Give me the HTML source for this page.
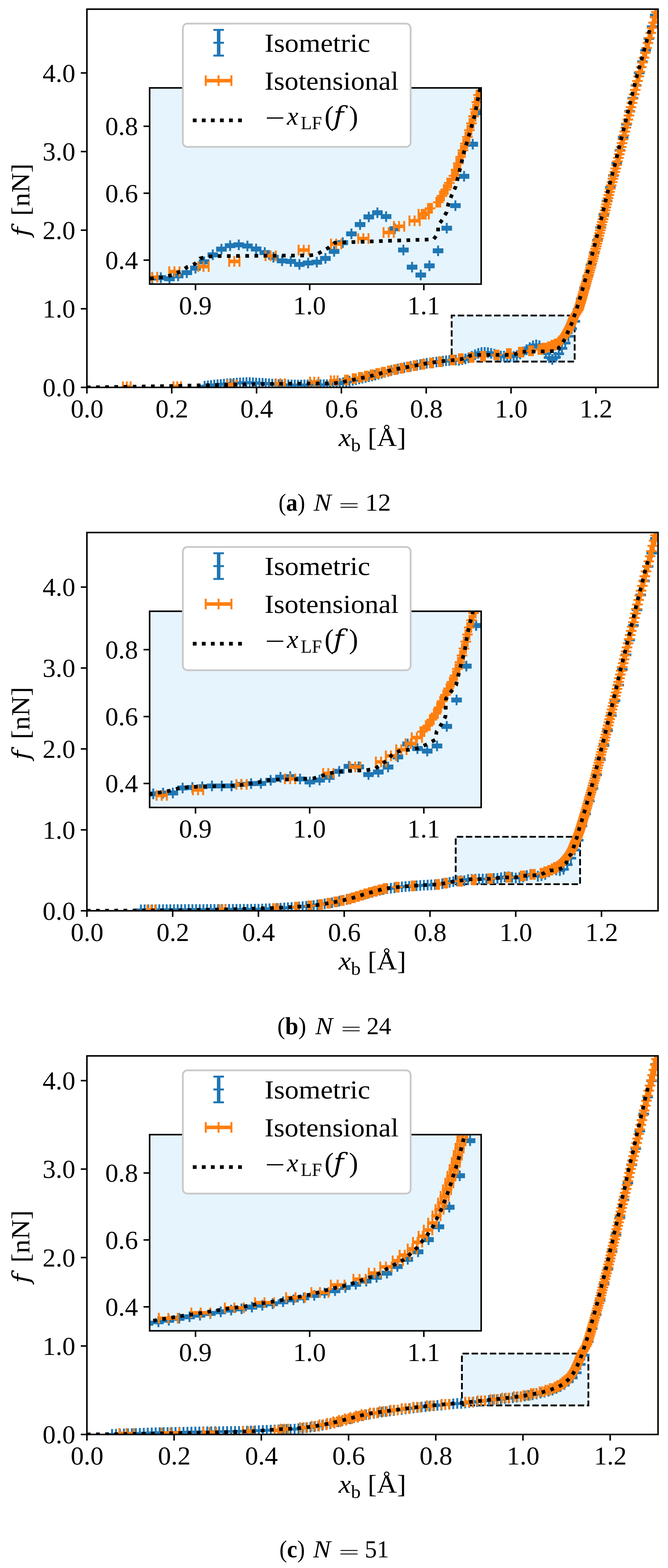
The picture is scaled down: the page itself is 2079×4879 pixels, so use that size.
<!DOCTYPE html>
<html><head><meta charset="utf-8"><title>Force-extension curves</title>
<style>
html,body{margin:0;padding:0;background:#fff;width:2079px;height:4879px;overflow:hidden;}
svg{display:block;}
text{font-family:'Liberation Serif', 'DejaVu Serif', serif;fill:#000;}
.tk{stroke:#000;stroke-width:4.8;}
text.dvf{font-family:'DejaVu Serif',serif;}
</style></head><body>
<svg width="2079" height="4879" viewBox="0 0 2079 4879">
<rect width="2079" height="4879" fill="#fff"/>
<defs>
<clipPath id="cma"><rect x="270.5" y="28.5" width="1777.5" height="1176.9"/></clipPath>
<clipPath id="cia"><rect x="465.7" y="273.5" width="1031.8" height="610.5"/></clipPath>
<clipPath id="cmb"><rect x="270.5" y="1657.0" width="1777.5" height="1177.0"/></clipPath>
<clipPath id="cib"><rect x="465.7" y="1902.0" width="1031.8" height="610.5"/></clipPath>
<clipPath id="cmc"><rect x="270.5" y="3285.5" width="1777.5" height="1178.0"/></clipPath>
<clipPath id="cic"><rect x="465.7" y="3530.5" width="1031.8" height="610.5"/></clipPath>
</defs>
<path d="M1405.7 1125.1H1788.5V981.7H1405.7Z" fill="#e6f4fd" stroke="#000" stroke-width="5.6" stroke-dasharray="20 8.3" stroke-dashoffset="7.3"/>
<g clip-path="url(#cma)">
<path d="M636.9 1200.6V1202.8M646.9 1199.4V1201.6M656.9 1198.1V1200.3M666.9 1196.9V1199.1M677.0 1196.0V1198.2M687.0 1195.1V1197.3M697.0 1194.1V1196.3M707.0 1193.2V1195.4M717.0 1192.3V1194.5M727.1 1191.6V1193.8M737.1 1191.0V1193.2M747.1 1190.4V1192.6M757.1 1189.9V1192.1M767.1 1189.3V1191.5M777.2 1189.5V1191.7M787.2 1190.1V1192.3M797.2 1190.6V1192.8M807.2 1191.1V1193.3M817.2 1191.7V1193.9M827.2 1192.3V1194.5M837.3 1193.1V1195.3M847.3 1193.9V1196.1M857.3 1194.7V1196.9M867.3 1195.6V1197.8M877.3 1196.1V1198.3M887.4 1196.2V1198.4M897.4 1196.4V1198.6M907.4 1196.6V1198.8M917.4 1196.7V1198.9M927.4 1196.9V1199.1M937.5 1196.9V1199.1M947.5 1196.7V1198.9M957.5 1196.6V1198.8M967.5 1196.4V1198.6M977.5 1196.3V1198.5M987.6 1196.2V1198.4M997.6 1196.0V1198.2M1007.6 1195.9V1198.1M1017.6 1195.8V1198.0M1027.6 1195.6V1197.8M1037.6 1195.2V1197.4M1047.7 1193.5V1195.7M1057.7 1191.7V1193.9M1067.7 1189.6V1191.8M1077.7 1187.3V1189.5M1087.7 1185.0V1187.2M1097.8 1182.7V1184.9M1107.8 1180.4V1182.6M1117.8 1178.0V1180.2M1127.8 1175.7V1177.9M1137.8 1173.4V1175.6M1147.9 1171.1V1173.3M1157.9 1168.8V1171.0M1167.9 1166.4V1168.6M1177.9 1163.4V1165.6M1187.9 1160.4V1162.6M1197.9 1157.4V1159.6M1208.0 1154.4V1156.6M1218.0 1151.4V1153.6M1228.0 1149.0V1151.2M1238.0 1146.9V1149.1M1248.0 1144.8V1147.0M1258.1 1142.7V1144.9M1268.1 1140.7V1142.9M1278.1 1138.7V1140.9M1288.1 1136.8V1139.0M1298.1 1135.0V1137.2M1308.2 1133.1V1135.3M1318.2 1131.2V1133.4M1328.2 1129.5V1131.7M1338.2 1128.1V1130.3M1348.2 1126.7V1128.9M1358.2 1125.3V1127.5M1368.3 1123.9V1126.1M1378.3 1122.5V1124.7M1388.3 1121.5V1123.7M1398.3 1120.5V1122.7M1408.3 1119.5V1121.7M1418.4 1119.3V1121.5M1428.4 1120.1V1122.3M1438.4 1117.9V1120.1M1448.4 1115.6V1117.8M1458.4 1112.3V1114.5M1468.5 1107.7V1109.9M1478.5 1102.6V1104.8M1488.5 1098.5V1100.7M1498.5 1095.9V1098.1M1508.5 1095.3V1097.5M1518.5 1096.1V1098.3M1528.6 1098.3V1100.5M1538.6 1100.9V1103.1M1548.6 1104.4V1106.6M1558.6 1107.0V1109.2M1568.6 1107.4V1109.6M1578.7 1109.6V1111.8M1588.7 1108.6V1110.8M1598.7 1108.0V1110.2M1608.7 1105.2V1107.4M1618.7 1100.1V1102.3M1628.8 1093.7V1095.9M1638.8 1087.2V1089.4M1648.8 1080.5V1082.7M1658.8 1074.9V1077.1M1668.8 1071.8V1074.0M1678.8 1074.6V1076.8M1688.9 1083.5V1085.7M1698.9 1099.1V1101.3M1708.9 1111.6V1113.8M1718.9 1117.3V1119.5M1728.9 1110.6V1112.8M1739.0 1099.7V1101.9M1749.0 1083.1V1085.3M1759.0 1066.6V1068.8M1769.0 1045.2V1047.4M1779.0 1021.7V1023.9M1789.1 998.7V1000.9M1799.1 961.9V964.1M1809.1 929.2V931.4M1819.1 894.1V896.3M1829.1 859.1V861.3M1839.1 823.7V825.9M1849.2 785.4V787.6M1859.2 747.1V749.3M1869.2 706.7V708.9M1879.2 666.3V668.5M1889.2 624.4V626.6M1899.3 582.5V584.7M1909.3 544.8V547.0M1919.3 507.0V509.2M1929.3 466.7V468.9M1939.3 426.2V428.4M1949.4 385.6V387.8M1959.4 345.1V347.3M1969.4 304.5V306.7M1979.4 264.6V266.8M1989.4 225.8V228.0M1999.4 191.0V193.2M2009.5 155.3V157.5M2019.5 118.7V120.9M2029.5 82.1V84.3M2039.5 45.5V47.7M2049.5 8.8V11.0M2059.6 -27.8V-25.6" stroke="#1f77b4" stroke-width="11" fill="none"/>
<path d="M620.4 1200.6h33M620.4 1202.8h33M630.4 1199.4h33M630.4 1201.6h33M640.4 1198.1h33M640.4 1200.3h33M650.4 1196.9h33M650.4 1199.1h33M660.5 1196.0h33M660.5 1198.2h33M670.5 1195.1h33M670.5 1197.3h33M680.5 1194.1h33M680.5 1196.3h33M690.5 1193.2h33M690.5 1195.4h33M700.5 1192.3h33M700.5 1194.5h33M710.6 1191.6h33M710.6 1193.8h33M720.6 1191.0h33M720.6 1193.2h33M730.6 1190.4h33M730.6 1192.6h33M740.6 1189.9h33M740.6 1192.1h33M750.6 1189.3h33M750.6 1191.5h33M760.7 1189.5h33M760.7 1191.7h33M770.7 1190.1h33M770.7 1192.3h33M780.7 1190.6h33M780.7 1192.8h33M790.7 1191.1h33M790.7 1193.3h33M800.7 1191.7h33M800.7 1193.9h33M810.7 1192.3h33M810.7 1194.5h33M820.8 1193.1h33M820.8 1195.3h33M830.8 1193.9h33M830.8 1196.1h33M840.8 1194.7h33M840.8 1196.9h33M850.8 1195.6h33M850.8 1197.8h33M860.8 1196.1h33M860.8 1198.3h33M870.9 1196.2h33M870.9 1198.4h33M880.9 1196.4h33M880.9 1198.6h33M890.9 1196.6h33M890.9 1198.8h33M900.9 1196.7h33M900.9 1198.9h33M910.9 1196.9h33M910.9 1199.1h33M921.0 1196.9h33M921.0 1199.1h33M931.0 1196.7h33M931.0 1198.9h33M941.0 1196.6h33M941.0 1198.8h33M951.0 1196.4h33M951.0 1198.6h33M961.0 1196.3h33M961.0 1198.5h33M971.1 1196.2h33M971.1 1198.4h33M981.1 1196.0h33M981.1 1198.2h33M991.1 1195.9h33M991.1 1198.1h33M1001.1 1195.8h33M1001.1 1198.0h33M1011.1 1195.6h33M1011.1 1197.8h33M1021.1 1195.2h33M1021.1 1197.4h33M1031.2 1193.5h33M1031.2 1195.7h33M1041.2 1191.7h33M1041.2 1193.9h33M1051.2 1189.6h33M1051.2 1191.8h33M1061.2 1187.3h33M1061.2 1189.5h33M1071.2 1185.0h33M1071.2 1187.2h33M1081.3 1182.7h33M1081.3 1184.9h33M1091.3 1180.4h33M1091.3 1182.6h33M1101.3 1178.0h33M1101.3 1180.2h33M1111.3 1175.7h33M1111.3 1177.9h33M1121.3 1173.4h33M1121.3 1175.6h33M1131.4 1171.1h33M1131.4 1173.3h33M1141.4 1168.8h33M1141.4 1171.0h33M1151.4 1166.4h33M1151.4 1168.6h33M1161.4 1163.4h33M1161.4 1165.6h33M1171.4 1160.4h33M1171.4 1162.6h33M1181.4 1157.4h33M1181.4 1159.6h33M1191.5 1154.4h33M1191.5 1156.6h33M1201.5 1151.4h33M1201.5 1153.6h33M1211.5 1149.0h33M1211.5 1151.2h33M1221.5 1146.9h33M1221.5 1149.1h33M1231.5 1144.8h33M1231.5 1147.0h33M1241.6 1142.7h33M1241.6 1144.9h33M1251.6 1140.7h33M1251.6 1142.9h33M1261.6 1138.7h33M1261.6 1140.9h33M1271.6 1136.8h33M1271.6 1139.0h33M1281.6 1135.0h33M1281.6 1137.2h33M1291.7 1133.1h33M1291.7 1135.3h33M1301.7 1131.2h33M1301.7 1133.4h33M1311.7 1129.5h33M1311.7 1131.7h33M1321.7 1128.1h33M1321.7 1130.3h33M1331.7 1126.7h33M1331.7 1128.9h33M1341.7 1125.3h33M1341.7 1127.5h33M1351.8 1123.9h33M1351.8 1126.1h33M1361.8 1122.5h33M1361.8 1124.7h33M1371.8 1121.5h33M1371.8 1123.7h33M1381.8 1120.5h33M1381.8 1122.7h33M1391.8 1119.5h33M1391.8 1121.7h33M1401.9 1119.3h33M1401.9 1121.5h33M1411.9 1120.1h33M1411.9 1122.3h33M1421.9 1117.9h33M1421.9 1120.1h33M1431.9 1115.6h33M1431.9 1117.8h33M1441.9 1112.3h33M1441.9 1114.5h33M1452.0 1107.7h33M1452.0 1109.9h33M1462.0 1102.6h33M1462.0 1104.8h33M1472.0 1098.5h33M1472.0 1100.7h33M1482.0 1095.9h33M1482.0 1098.1h33M1492.0 1095.3h33M1492.0 1097.5h33M1502.0 1096.1h33M1502.0 1098.3h33M1512.1 1098.3h33M1512.1 1100.5h33M1522.1 1100.9h33M1522.1 1103.1h33M1532.1 1104.4h33M1532.1 1106.6h33M1542.1 1107.0h33M1542.1 1109.2h33M1552.1 1107.4h33M1552.1 1109.6h33M1562.2 1109.6h33M1562.2 1111.8h33M1572.2 1108.6h33M1572.2 1110.8h33M1582.2 1108.0h33M1582.2 1110.2h33M1592.2 1105.2h33M1592.2 1107.4h33M1602.2 1100.1h33M1602.2 1102.3h33M1612.3 1093.7h33M1612.3 1095.9h33M1622.3 1087.2h33M1622.3 1089.4h33M1632.3 1080.5h33M1632.3 1082.7h33M1642.3 1074.9h33M1642.3 1077.1h33M1652.3 1071.8h33M1652.3 1074.0h33M1662.3 1074.6h33M1662.3 1076.8h33M1672.4 1083.5h33M1672.4 1085.7h33M1682.4 1099.1h33M1682.4 1101.3h33M1692.4 1111.6h33M1692.4 1113.8h33M1702.4 1117.3h33M1702.4 1119.5h33M1712.4 1110.6h33M1712.4 1112.8h33M1722.5 1099.7h33M1722.5 1101.9h33M1732.5 1083.1h33M1732.5 1085.3h33M1742.5 1066.6h33M1742.5 1068.8h33M1752.5 1045.2h33M1752.5 1047.4h33M1762.5 1021.7h33M1762.5 1023.9h33M1772.6 998.7h33M1772.6 1000.9h33M1782.6 961.9h33M1782.6 964.1h33M1792.6 929.2h33M1792.6 931.4h33M1802.6 894.1h33M1802.6 896.3h33M1812.6 859.1h33M1812.6 861.3h33M1822.6 823.7h33M1822.6 825.9h33M1832.7 785.4h33M1832.7 787.6h33M1842.7 747.1h33M1842.7 749.3h33M1852.7 706.7h33M1852.7 708.9h33M1862.7 666.3h33M1862.7 668.5h33M1872.7 624.4h33M1872.7 626.6h33M1882.8 582.5h33M1882.8 584.7h33M1892.8 544.8h33M1892.8 547.0h33M1902.8 507.0h33M1902.8 509.2h33M1912.8 466.7h33M1912.8 468.9h33M1922.8 426.2h33M1922.8 428.4h33M1932.9 385.6h33M1932.9 387.8h33M1942.9 345.1h33M1942.9 347.3h33M1952.9 304.5h33M1952.9 306.7h33M1962.9 264.6h33M1962.9 266.8h33M1972.9 225.8h33M1972.9 228.0h33M1982.9 191.0h33M1982.9 193.2h33M1993.0 155.3h33M1993.0 157.5h33M2003.0 118.7h33M2003.0 120.9h33M2013.0 82.1h33M2013.0 84.3h33M2023.0 45.5h33M2023.0 47.7h33M2033.0 8.8h33M2033.0 11.0h33M2043.1 -27.8h33M2043.1 -25.6h33M620.4 1201.7h33M636.9 1185.2v33M630.4 1200.5h33M646.9 1184.0v33M640.4 1199.2h33M656.9 1182.7v33M650.4 1198.0h33M666.9 1181.5v33M660.5 1197.1h33M677.0 1180.6v33M670.5 1196.2h33M687.0 1179.7v33M680.5 1195.2h33M697.0 1178.7v33M690.5 1194.3h33M707.0 1177.8v33M700.5 1193.4h33M717.0 1176.9v33M710.6 1192.7h33M727.1 1176.2v33M720.6 1192.1h33M737.1 1175.6v33M730.6 1191.5h33M747.1 1175.0v33M740.6 1191.0h33M757.1 1174.5v33M750.6 1190.4h33M767.1 1173.9v33M760.7 1190.6h33M777.2 1174.1v33M770.7 1191.2h33M787.2 1174.7v33M780.7 1191.7h33M797.2 1175.2v33M790.7 1192.2h33M807.2 1175.7v33M800.7 1192.8h33M817.2 1176.3v33M810.7 1193.4h33M827.2 1176.9v33M820.8 1194.2h33M837.3 1177.7v33M830.8 1195.0h33M847.3 1178.5v33M840.8 1195.8h33M857.3 1179.3v33M850.8 1196.7h33M867.3 1180.2v33M860.8 1197.2h33M877.3 1180.7v33M870.9 1197.3h33M887.4 1180.8v33M880.9 1197.5h33M897.4 1181.0v33M890.9 1197.7h33M907.4 1181.2v33M900.9 1197.8h33M917.4 1181.3v33M910.9 1198.0h33M927.4 1181.5v33M921.0 1198.0h33M937.5 1181.5v33M931.0 1197.8h33M947.5 1181.3v33M941.0 1197.7h33M957.5 1181.2v33M951.0 1197.5h33M967.5 1181.0v33M961.0 1197.4h33M977.5 1180.9v33M971.1 1197.3h33M987.6 1180.8v33M981.1 1197.1h33M997.6 1180.6v33M991.1 1197.0h33M1007.6 1180.5v33M1001.1 1196.9h33M1017.6 1180.4v33M1011.1 1196.7h33M1027.6 1180.2v33M1021.1 1196.3h33M1037.6 1179.8v33M1031.2 1194.6h33M1047.7 1178.1v33M1041.2 1192.8h33M1057.7 1176.3v33M1051.2 1190.7h33M1067.7 1174.2v33M1061.2 1188.4h33M1077.7 1171.9v33M1071.2 1186.1h33M1087.7 1169.6v33M1081.3 1183.8h33M1097.8 1167.3v33M1091.3 1181.5h33M1107.8 1165.0v33M1101.3 1179.1h33M1117.8 1162.6v33M1111.3 1176.8h33M1127.8 1160.3v33M1121.3 1174.5h33M1137.8 1158.0v33M1131.4 1172.2h33M1147.9 1155.7v33M1141.4 1169.9h33M1157.9 1153.4v33M1151.4 1167.5h33M1167.9 1151.0v33M1161.4 1164.5h33M1177.9 1148.0v33M1171.4 1161.5h33M1187.9 1145.0v33M1181.4 1158.5h33M1197.9 1142.0v33M1191.5 1155.5h33M1208.0 1139.0v33M1201.5 1152.5h33M1218.0 1136.0v33M1211.5 1150.1h33M1228.0 1133.6v33M1221.5 1148.0h33M1238.0 1131.5v33M1231.5 1145.9h33M1248.0 1129.4v33M1241.6 1143.8h33M1258.1 1127.3v33M1251.6 1141.8h33M1268.1 1125.3v33M1261.6 1139.8h33M1278.1 1123.3v33M1271.6 1137.9h33M1288.1 1121.4v33M1281.6 1136.1h33M1298.1 1119.6v33M1291.7 1134.2h33M1308.2 1117.7v33M1301.7 1132.3h33M1318.2 1115.8v33M1311.7 1130.6h33M1328.2 1114.1v33M1321.7 1129.2h33M1338.2 1112.7v33M1331.7 1127.8h33M1348.2 1111.3v33M1341.7 1126.4h33M1358.2 1109.9v33M1351.8 1125.0h33M1368.3 1108.5v33M1361.8 1123.6h33M1378.3 1107.1v33M1371.8 1122.6h33M1388.3 1106.1v33M1381.8 1121.6h33M1398.3 1105.1v33M1391.8 1120.6h33M1408.3 1104.1v33M1401.9 1120.4h33M1418.4 1103.9v33M1411.9 1121.2h33M1428.4 1104.7v33M1421.9 1119.0h33M1438.4 1102.5v33M1431.9 1116.7h33M1448.4 1100.2v33M1441.9 1113.4h33M1458.4 1096.9v33M1452.0 1108.8h33M1468.5 1092.3v33M1462.0 1103.7h33M1478.5 1087.2v33M1472.0 1099.6h33M1488.5 1083.1v33M1482.0 1097.0h33M1498.5 1080.5v33M1492.0 1096.4h33M1508.5 1079.9v33M1502.0 1097.2h33M1518.5 1080.7v33M1512.1 1099.4h33M1528.6 1082.9v33M1522.1 1102.0h33M1538.6 1085.5v33M1532.1 1105.5h33M1548.6 1089.0v33M1542.1 1108.1h33M1558.6 1091.6v33M1552.1 1108.5h33M1568.6 1092.0v33M1562.2 1110.7h33M1578.7 1094.2v33M1572.2 1109.7h33M1588.7 1093.2v33M1582.2 1109.1h33M1598.7 1092.6v33M1592.2 1106.3h33M1608.7 1089.8v33M1602.2 1101.2h33M1618.7 1084.7v33M1612.3 1094.8h33M1628.8 1078.3v33M1622.3 1088.3h33M1638.8 1071.8v33M1632.3 1081.6h33M1648.8 1065.1v33M1642.3 1076.0h33M1658.8 1059.5v33M1652.3 1072.9h33M1668.8 1056.4v33M1662.3 1075.7h33M1678.8 1059.2v33M1672.4 1084.6h33M1688.9 1068.1v33M1682.4 1100.2h33M1698.9 1083.7v33M1692.4 1112.7h33M1708.9 1096.2v33M1702.4 1118.4h33M1718.9 1101.9v33M1712.4 1111.7h33M1728.9 1095.2v33M1722.5 1100.8h33M1739.0 1084.3v33M1732.5 1084.2h33M1749.0 1067.7v33M1742.5 1067.7h33M1759.0 1051.2v33M1752.5 1046.3h33M1769.0 1029.8v33M1762.5 1022.8h33M1779.0 1006.3v33M1772.6 999.8h33M1789.1 983.3v33M1782.6 963.0h33M1799.1 946.5v33M1792.6 930.3h33M1809.1 913.8v33M1802.6 895.2h33M1819.1 878.7v33M1812.6 860.2h33M1829.1 843.7v33M1822.6 824.8h33M1839.1 808.3v33M1832.7 786.5h33M1849.2 770.0v33M1842.7 748.2h33M1859.2 731.7v33M1852.7 707.8h33M1869.2 691.3v33M1862.7 667.4h33M1879.2 650.9v33M1872.7 625.5h33M1889.2 609.0v33M1882.8 583.6h33M1899.3 567.1v33M1892.8 545.9h33M1909.3 529.4v33M1902.8 508.1h33M1919.3 491.6v33M1912.8 467.8h33M1929.3 451.3v33M1922.8 427.3h33M1939.3 410.8v33M1932.9 386.7h33M1949.4 370.2v33M1942.9 346.2h33M1959.4 329.7v33M1952.9 305.6h33M1969.4 289.1v33M1962.9 265.7h33M1979.4 249.2v33M1972.9 226.9h33M1989.4 210.4v33M1982.9 192.1h33M1999.4 175.6v33M1993.0 156.4h33M2009.5 139.9v33M2003.0 119.8h33M2019.5 103.3v33M2013.0 83.2h33M2029.5 66.7v33M2023.0 46.6h33M2039.5 30.1v33M2033.0 9.9h33M2049.5 -6.6v33M2043.1 -26.7h33M2059.6 -43.2v33" stroke="#1f77b4" stroke-width="6" fill="none"/>
<path d="M1720.1 1074.0H1724.6M1727.4 1069.7H1731.9M1737.0 1065.2H1741.5M1741.2 1060.6H1745.7M1745.6 1055.9H1750.1M1749.7 1051.1H1754.2M1755.1 1045.9H1759.6M382.7 1203.4H406.5M539.8 1203.0H563.5M708.1 1196.8H735.8M858.6 1193.7H886.3M964.8 1188.8H991.2M1029.5 1184.6H1050.6M1402.4 1120.0H1414.3M1428.1 1116.0H1440.0M1461.8 1112.3H1473.7M1497.4 1108.5H1509.3M1539.4 1104.4H1551.3M1577.7 1100.1H1589.6M1615.2 1095.7H1627.1M1646.6 1091.8H1658.5M1675.9 1087.4H1687.8M1687.9 1082.9H1699.8M1705.9 1078.8H1717.7M1716.4 1074.0H1728.3M1074.0 1182.2H1082.7M1098.1 1178.1H1106.8M1117.2 1174.1H1126.0M1135.6 1170.1H1144.3M1153.7 1166.0H1162.4M1171.3 1162.0H1180.0M1188.8 1157.9H1197.5M1207.3 1153.9H1216.0M1226.2 1149.9H1234.9M1245.9 1145.8H1254.6M1266.6 1141.8H1275.4M1287.4 1137.8H1296.1M1312.2 1133.7H1320.9M1338.5 1129.7H1347.2M1366.1 1125.7H1374.8M1757.5 1041.5H1762.0M1760.1 1036.8H1764.6M1762.8 1032.1H1767.3M1765.4 1027.3H1769.9M1768.1 1022.5H1772.6M1770.6 1017.5H1775.1M1773.0 1012.6H1777.5M1775.4 1007.5H1779.9M1777.7 1002.5H1782.2M1779.6 997.3H1784.1M1781.5 992.1H1786.0M1783.5 986.8H1787.9M1786.9 981.5H1791.4M1790.4 976.1H1794.9M1794.0 970.6H1798.5M1797.4 965.1H1801.8M1798.0 960.8H1803.8M1799.8 955.1H1805.6M1801.6 949.4H1807.4M1803.4 943.6H1809.2M1805.2 937.8H1811.0M1806.9 931.9H1812.7M1808.6 925.9H1814.4M1810.4 919.8H1816.2M1812.1 913.7H1817.9M1813.9 907.4H1819.7M1815.7 901.1H1821.5M1817.5 894.8H1823.3M1819.4 888.3H1825.2M1821.2 881.8H1827.0M1823.1 875.2H1828.9M1825.0 868.5H1830.8M1827.0 861.8H1832.8M1828.9 854.9H1834.7M1830.9 848.0H1836.7M1832.9 841.0H1838.7M1835.0 833.9H1840.8M1836.9 826.8H1842.7M1838.8 819.5H1844.6M1840.7 812.2H1846.5M1842.7 804.7H1848.5M1844.6 797.2H1850.5M1846.6 789.6H1852.4M1848.7 781.9H1854.5M1850.7 774.1H1856.5M1852.8 766.2H1858.6M1854.9 758.2H1860.7M1857.0 750.1H1862.8M1859.0 741.9H1864.8M1861.1 733.7H1866.9M1863.1 725.3H1869.0M1865.2 716.8H1871.1M1867.4 708.2H1873.2M1869.5 699.6H1875.3M1871.7 690.8H1877.5M1873.9 681.9H1879.7M1876.1 672.9H1882.0M1878.4 663.8H1884.2M1880.6 654.6H1886.4M1882.8 645.2H1888.6M1885.1 635.8H1890.9M1887.3 626.3H1893.1M1889.6 616.6H1895.5M1892.0 606.8H1897.8M1894.3 596.9H1900.2M1896.7 586.9H1902.5M1899.4 576.8H1905.2M1902.1 566.5H1907.9M1904.8 556.1H1910.6M1907.6 545.6H1913.4M1910.5 535.0H1916.3M1913.3 524.2H1919.1M1916.2 513.3H1922.0M1919.1 502.3H1924.9M1921.8 491.2H1927.6M1924.6 479.9H1930.4M1927.4 468.5H1933.3M1930.3 456.9H1936.1M1933.2 445.2H1939.0M1936.1 433.4H1941.9M1939.1 421.4H1944.9M1942.1 409.3H1947.9M1945.1 397.0H1950.9M1948.2 384.6H1954.0M1951.3 372.0H1957.1M1954.4 359.3H1960.2M1957.6 346.4H1963.4M1960.8 333.4H1966.6M1964.1 320.2H1969.9M1967.4 306.9H1973.2M1970.7 293.4H1976.5M1974.1 279.7H1979.9M1977.6 265.9H1983.5M1981.2 251.9H1987.0M1984.8 237.8H1990.6M1988.7 223.4H1994.5M1992.9 208.9H1998.7M1997.1 194.3H2002.9M2001.4 179.4H2007.2M2005.6 164.4H2011.4M2009.7 149.2H2015.5M2013.9 133.8H2019.7M2018.2 118.2H2024.0M2022.5 102.5H2028.3M2026.9 86.5H2032.7M2031.3 70.4H2037.1M2035.8 54.0H2041.6M2040.3 37.5H2046.1M2044.9 20.8H2050.7M2049.5 3.8H2055.3M2054.2 -13.3H2060.0M2058.9 -30.6H2064.7M2063.7 -48.2H2069.5M2068.6 -65.9H2074.4" stroke="#ff7f0e" stroke-width="11" fill="none"/>
<path d="M1720.1 1057.5v33M1724.6 1057.5v33M1727.4 1053.2v33M1731.9 1053.2v33M1737.0 1048.7v33M1741.5 1048.7v33M1741.2 1044.1v33M1745.7 1044.1v33M1745.6 1039.4v33M1750.1 1039.4v33M1749.7 1034.6v33M1754.2 1034.6v33M1755.1 1029.4v33M1759.6 1029.4v33M382.7 1186.9v33M406.5 1186.9v33M539.8 1186.5v33M563.5 1186.5v33M708.1 1180.3v33M735.8 1180.3v33M858.6 1177.2v33M886.3 1177.2v33M964.8 1172.3v33M991.2 1172.3v33M1029.5 1168.1v33M1050.6 1168.1v33M1402.4 1103.5v33M1414.3 1103.5v33M1428.1 1099.5v33M1440.0 1099.5v33M1461.8 1095.8v33M1473.7 1095.8v33M1497.4 1092.0v33M1509.3 1092.0v33M1539.4 1087.9v33M1551.3 1087.9v33M1577.7 1083.6v33M1589.6 1083.6v33M1615.2 1079.2v33M1627.1 1079.2v33M1646.6 1075.3v33M1658.5 1075.3v33M1675.9 1070.9v33M1687.8 1070.9v33M1687.9 1066.4v33M1699.8 1066.4v33M1705.9 1062.3v33M1717.7 1062.3v33M1716.4 1057.5v33M1728.3 1057.5v33M1074.0 1165.7v33M1082.7 1165.7v33M1098.1 1161.6v33M1106.8 1161.6v33M1117.2 1157.6v33M1126.0 1157.6v33M1135.6 1153.6v33M1144.3 1153.6v33M1153.7 1149.5v33M1162.4 1149.5v33M1171.3 1145.5v33M1180.0 1145.5v33M1188.8 1141.4v33M1197.5 1141.4v33M1207.3 1137.4v33M1216.0 1137.4v33M1226.2 1133.4v33M1234.9 1133.4v33M1245.9 1129.3v33M1254.6 1129.3v33M1266.6 1125.3v33M1275.4 1125.3v33M1287.4 1121.3v33M1296.1 1121.3v33M1312.2 1117.2v33M1320.9 1117.2v33M1338.5 1113.2v33M1347.2 1113.2v33M1366.1 1109.2v33M1374.8 1109.2v33M1757.5 1025.0v33M1762.0 1025.0v33M1760.1 1020.3v33M1764.6 1020.3v33M1762.8 1015.6v33M1767.3 1015.6v33M1765.4 1010.8v33M1769.9 1010.8v33M1768.1 1006.0v33M1772.6 1006.0v33M1770.6 1001.0v33M1775.1 1001.0v33M1773.0 996.1v33M1777.5 996.1v33M1775.4 991.0v33M1779.9 991.0v33M1777.7 986.0v33M1782.2 986.0v33M1779.6 980.8v33M1784.1 980.8v33M1781.5 975.6v33M1786.0 975.6v33M1783.5 970.3v33M1787.9 970.3v33M1786.9 965.0v33M1791.4 965.0v33M1790.4 959.6v33M1794.9 959.6v33M1794.0 954.1v33M1798.5 954.1v33M1797.4 948.6v33M1801.8 948.6v33M1798.0 944.3v33M1803.8 944.3v33M1799.8 938.6v33M1805.6 938.6v33M1801.6 932.9v33M1807.4 932.9v33M1803.4 927.1v33M1809.2 927.1v33M1805.2 921.3v33M1811.0 921.3v33M1806.9 915.4v33M1812.7 915.4v33M1808.6 909.4v33M1814.4 909.4v33M1810.4 903.3v33M1816.2 903.3v33M1812.1 897.2v33M1817.9 897.2v33M1813.9 890.9v33M1819.7 890.9v33M1815.7 884.6v33M1821.5 884.6v33M1817.5 878.3v33M1823.3 878.3v33M1819.4 871.8v33M1825.2 871.8v33M1821.2 865.3v33M1827.0 865.3v33M1823.1 858.7v33M1828.9 858.7v33M1825.0 852.0v33M1830.8 852.0v33M1827.0 845.3v33M1832.8 845.3v33M1828.9 838.4v33M1834.7 838.4v33M1830.9 831.5v33M1836.7 831.5v33M1832.9 824.5v33M1838.7 824.5v33M1835.0 817.4v33M1840.8 817.4v33M1836.9 810.3v33M1842.7 810.3v33M1838.8 803.0v33M1844.6 803.0v33M1840.7 795.7v33M1846.5 795.7v33M1842.7 788.2v33M1848.5 788.2v33M1844.6 780.7v33M1850.5 780.7v33M1846.6 773.1v33M1852.4 773.1v33M1848.7 765.4v33M1854.5 765.4v33M1850.7 757.6v33M1856.5 757.6v33M1852.8 749.7v33M1858.6 749.7v33M1854.9 741.7v33M1860.7 741.7v33M1857.0 733.6v33M1862.8 733.6v33M1859.0 725.4v33M1864.8 725.4v33M1861.1 717.2v33M1866.9 717.2v33M1863.1 708.8v33M1869.0 708.8v33M1865.2 700.3v33M1871.1 700.3v33M1867.4 691.7v33M1873.2 691.7v33M1869.5 683.1v33M1875.3 683.1v33M1871.7 674.3v33M1877.5 674.3v33M1873.9 665.4v33M1879.7 665.4v33M1876.1 656.4v33M1882.0 656.4v33M1878.4 647.3v33M1884.2 647.3v33M1880.6 638.1v33M1886.4 638.1v33M1882.8 628.7v33M1888.6 628.7v33M1885.1 619.3v33M1890.9 619.3v33M1887.3 609.8v33M1893.1 609.8v33M1889.6 600.1v33M1895.5 600.1v33M1892.0 590.3v33M1897.8 590.3v33M1894.3 580.4v33M1900.2 580.4v33M1896.7 570.4v33M1902.5 570.4v33M1899.4 560.3v33M1905.2 560.3v33M1902.1 550.0v33M1907.9 550.0v33M1904.8 539.6v33M1910.6 539.6v33M1907.6 529.1v33M1913.4 529.1v33M1910.5 518.5v33M1916.3 518.5v33M1913.3 507.7v33M1919.1 507.7v33M1916.2 496.8v33M1922.0 496.8v33M1919.1 485.8v33M1924.9 485.8v33M1921.8 474.7v33M1927.6 474.7v33M1924.6 463.4v33M1930.4 463.4v33M1927.4 452.0v33M1933.3 452.0v33M1930.3 440.4v33M1936.1 440.4v33M1933.2 428.7v33M1939.0 428.7v33M1936.1 416.9v33M1941.9 416.9v33M1939.1 404.9v33M1944.9 404.9v33M1942.1 392.8v33M1947.9 392.8v33M1945.1 380.5v33M1950.9 380.5v33M1948.2 368.1v33M1954.0 368.1v33M1951.3 355.5v33M1957.1 355.5v33M1954.4 342.8v33M1960.2 342.8v33M1957.6 329.9v33M1963.4 329.9v33M1960.8 316.9v33M1966.6 316.9v33M1964.1 303.7v33M1969.9 303.7v33M1967.4 290.4v33M1973.2 290.4v33M1970.7 276.9v33M1976.5 276.9v33M1974.1 263.2v33M1979.9 263.2v33M1977.6 249.4v33M1983.5 249.4v33M1981.2 235.4v33M1987.0 235.4v33M1984.8 221.3v33M1990.6 221.3v33M1988.7 206.9v33M1994.5 206.9v33M1992.9 192.4v33M1998.7 192.4v33M1997.1 177.8v33M2002.9 177.8v33M2001.4 162.9v33M2007.2 162.9v33M2005.6 147.9v33M2011.4 147.9v33M2009.7 132.7v33M2015.5 132.7v33M2013.9 117.3v33M2019.7 117.3v33M2018.2 101.7v33M2024.0 101.7v33M2022.5 86.0v33M2028.3 86.0v33M2026.9 70.0v33M2032.7 70.0v33M2031.3 53.9v33M2037.1 53.9v33M2035.8 37.5v33M2041.6 37.5v33M2040.3 21.0v33M2046.1 21.0v33M2044.9 4.3v33M2050.7 4.3v33M2049.5 -12.7v33M2055.3 -12.7v33M2054.2 -29.8v33M2060.0 -29.8v33M2058.9 -47.1v33M2064.7 -47.1v33M2063.7 -64.7v33M2069.5 -64.7v33M2068.6 -82.4v33M2074.4 -82.4v33M1705.9 1074.0h33M1722.4 1057.5v33M1713.1 1069.7h33M1729.6 1053.2v33M1722.8 1065.2h33M1739.3 1048.7v33M1727.0 1060.6h33M1743.5 1044.1v33M1731.3 1055.9h33M1747.8 1039.4v33M1735.4 1051.1h33M1751.9 1034.6v33M1740.8 1045.9h33M1757.3 1029.4v33M378.1 1203.4h33M394.6 1186.9v33M535.2 1203.0h33M551.7 1186.5v33M705.4 1196.8h33M721.9 1180.3v33M855.9 1193.7h33M872.4 1177.2v33M961.5 1188.8h33M978.0 1172.3v33M1023.6 1184.6h33M1040.1 1168.1v33M1391.8 1120.0h33M1408.3 1103.5v33M1417.6 1116.0h33M1434.1 1099.5v33M1451.2 1112.3h33M1467.7 1095.8v33M1486.9 1108.5h33M1503.4 1092.0v33M1528.9 1104.4h33M1545.4 1087.9v33M1567.1 1100.1h33M1583.6 1083.6v33M1604.6 1095.7h33M1621.1 1079.2v33M1636.0 1091.8h33M1652.5 1075.3v33M1665.3 1087.4h33M1681.8 1070.9v33M1677.4 1082.9h33M1693.9 1066.4v33M1695.3 1078.8h33M1711.8 1062.3v33M1705.9 1074.0h33M1722.4 1057.5v33M1061.8 1182.2h33M1078.3 1165.7v33M1085.9 1178.1h33M1102.4 1161.6v33M1105.1 1174.1h33M1121.6 1157.6v33M1123.4 1170.1h33M1139.9 1153.6v33M1141.6 1166.0h33M1158.1 1149.5v33M1159.1 1162.0h33M1175.6 1145.5v33M1176.6 1157.9h33M1193.1 1141.4v33M1195.1 1153.9h33M1211.6 1137.4v33M1214.1 1149.9h33M1230.6 1133.4v33M1233.7 1145.8h33M1250.2 1129.3v33M1254.5 1141.8h33M1271.0 1125.3v33M1275.3 1137.8h33M1291.8 1121.3v33M1300.1 1133.7h33M1316.6 1117.2v33M1326.3 1129.7h33M1342.8 1113.2v33M1354.0 1125.7h33M1370.5 1109.2v33M1743.3 1041.5h33M1759.8 1025.0v33M1745.9 1036.8h33M1762.4 1020.3v33M1748.5 1032.1h33M1765.0 1015.6v33M1751.2 1027.3h33M1767.7 1010.8v33M1753.9 1022.5h33M1770.4 1006.0v33M1756.4 1017.5h33M1772.9 1001.0v33M1758.8 1012.6h33M1775.3 996.1v33M1761.1 1007.5h33M1777.6 991.0v33M1763.4 1002.5h33M1779.9 986.0v33M1765.3 997.3h33M1781.8 980.8v33M1767.3 992.1h33M1783.8 975.6v33M1769.2 986.8h33M1785.7 970.3v33M1772.7 981.5h33M1789.2 965.0v33M1776.2 976.1h33M1792.7 959.6v33M1779.8 970.6h33M1796.3 954.1v33M1783.1 965.1h33M1799.6 948.6v33M1784.4 960.8h33M1800.9 944.3v33M1786.2 955.1h33M1802.7 938.6v33M1788.0 949.4h33M1804.5 932.9v33M1789.8 943.6h33M1806.3 927.1v33M1791.6 937.8h33M1808.1 921.3v33M1793.3 931.9h33M1809.8 915.4v33M1795.0 925.9h33M1811.5 909.4v33M1796.8 919.8h33M1813.3 903.3v33M1798.5 913.7h33M1815.0 897.2v33M1800.3 907.4h33M1816.8 890.9v33M1802.1 901.1h33M1818.6 884.6v33M1803.9 894.8h33M1820.4 878.3v33M1805.8 888.3h33M1822.3 871.8v33M1807.6 881.8h33M1824.1 865.3v33M1809.5 875.2h33M1826.0 858.7v33M1811.4 868.5h33M1827.9 852.0v33M1813.4 861.8h33M1829.9 845.3v33M1815.3 854.9h33M1831.8 838.4v33M1817.3 848.0h33M1833.8 831.5v33M1819.3 841.0h33M1835.8 824.5v33M1821.4 833.9h33M1837.9 817.4v33M1823.3 826.8h33M1839.8 810.3v33M1825.2 819.5h33M1841.7 803.0v33M1827.1 812.2h33M1843.6 795.7v33M1829.1 804.7h33M1845.6 788.2v33M1831.1 797.2h33M1847.6 780.7v33M1833.0 789.6h33M1849.5 773.1v33M1835.1 781.9h33M1851.6 765.4v33M1837.1 774.1h33M1853.6 757.6v33M1839.2 766.2h33M1855.7 749.7v33M1841.3 758.2h33M1857.8 741.7v33M1843.4 750.1h33M1859.9 733.6v33M1845.4 741.9h33M1861.9 725.4v33M1847.5 733.7h33M1864.0 717.2v33M1849.6 725.3h33M1866.1 708.8v33M1851.7 716.8h33M1868.2 700.3v33M1853.8 708.2h33M1870.3 691.7v33M1855.9 699.6h33M1872.4 683.1v33M1858.1 690.8h33M1874.6 674.3v33M1860.3 681.9h33M1876.8 665.4v33M1862.6 672.9h33M1879.1 656.4v33M1864.8 663.8h33M1881.3 647.3v33M1867.0 654.6h33M1883.5 638.1v33M1869.2 645.2h33M1885.7 628.7v33M1871.5 635.8h33M1888.0 619.3v33M1873.7 626.3h33M1890.2 609.8v33M1876.0 616.6h33M1892.5 600.1v33M1878.4 606.8h33M1894.9 590.3v33M1880.7 596.9h33M1897.2 580.4v33M1883.1 586.9h33M1899.6 570.4v33M1885.8 576.8h33M1902.3 560.3v33M1888.5 566.5h33M1905.0 550.0v33M1891.2 556.1h33M1907.7 539.6v33M1894.0 545.6h33M1910.5 529.1v33M1896.9 535.0h33M1913.4 518.5v33M1899.7 524.2h33M1916.2 507.7v33M1902.6 513.3h33M1919.1 496.8v33M1905.5 502.3h33M1922.0 485.8v33M1908.2 491.2h33M1924.7 474.7v33M1911.0 479.9h33M1927.5 463.4v33M1913.9 468.5h33M1930.4 452.0v33M1916.7 456.9h33M1933.2 440.4v33M1919.6 445.2h33M1936.1 428.7v33M1922.5 433.4h33M1939.0 416.9v33M1925.5 421.4h33M1942.0 404.9v33M1928.5 409.3h33M1945.0 392.8v33M1931.5 397.0h33M1948.0 380.5v33M1934.6 384.6h33M1951.1 368.1v33M1937.7 372.0h33M1954.2 355.5v33M1940.8 359.3h33M1957.3 342.8v33M1944.0 346.4h33M1960.5 329.9v33M1947.2 333.4h33M1963.7 316.9v33M1950.5 320.2h33M1967.0 303.7v33M1953.8 306.9h33M1970.3 290.4v33M1957.1 293.4h33M1973.6 276.9v33M1960.5 279.7h33M1977.0 263.2v33M1964.0 265.9h33M1980.5 249.4v33M1967.6 251.9h33M1984.1 235.4v33M1971.2 237.8h33M1987.7 221.3v33M1975.1 223.4h33M1991.6 206.9v33M1979.3 208.9h33M1995.8 192.4v33M1983.5 194.3h33M2000.0 177.8v33M1987.8 179.4h33M2004.3 162.9v33M1992.0 164.4h33M2008.5 147.9v33M1996.1 149.2h33M2012.6 132.7v33M2000.3 133.8h33M2016.8 117.3v33M2004.6 118.2h33M2021.1 101.7v33M2008.9 102.5h33M2025.4 86.0v33M2013.3 86.5h33M2029.8 70.0v33M2017.7 70.4h33M2034.2 53.9v33M2022.2 54.0h33M2038.7 37.5v33M2026.7 37.5h33M2043.2 21.0v33M2031.3 20.8h33M2047.8 4.3v33M2035.9 3.8h33M2052.4 -12.7v33M2040.6 -13.3h33M2057.1 -29.8v33M2045.3 -30.6h33M2061.8 -47.1v33M2050.1 -48.2h33M2066.6 -64.7v33M2055.0 -65.9h33M2071.5 -82.4v33" stroke="#ff7f0e" stroke-width="6" fill="none"/>
<polyline points="270.5,1205.4 402.5,1203.4 534.5,1201.0 666.5,1198.1 785.3,1195.6 864.5,1194.4 1036.1,1192.7 1062.5,1189.5 1115.3,1178.5 1168.1,1166.5 1223.5,1150.1 1277.7,1140.3 1333.1,1129.6 1387.2,1122.7 1411.5,1120.6 1421.5,1120.0 1432.1,1118.3 1441.3,1115.8 1449.3,1112.5 1457.8,1110.3 1463.8,1106.3 1472.4,1105.0 1482.3,1104.6 1590.5,1104.1 1598.4,1103.5 1612.3,1098.5 1619.5,1094.8 1640.7,1094.4 1680.9,1093.5 1733.7,1092.4 1739.0,1088.0 1739.0,1082.1 1744.3,1077.7 1748.9,1072.3 1751.0,1066.0 1754.8,1060.0 1759.3,1053.9 1764.2,1041.1 1769.1,1028.3 1775.0,1015.6 1780.8,1002.9 1785.1,989.9 1787.0,983.5 1793.4,965.9 1801.7,939.5 1817.3,885.0 1832.9,830.7 1854.2,749.0 1874.6,667.0 1894.4,584.1 1915.4,505.1 1969.9,284.5 1983.7,230.2 1999.2,176.6 2021.1,96.6 2023.7,86.4" fill="none" stroke="#000" stroke-width="11.5" stroke-dasharray="11.5 17"/>
</g>
<line x1="270.5" y1="1205.4" x2="270.5" y2="1224.4" class="tk"/>
<text x="271.0" y="1298.9" font-size="80" text-anchor="middle" textLength="102" lengthAdjust="spacingAndGlyphs" class="tl">0.0</text>
<line x1="534.5" y1="1205.4" x2="534.5" y2="1224.4" class="tk"/>
<text x="535.0" y="1298.9" font-size="80" text-anchor="middle" textLength="102" lengthAdjust="spacingAndGlyphs" class="tl">0.2</text>
<line x1="798.5" y1="1205.4" x2="798.5" y2="1224.4" class="tk"/>
<text x="799.0" y="1298.9" font-size="80" text-anchor="middle" textLength="102" lengthAdjust="spacingAndGlyphs" class="tl">0.4</text>
<line x1="1062.5" y1="1205.4" x2="1062.5" y2="1224.4" class="tk"/>
<text x="1063.0" y="1298.9" font-size="80" text-anchor="middle" textLength="102" lengthAdjust="spacingAndGlyphs" class="tl">0.6</text>
<line x1="1326.5" y1="1205.4" x2="1326.5" y2="1224.4" class="tk"/>
<text x="1327.0" y="1298.9" font-size="80" text-anchor="middle" textLength="102" lengthAdjust="spacingAndGlyphs" class="tl">0.8</text>
<line x1="1590.5" y1="1205.4" x2="1590.5" y2="1224.4" class="tk"/>
<text x="1591.0" y="1298.9" font-size="80" text-anchor="middle" textLength="102" lengthAdjust="spacingAndGlyphs" class="tl">1.0</text>
<line x1="1854.5" y1="1205.4" x2="1854.5" y2="1224.4" class="tk"/>
<text x="1855.0" y="1298.9" font-size="80" text-anchor="middle" textLength="102" lengthAdjust="spacingAndGlyphs" class="tl">1.2</text>
<line x1="251.5" y1="1205.4" x2="270.5" y2="1205.4" class="tk"/>
<text x="234.5" y="1232.9" font-size="80" text-anchor="end" textLength="102" lengthAdjust="spacingAndGlyphs" class="tl">0.0</text>
<line x1="251.5" y1="960.8" x2="270.5" y2="960.8" class="tk"/>
<text x="234.5" y="988.3" font-size="80" text-anchor="end" textLength="102" lengthAdjust="spacingAndGlyphs" class="tl">1.0</text>
<line x1="251.5" y1="716.2" x2="270.5" y2="716.2" class="tk"/>
<text x="234.5" y="743.7" font-size="80" text-anchor="end" textLength="102" lengthAdjust="spacingAndGlyphs" class="tl">2.0</text>
<line x1="251.5" y1="471.6" x2="270.5" y2="471.6" class="tk"/>
<text x="234.5" y="499.1" font-size="80" text-anchor="end" textLength="102" lengthAdjust="spacingAndGlyphs" class="tl">3.0</text>
<line x1="251.5" y1="227.0" x2="270.5" y2="227.0" class="tk"/>
<text x="234.5" y="254.5" font-size="80" text-anchor="end" textLength="102" lengthAdjust="spacingAndGlyphs" class="tl">4.0</text>
<rect x="270.5" y="28.5" width="1777.5" height="1176.9" fill="none" stroke="#000" stroke-width="4.8"/>
<text x="1054" y="1388.0" font-size="80" textLength="210" lengthAdjust="spacingAndGlyphs" class="lab"><tspan font-style="italic">x</tspan><tspan font-size="56" dy="16">b</tspan><tspan dy="-16"> [Å]</tspan></text>
<text transform="translate(91.3 735.5) rotate(-90)" x="0" y="0" font-size="72" font-style="italic" class="dvf" textLength="29" lengthAdjust="spacingAndGlyphs">f</text>
<text transform="translate(91.3 671.7) rotate(-90)" x="0" y="0" font-size="80" textLength="163" lengthAdjust="spacingAndGlyphs" class="lab">[nN]</text>
<text x="866.8" y="1589.3" font-size="76" textLength="83" lengthAdjust="spacingAndGlyphs" class="lab">(<tspan font-weight="bold">a</tspan>)</text>
<text x="976.3" y="1589.3" font-size="76" font-style="italic" textLength="54.5" lengthAdjust="spacingAndGlyphs" class="lab">N</text>
<text transform="translate(0 1572.5) scale(1 0.72) translate(0 -1572.5)" x="1054" y="1598.3" font-size="76" textLength="64.5" lengthAdjust="spacingAndGlyphs" class="lab">=</text>
<text x="1136.6" y="1589.3" font-size="76" textLength="80" lengthAdjust="spacingAndGlyphs" class="lab">12</text>
<rect x="465.7" y="273.5" width="1031.8" height="610.5" fill="#e6f4fd"/>
<g clip-path="url(#cia)">
<path d="M-1603.0 1205.5V1214.9M-1576.0 1200.3V1209.6M-1549.1 1195.0V1204.4M-1522.1 1189.8V1199.2M-1495.1 1185.8V1195.2M-1468.2 1181.9V1191.2M-1441.2 1177.9V1187.3M-1414.2 1174.0V1183.3M-1387.3 1170.0V1179.4M-1360.3 1167.2V1176.6M-1333.3 1164.7V1174.1M-1306.4 1162.2V1171.6M-1279.4 1159.7V1169.1M-1252.4 1157.2V1166.6M-1225.5 1158.4V1167.7M-1198.5 1160.6V1170.0M-1171.5 1162.9V1172.3M-1144.6 1165.1V1174.5M-1117.6 1167.4V1176.8M-1090.6 1170.0V1179.3M-1063.6 1173.5V1182.8M-1036.7 1177.0V1186.4M-1009.7 1180.5V1189.9M-982.7 1184.0V1193.4M-955.8 1186.1V1195.5M-928.8 1186.9V1196.2M-901.8 1187.6V1197.0M-874.9 1188.3V1197.7M-847.9 1189.0V1198.4M-820.9 1189.7V1199.1M-794.0 1189.5V1198.9M-767.0 1189.0V1198.3M-740.0 1188.4V1197.7M-713.1 1187.8V1197.1M-686.1 1187.2V1196.5M-659.1 1186.6V1196.0M-632.2 1186.0V1195.4M-605.2 1185.4V1194.8M-578.2 1184.8V1194.2M-551.3 1184.2V1193.6M-524.3 1182.6V1191.9M-497.3 1175.0V1184.4M-470.4 1167.5V1176.9M-443.4 1158.8V1168.2M-416.4 1148.9V1158.3M-389.5 1139.0V1148.4M-362.5 1129.2V1138.5M-335.5 1119.3V1128.7M-308.6 1109.4V1118.8M-281.6 1099.5V1108.9M-254.6 1089.7V1099.0M-227.7 1079.8V1089.1M-200.7 1069.9V1079.3M-173.7 1060.0V1069.4M-146.8 1047.2V1056.6M-119.8 1034.4V1043.8M-92.8 1021.6V1030.9M-65.9 1008.7V1018.1M-38.9 995.9V1005.2M-11.9 985.8V995.2M15.0 976.9V986.3M42.0 968.0V977.4M69.0 959.2V968.5M95.9 950.3V959.6M122.9 941.8V951.2M149.9 933.9V943.3M176.8 926.0V935.4M203.8 918.1V927.5M230.8 910.2V919.6M257.7 902.6V912.0M284.7 896.7V906.1M311.7 890.8V900.1M338.6 884.8V894.2M365.6 878.9V888.3M392.6 873.0V882.4M419.6 868.6V878.0M446.5 864.5V873.9M473.5 860.3V869.7M500.5 859.3V868.7M527.4 862.8V872.1M554.4 853.5V862.9M581.4 843.7V853.1M608.3 829.7V839.1M635.3 810.1V819.5M662.3 788.2V797.5M689.2 770.6V780.0M716.2 759.7V769.1M743.2 757.0V766.4M770.1 760.8V770.2M797.1 770.1V779.5M824.1 781.2V790.5M851.0 795.9V805.3M878.0 806.9V816.3M905.0 808.8V818.2M931.9 818.0V827.4M958.9 813.7V823.0M985.9 811.1V820.5M1012.8 799.4V808.7M1039.8 777.5V786.9M1066.8 750.3V759.7M1093.7 722.9V732.2M1120.7 694.1V703.5M1147.7 670.3V679.7M1174.6 657.3V666.7M1201.6 669.2V678.6M1228.6 707.0V716.4M1255.5 773.2V782.6M1282.5 826.6V836.0M1309.5 851.0V860.4M1336.4 822.4V831.8M1363.4 775.7V785.1M1390.4 705.4V714.7M1417.3 635.2V644.6M1444.3 543.9V553.3M1471.3 444.1V453.4M1498.2 346.2V355.5M1525.2 189.2V198.6M1552.2 50.1V59.4M1579.1 -99.3V-89.9M1606.1 -248.2V-238.8M1633.1 -399.0V-389.7M1660.0 -562.0V-552.6M1687.0 -725.1V-715.7M1714.0 -897.0V-887.6M1740.9 -1068.9V-1059.5M1767.9 -1247.4V-1238.1M1794.9 -1425.8V-1416.4M1821.8 -1586.3V-1576.9M1848.8 -1746.9V-1737.5M1875.8 -1918.5V-1909.1M1902.8 -2091.1V-2081.7M1929.7 -2263.7V-2254.3M1956.7 -2436.3V-2426.9M1983.7 -2608.9V-2599.5M2010.6 -2778.8V-2769.5M2037.6 -2944.1V-2934.7M2064.6 -3092.0V-3082.7M2091.5 -3244.2V-3234.9M2118.5 -3399.9V-3390.5M2145.5 -3555.7V-3546.3M2172.4 -3711.6V-3702.3M2199.4 -3867.6V-3858.2M2226.4 -4023.5V-4014.2" stroke="#1f77b4" stroke-width="11" fill="none"/>
<path d="M-1619.5 1205.5h33M-1619.5 1214.9h33M-1592.5 1200.3h33M-1592.5 1209.6h33M-1565.6 1195.0h33M-1565.6 1204.4h33M-1538.6 1189.8h33M-1538.6 1199.2h33M-1511.6 1185.8h33M-1511.6 1195.2h33M-1484.7 1181.9h33M-1484.7 1191.2h33M-1457.7 1177.9h33M-1457.7 1187.3h33M-1430.7 1174.0h33M-1430.7 1183.3h33M-1403.8 1170.0h33M-1403.8 1179.4h33M-1376.8 1167.2h33M-1376.8 1176.6h33M-1349.8 1164.7h33M-1349.8 1174.1h33M-1322.9 1162.2h33M-1322.9 1171.6h33M-1295.9 1159.7h33M-1295.9 1169.1h33M-1268.9 1157.2h33M-1268.9 1166.6h33M-1242.0 1158.4h33M-1242.0 1167.7h33M-1215.0 1160.6h33M-1215.0 1170.0h33M-1188.0 1162.9h33M-1188.0 1172.3h33M-1161.1 1165.1h33M-1161.1 1174.5h33M-1134.1 1167.4h33M-1134.1 1176.8h33M-1107.1 1170.0h33M-1107.1 1179.3h33M-1080.1 1173.5h33M-1080.1 1182.8h33M-1053.2 1177.0h33M-1053.2 1186.4h33M-1026.2 1180.5h33M-1026.2 1189.9h33M-999.2 1184.0h33M-999.2 1193.4h33M-972.3 1186.1h33M-972.3 1195.5h33M-945.3 1186.9h33M-945.3 1196.2h33M-918.3 1187.6h33M-918.3 1197.0h33M-891.4 1188.3h33M-891.4 1197.7h33M-864.4 1189.0h33M-864.4 1198.4h33M-837.4 1189.7h33M-837.4 1199.1h33M-810.5 1189.5h33M-810.5 1198.9h33M-783.5 1189.0h33M-783.5 1198.3h33M-756.5 1188.4h33M-756.5 1197.7h33M-729.6 1187.8h33M-729.6 1197.1h33M-702.6 1187.2h33M-702.6 1196.5h33M-675.6 1186.6h33M-675.6 1196.0h33M-648.7 1186.0h33M-648.7 1195.4h33M-621.7 1185.4h33M-621.7 1194.8h33M-594.7 1184.8h33M-594.7 1194.2h33M-567.8 1184.2h33M-567.8 1193.6h33M-540.8 1182.6h33M-540.8 1191.9h33M-513.8 1175.0h33M-513.8 1184.4h33M-486.9 1167.5h33M-486.9 1176.9h33M-459.9 1158.8h33M-459.9 1168.2h33M-432.9 1148.9h33M-432.9 1158.3h33M-406.0 1139.0h33M-406.0 1148.4h33M-379.0 1129.2h33M-379.0 1138.5h33M-352.0 1119.3h33M-352.0 1128.7h33M-325.1 1109.4h33M-325.1 1118.8h33M-298.1 1099.5h33M-298.1 1108.9h33M-271.1 1089.7h33M-271.1 1099.0h33M-244.2 1079.8h33M-244.2 1089.1h33M-217.2 1069.9h33M-217.2 1079.3h33M-190.2 1060.0h33M-190.2 1069.4h33M-163.3 1047.2h33M-163.3 1056.6h33M-136.3 1034.4h33M-136.3 1043.8h33M-109.3 1021.6h33M-109.3 1030.9h33M-82.4 1008.7h33M-82.4 1018.1h33M-55.4 995.9h33M-55.4 1005.2h33M-28.4 985.8h33M-28.4 995.2h33M-1.5 976.9h33M-1.5 986.3h33M25.5 968.0h33M25.5 977.4h33M52.5 959.2h33M52.5 968.5h33M79.4 950.3h33M79.4 959.6h33M106.4 941.8h33M106.4 951.2h33M133.4 933.9h33M133.4 943.3h33M160.3 926.0h33M160.3 935.4h33M187.3 918.1h33M187.3 927.5h33M214.3 910.2h33M214.3 919.6h33M241.2 902.6h33M241.2 912.0h33M268.2 896.7h33M268.2 906.1h33M295.2 890.8h33M295.2 900.1h33M322.1 884.8h33M322.1 894.2h33M349.1 878.9h33M349.1 888.3h33M376.1 873.0h33M376.1 882.4h33M403.1 868.6h33M403.1 878.0h33M430.0 864.5h33M430.0 873.9h33M457.0 860.3h33M457.0 869.7h33M484.0 859.3h33M484.0 868.7h33M510.9 862.8h33M510.9 872.1h33M537.9 853.5h33M537.9 862.9h33M564.9 843.7h33M564.9 853.1h33M591.8 829.7h33M591.8 839.1h33M618.8 810.1h33M618.8 819.5h33M645.8 788.2h33M645.8 797.5h33M672.7 770.6h33M672.7 780.0h33M699.7 759.7h33M699.7 769.1h33M726.7 757.0h33M726.7 766.4h33M753.6 760.8h33M753.6 770.2h33M780.6 770.1h33M780.6 779.5h33M807.6 781.2h33M807.6 790.5h33M834.5 795.9h33M834.5 805.3h33M861.5 806.9h33M861.5 816.3h33M888.5 808.8h33M888.5 818.2h33M915.4 818.0h33M915.4 827.4h33M942.4 813.7h33M942.4 823.0h33M969.4 811.1h33M969.4 820.5h33M996.3 799.4h33M996.3 808.7h33M1023.3 777.5h33M1023.3 786.9h33M1050.3 750.3h33M1050.3 759.7h33M1077.2 722.9h33M1077.2 732.2h33M1104.2 694.1h33M1104.2 703.5h33M1131.2 670.3h33M1131.2 679.7h33M1158.1 657.3h33M1158.1 666.7h33M1185.1 669.2h33M1185.1 678.6h33M1212.1 707.0h33M1212.1 716.4h33M1239.0 773.2h33M1239.0 782.6h33M1266.0 826.6h33M1266.0 836.0h33M1293.0 851.0h33M1293.0 860.4h33M1319.9 822.4h33M1319.9 831.8h33M1346.9 775.7h33M1346.9 785.1h33M1373.9 705.4h33M1373.9 714.7h33M1400.8 635.2h33M1400.8 644.6h33M1427.8 543.9h33M1427.8 553.3h33M1454.8 444.1h33M1454.8 453.4h33M1481.7 346.2h33M1481.7 355.5h33M1508.7 189.2h33M1508.7 198.6h33M1535.7 50.1h33M1535.7 59.4h33M1562.6 -99.3h33M1562.6 -89.9h33M1589.6 -248.2h33M1589.6 -238.8h33M1616.6 -399.0h33M1616.6 -389.7h33M1643.5 -562.0h33M1643.5 -552.6h33M1670.5 -725.1h33M1670.5 -715.7h33M1697.5 -897.0h33M1697.5 -887.6h33M1724.4 -1068.9h33M1724.4 -1059.5h33M1751.4 -1247.4h33M1751.4 -1238.1h33M1778.4 -1425.8h33M1778.4 -1416.4h33M1805.3 -1586.3h33M1805.3 -1576.9h33M1832.3 -1746.9h33M1832.3 -1737.5h33M1859.3 -1918.5h33M1859.3 -1909.1h33M1886.3 -2091.1h33M1886.3 -2081.7h33M1913.2 -2263.7h33M1913.2 -2254.3h33M1940.2 -2436.3h33M1940.2 -2426.9h33M1967.2 -2608.9h33M1967.2 -2599.5h33M1994.1 -2778.8h33M1994.1 -2769.5h33M2021.1 -2944.1h33M2021.1 -2934.7h33M2048.1 -3092.0h33M2048.1 -3082.7h33M2075.0 -3244.2h33M2075.0 -3234.9h33M2102.0 -3399.9h33M2102.0 -3390.5h33M2129.0 -3555.7h33M2129.0 -3546.3h33M2155.9 -3711.6h33M2155.9 -3702.3h33M2182.9 -3867.6h33M2182.9 -3858.2h33M2209.9 -4023.5h33M2209.9 -4014.2h33M-1619.5 1210.2h33M-1603.0 1193.7v33M-1592.5 1204.9h33M-1576.0 1188.4v33M-1565.6 1199.7h33M-1549.1 1183.2v33M-1538.6 1194.5h33M-1522.1 1178.0v33M-1511.6 1190.5h33M-1495.1 1174.0v33M-1484.7 1186.6h33M-1468.2 1170.1v33M-1457.7 1182.6h33M-1441.2 1166.1v33M-1430.7 1178.7h33M-1414.2 1162.2v33M-1403.8 1174.7h33M-1387.3 1158.2v33M-1376.8 1171.9h33M-1360.3 1155.4v33M-1349.8 1169.4h33M-1333.3 1152.9v33M-1322.9 1166.9h33M-1306.4 1150.4v33M-1295.9 1164.4h33M-1279.4 1147.9v33M-1268.9 1161.9h33M-1252.4 1145.4v33M-1242.0 1163.1h33M-1225.5 1146.6v33M-1215.0 1165.3h33M-1198.5 1148.8v33M-1188.0 1167.6h33M-1171.5 1151.1v33M-1161.1 1169.8h33M-1144.6 1153.3v33M-1134.1 1172.1h33M-1117.6 1155.6v33M-1107.1 1174.6h33M-1090.6 1158.1v33M-1080.1 1178.2h33M-1063.6 1161.7v33M-1053.2 1181.7h33M-1036.7 1165.2v33M-1026.2 1185.2h33M-1009.7 1168.7v33M-999.2 1188.7h33M-982.7 1172.2v33M-972.3 1190.8h33M-955.8 1174.3v33M-945.3 1191.6h33M-928.8 1175.1v33M-918.3 1192.3h33M-901.8 1175.8v33M-891.4 1193.0h33M-874.9 1176.5v33M-864.4 1193.7h33M-847.9 1177.2v33M-837.4 1194.4h33M-820.9 1177.9v33M-810.5 1194.2h33M-794.0 1177.7v33M-783.5 1193.6h33M-767.0 1177.1v33M-756.5 1193.0h33M-740.0 1176.5v33M-729.6 1192.5h33M-713.1 1176.0v33M-702.6 1191.9h33M-686.1 1175.4v33M-675.6 1191.3h33M-659.1 1174.8v33M-648.7 1190.7h33M-632.2 1174.2v33M-621.7 1190.1h33M-605.2 1173.6v33M-594.7 1189.5h33M-578.2 1173.0v33M-567.8 1188.9h33M-551.3 1172.4v33M-540.8 1187.2h33M-524.3 1170.7v33M-513.8 1179.7h33M-497.3 1163.2v33M-486.9 1172.2h33M-470.4 1155.7v33M-459.9 1163.5h33M-443.4 1147.0v33M-432.9 1153.6h33M-416.4 1137.1v33M-406.0 1143.7h33M-389.5 1127.2v33M-379.0 1133.9h33M-362.5 1117.4v33M-352.0 1124.0h33M-335.5 1107.5v33M-325.1 1114.1h33M-308.6 1097.6v33M-298.1 1104.2h33M-281.6 1087.7v33M-271.1 1094.3h33M-254.6 1077.8v33M-244.2 1084.5h33M-227.7 1068.0v33M-217.2 1074.6h33M-200.7 1058.1v33M-190.2 1064.7h33M-173.7 1048.2v33M-163.3 1051.9h33M-146.8 1035.4v33M-136.3 1039.1h33M-119.8 1022.6v33M-109.3 1026.2h33M-92.8 1009.7v33M-82.4 1013.4h33M-65.9 996.9v33M-55.4 1000.6h33M-38.9 984.1v33M-28.4 990.5h33M-11.9 974.0v33M-1.5 981.6h33M15.0 965.1v33M25.5 972.7h33M42.0 956.2v33M52.5 963.8h33M69.0 947.3v33M79.4 955.0h33M95.9 938.5v33M106.4 946.5h33M122.9 930.0v33M133.4 938.6h33M149.9 922.1v33M160.3 930.7h33M176.8 914.2v33M187.3 922.8h33M203.8 906.3v33M214.3 914.9h33M230.8 898.4v33M241.2 907.3h33M257.7 890.8v33M268.2 901.4h33M284.7 884.9v33M295.2 895.5h33M311.7 879.0v33M322.1 889.5h33M338.6 873.0v33M349.1 883.6h33M365.6 867.1v33M376.1 877.7h33M392.6 861.2v33M403.1 873.3h33M419.6 856.8v33M430.0 869.2h33M446.5 852.7v33M457.0 865.0h33M473.5 848.5v33M484.0 864.0h33M500.5 847.5v33M510.9 867.5h33M527.4 851.0v33M537.9 858.2h33M554.4 841.7v33M564.9 848.4h33M581.4 831.9v33M591.8 834.4h33M608.3 817.9v33M618.8 814.8h33M635.3 798.3v33M645.8 792.8h33M662.3 776.3v33M672.7 775.3h33M689.2 758.8v33M699.7 764.4h33M716.2 747.9v33M726.7 761.7h33M743.2 745.2v33M753.6 765.5h33M770.1 749.0v33M780.6 774.8h33M797.1 758.3v33M807.6 785.8h33M824.1 769.3v33M834.5 800.6h33M851.0 784.1v33M861.5 811.6h33M878.0 795.1v33M888.5 813.5h33M905.0 797.0v33M915.4 822.7h33M931.9 806.2v33M942.4 818.4h33M958.9 801.9v33M969.4 815.8h33M985.9 799.3v33M996.3 804.0h33M1012.8 787.5v33M1023.3 782.2h33M1039.8 765.7v33M1050.3 755.0h33M1066.8 738.5v33M1077.2 727.6h33M1093.7 711.1v33M1104.2 698.8h33M1120.7 682.3v33M1131.2 675.0h33M1147.7 658.5v33M1158.1 662.0h33M1174.6 645.5v33M1185.1 673.9h33M1201.6 657.4v33M1212.1 711.7h33M1228.6 695.2v33M1239.0 777.9h33M1255.5 761.4v33M1266.0 831.3h33M1282.5 814.8v33M1293.0 855.7h33M1309.5 839.2v33M1319.9 827.1h33M1336.4 810.6v33M1346.9 780.4h33M1363.4 763.9v33M1373.9 710.0h33M1390.4 693.5v33M1400.8 639.9h33M1417.3 623.4v33M1427.8 548.6h33M1444.3 532.1v33M1454.8 448.8h33M1471.3 432.3v33M1481.7 350.9h33M1498.2 334.4v33M1508.7 193.9h33M1525.2 177.4v33M1535.7 54.7h33M1552.2 38.2v33M1562.6 -94.6h33M1579.1 -111.1v33M1589.6 -243.5h33M1606.1 -260.0v33M1616.6 -394.4h33M1633.1 -410.9v33M1643.5 -557.3h33M1660.0 -573.8v33M1670.5 -720.4h33M1687.0 -736.9v33M1697.5 -892.3h33M1714.0 -908.8v33M1724.4 -1064.2h33M1740.9 -1080.7v33M1751.4 -1242.8h33M1767.9 -1259.3v33M1778.4 -1421.1h33M1794.9 -1437.6v33M1805.3 -1581.6h33M1821.8 -1598.1v33M1832.3 -1742.2h33M1848.8 -1758.7v33M1859.3 -1913.8h33M1875.8 -1930.3v33M1886.3 -2086.4h33M1902.8 -2102.9v33M1913.2 -2259.0h33M1929.7 -2275.5v33M1940.2 -2431.6h33M1956.7 -2448.1v33M1967.2 -2604.2h33M1983.7 -2620.7v33M1994.1 -2774.1h33M2010.6 -2790.6v33M2021.1 -2939.4h33M2037.6 -2955.9v33M2048.1 -3087.3h33M2064.6 -3103.8v33M2075.0 -3239.6h33M2091.5 -3256.1v33M2102.0 -3395.2h33M2118.5 -3411.7v33M2129.0 -3551.0h33M2145.5 -3567.5v33M2155.9 -3706.9h33M2172.4 -3723.4v33M2182.9 -3862.9h33M2199.4 -3879.4v33M2209.9 -4018.8h33M2226.4 -4035.3v33" stroke="#1f77b4" stroke-width="6" fill="none"/>
<path d="M1312.7 666.5H1324.8M1332.2 648.3H1344.3M1358.2 629.3H1370.3M1369.6 609.5H1381.6M1381.3 589.7H1393.4M1392.3 569.2H1404.4M1406.9 547.0H1418.9M-2287.2 1217.6H-2223.2M-1864.4 1215.5H-1800.4M-1411.4 1189.4H-1336.8M-1006.3 1175.9H-931.7M-720.3 1155.1H-649.3M-546.2 1137.4H-489.4M457.5 862.5H489.5M526.8 845.3H558.8M617.4 829.5H649.4M713.3 813.6H745.3M826.3 796.0H858.3M929.3 777.9H961.3M1030.2 758.9H1062.2M1114.8 742.3H1146.8M1193.7 723.4H1225.7M1226.0 704.3H1258.0M1274.3 686.9H1306.3M1302.8 666.5H1334.7M-426.5 1127.0H-403.0M-361.7 1109.8H-338.2M-310.0 1092.6H-286.6M-260.7 1075.4H-237.3M-211.8 1058.2H-188.4M-164.7 1041.1H-141.2M-117.5 1023.9H-94.0M-67.7 1006.7H-44.2M-16.8 989.5H6.7M36.1 972.3H59.6M92.1 955.2H115.5M148.0 938.0H171.5M214.7 920.8H238.2M285.4 903.6H308.9M359.8 886.4H383.2M1413.4 528.3H1425.5M1420.4 508.3H1432.5M1427.5 488.2H1439.6M1434.7 467.8H1446.8M1441.9 447.1H1454.0M1448.7 426.2H1460.8M1455.1 405.1H1467.1M1461.5 383.7H1473.6M1467.7 362.0H1479.8M1472.8 340.1H1484.9M1477.9 317.9H1490.0M1483.2 295.4H1495.2M1492.5 272.7H1504.6M1502.0 249.7H1514.1M1511.6 226.4H1523.7M1520.6 202.9H1532.7M1522.4 184.7H1538.1M1527.2 160.6H1542.8M1532.1 136.3H1547.7M1537.0 111.7H1552.6M1541.8 86.7H1557.4M1546.3 61.5H1562.0M1550.9 36.0H1566.6M1555.6 10.1H1571.2M1560.3 -16.0H1576.0M1565.1 -42.5H1580.7M1569.9 -69.2H1585.6M1574.8 -96.3H1590.5M1579.8 -123.8H1595.4M1584.8 -151.5H1600.4M1589.9 -179.6H1605.5M1595.1 -208.0H1610.7M1600.3 -236.8H1615.9M1605.6 -265.9H1621.2M1610.9 -295.4H1626.5M1616.3 -325.2H1631.9M1621.8 -355.3H1637.4M1627.1 -385.9H1642.7M1632.2 -416.8H1647.8M1637.3 -448.0H1653.0M1642.6 -479.7H1658.2M1647.9 -511.7H1663.5M1653.2 -544.1H1668.9M1658.7 -576.9H1674.3M1664.2 -610.1H1679.8M1669.7 -643.7H1685.4M1675.4 -677.7H1691.0M1681.0 -712.1H1696.7M1686.6 -746.9H1702.2M1692.1 -782.1H1707.7M1697.7 -817.8H1713.3M1703.3 -853.9H1719.0M1709.1 -890.4H1724.7M1714.9 -927.3H1730.5M1720.7 -964.7H1736.4M1726.7 -1002.6H1742.3M1732.7 -1040.9H1748.3M1738.7 -1079.6H1754.3M1744.6 -1118.9H1760.2M1750.6 -1158.6H1766.2M1756.6 -1198.7H1772.3M1762.8 -1239.4H1778.4M1769.0 -1280.5H1784.6M1775.3 -1322.2H1790.9M1781.6 -1364.3H1797.3M1788.1 -1406.9H1803.7M1795.1 -1450.1H1810.8M1802.5 -1493.7H1818.1M1809.9 -1537.9H1825.5M1817.4 -1582.7H1833.0M1825.0 -1627.9H1840.6M1832.7 -1673.7H1848.3M1840.5 -1720.1H1856.1M1848.2 -1767.0H1863.9M1855.6 -1814.5H1871.3M1863.2 -1862.5H1878.8M1870.7 -1911.1H1886.4M1878.4 -1960.3H1894.1M1886.2 -2010.1H1901.8M1894.1 -2060.5H1909.7M1902.1 -2111.5H1917.7M1910.1 -2163.1H1925.8M1918.3 -2215.3H1933.9M1926.5 -2268.2H1942.2M1934.9 -2321.7H1950.5M1943.3 -2375.8H1959.0M1951.9 -2430.6H1967.5M1960.6 -2486.0H1976.2M1969.3 -2542.1H1985.0M1978.2 -2598.9H1993.8M1987.2 -2656.3H2002.8M1996.4 -2714.5H2012.0M2005.9 -2773.3H2021.5M2015.5 -2832.9H2031.1M2025.2 -2893.1H2040.8M2035.6 -2954.1H2051.3M2046.9 -3015.8H2062.5M2058.3 -3078.3H2073.9M2069.8 -3141.5H2085.4M2081.0 -3205.5H2096.6M2092.2 -3270.2H2107.8M2103.6 -3335.7H2119.2M2115.0 -3402.0H2130.7M2126.7 -3469.1H2142.3M2138.4 -3537.0H2154.0M2150.3 -3605.7H2165.9M2162.3 -3675.2H2178.0M2174.5 -3745.6H2190.1M2186.8 -3816.8H2202.4M2199.3 -3888.9H2214.9M2211.9 -3961.8H2227.5M2224.6 -4035.6H2240.3M2237.6 -4110.3H2253.2M2250.6 -4185.9H2266.3" stroke="#ff7f0e" stroke-width="11" fill="none"/>
<path d="M1312.7 650.0v33M1324.8 650.0v33M1332.2 631.8v33M1344.3 631.8v33M1358.2 612.8v33M1370.3 612.8v33M1369.6 593.0v33M1381.6 593.0v33M1381.3 573.2v33M1393.4 573.2v33M1392.3 552.7v33M1404.4 552.7v33M1406.9 530.5v33M1418.9 530.5v33M-2287.2 1201.1v33M-2223.2 1201.1v33M-1864.4 1199.0v33M-1800.4 1199.0v33M-1411.4 1172.9v33M-1336.8 1172.9v33M-1006.3 1159.4v33M-931.7 1159.4v33M-720.3 1138.6v33M-649.3 1138.6v33M-546.2 1120.9v33M-489.4 1120.9v33M457.5 846.0v33M489.5 846.0v33M526.8 828.8v33M558.8 828.8v33M617.4 813.0v33M649.4 813.0v33M713.3 797.1v33M745.3 797.1v33M826.3 779.5v33M858.3 779.5v33M929.3 761.4v33M961.3 761.4v33M1030.2 742.4v33M1062.2 742.4v33M1114.8 725.8v33M1146.8 725.8v33M1193.7 706.9v33M1225.7 706.9v33M1226.0 687.8v33M1258.0 687.8v33M1274.3 670.4v33M1306.3 670.4v33M1302.8 650.0v33M1334.7 650.0v33M-426.5 1110.5v33M-403.0 1110.5v33M-361.7 1093.3v33M-338.2 1093.3v33M-310.0 1076.1v33M-286.6 1076.1v33M-260.7 1058.9v33M-237.3 1058.9v33M-211.8 1041.7v33M-188.4 1041.7v33M-164.7 1024.6v33M-141.2 1024.6v33M-117.5 1007.4v33M-94.0 1007.4v33M-67.7 990.2v33M-44.2 990.2v33M-16.8 973.0v33M6.7 973.0v33M36.1 955.8v33M59.6 955.8v33M92.1 938.7v33M115.5 938.7v33M148.0 921.5v33M171.5 921.5v33M214.7 904.3v33M238.2 904.3v33M285.4 887.1v33M308.9 887.1v33M359.8 869.9v33M383.2 869.9v33M1413.4 511.8v33M1425.5 511.8v33M1420.4 491.8v33M1432.5 491.8v33M1427.5 471.7v33M1439.6 471.7v33M1434.7 451.3v33M1446.8 451.3v33M1441.9 430.6v33M1454.0 430.6v33M1448.7 409.7v33M1460.8 409.7v33M1455.1 388.6v33M1467.1 388.6v33M1461.5 367.2v33M1473.6 367.2v33M1467.7 345.5v33M1479.8 345.5v33M1472.8 323.6v33M1484.9 323.6v33M1477.9 301.4v33M1490.0 301.4v33M1483.2 278.9v33M1495.2 278.9v33M1492.5 256.2v33M1504.6 256.2v33M1502.0 233.2v33M1514.1 233.2v33M1511.6 209.9v33M1523.7 209.9v33M1520.6 186.4v33M1532.7 186.4v33M1522.4 168.2v33M1538.1 168.2v33M1527.2 144.1v33M1542.8 144.1v33M1532.1 119.8v33M1547.7 119.8v33M1537.0 95.2v33M1552.6 95.2v33M1541.8 70.2v33M1557.4 70.2v33M1546.3 45.0v33M1562.0 45.0v33M1550.9 19.5v33M1566.6 19.5v33M1555.6 -6.4v33M1571.2 -6.4v33M1560.3 -32.5v33M1576.0 -32.5v33M1565.1 -59.0v33M1580.7 -59.0v33M1569.9 -85.7v33M1585.6 -85.7v33M1574.8 -112.8v33M1590.5 -112.8v33M1579.8 -140.3v33M1595.4 -140.3v33M1584.8 -168.0v33M1600.4 -168.0v33M1589.9 -196.1v33M1605.5 -196.1v33M1595.1 -224.5v33M1610.7 -224.5v33M1600.3 -253.3v33M1615.9 -253.3v33M1605.6 -282.4v33M1621.2 -282.4v33M1610.9 -311.9v33M1626.5 -311.9v33M1616.3 -341.7v33M1631.9 -341.7v33M1621.8 -371.8v33M1637.4 -371.8v33M1627.1 -402.4v33M1642.7 -402.4v33M1632.2 -433.3v33M1647.8 -433.3v33M1637.3 -464.5v33M1653.0 -464.5v33M1642.6 -496.2v33M1658.2 -496.2v33M1647.9 -528.2v33M1663.5 -528.2v33M1653.2 -560.6v33M1668.9 -560.6v33M1658.7 -593.4v33M1674.3 -593.4v33M1664.2 -626.6v33M1679.8 -626.6v33M1669.7 -660.2v33M1685.4 -660.2v33M1675.4 -694.2v33M1691.0 -694.2v33M1681.0 -728.6v33M1696.7 -728.6v33M1686.6 -763.4v33M1702.2 -763.4v33M1692.1 -798.6v33M1707.7 -798.6v33M1697.7 -834.3v33M1713.3 -834.3v33M1703.3 -870.4v33M1719.0 -870.4v33M1709.1 -906.9v33M1724.7 -906.9v33M1714.9 -943.8v33M1730.5 -943.8v33M1720.7 -981.2v33M1736.4 -981.2v33M1726.7 -1019.1v33M1742.3 -1019.1v33M1732.7 -1057.4v33M1748.3 -1057.4v33M1738.7 -1096.1v33M1754.3 -1096.1v33M1744.6 -1135.4v33M1760.2 -1135.4v33M1750.6 -1175.1v33M1766.2 -1175.1v33M1756.6 -1215.2v33M1772.3 -1215.2v33M1762.8 -1255.9v33M1778.4 -1255.9v33M1769.0 -1297.0v33M1784.6 -1297.0v33M1775.3 -1338.7v33M1790.9 -1338.7v33M1781.6 -1380.8v33M1797.3 -1380.8v33M1788.1 -1423.4v33M1803.7 -1423.4v33M1795.1 -1466.6v33M1810.8 -1466.6v33M1802.5 -1510.2v33M1818.1 -1510.2v33M1809.9 -1554.4v33M1825.5 -1554.4v33M1817.4 -1599.2v33M1833.0 -1599.2v33M1825.0 -1644.4v33M1840.6 -1644.4v33M1832.7 -1690.2v33M1848.3 -1690.2v33M1840.5 -1736.6v33M1856.1 -1736.6v33M1848.2 -1783.5v33M1863.9 -1783.5v33M1855.6 -1831.0v33M1871.3 -1831.0v33M1863.2 -1879.0v33M1878.8 -1879.0v33M1870.7 -1927.6v33M1886.4 -1927.6v33M1878.4 -1976.8v33M1894.1 -1976.8v33M1886.2 -2026.6v33M1901.8 -2026.6v33M1894.1 -2077.0v33M1909.7 -2077.0v33M1902.1 -2128.0v33M1917.7 -2128.0v33M1910.1 -2179.6v33M1925.8 -2179.6v33M1918.3 -2231.8v33M1933.9 -2231.8v33M1926.5 -2284.7v33M1942.2 -2284.7v33M1934.9 -2338.2v33M1950.5 -2338.2v33M1943.3 -2392.3v33M1959.0 -2392.3v33M1951.9 -2447.1v33M1967.5 -2447.1v33M1960.6 -2502.5v33M1976.2 -2502.5v33M1969.3 -2558.6v33M1985.0 -2558.6v33M1978.2 -2615.4v33M1993.8 -2615.4v33M1987.2 -2672.8v33M2002.8 -2672.8v33M1996.4 -2731.0v33M2012.0 -2731.0v33M2005.9 -2789.8v33M2021.5 -2789.8v33M2015.5 -2849.4v33M2031.1 -2849.4v33M2025.2 -2909.6v33M2040.8 -2909.6v33M2035.6 -2970.6v33M2051.3 -2970.6v33M2046.9 -3032.3v33M2062.5 -3032.3v33M2058.3 -3094.8v33M2073.9 -3094.8v33M2069.8 -3158.0v33M2085.4 -3158.0v33M2081.0 -3222.0v33M2096.6 -3222.0v33M2092.2 -3286.7v33M2107.8 -3286.7v33M2103.6 -3352.2v33M2119.2 -3352.2v33M2115.0 -3418.5v33M2130.7 -3418.5v33M2126.7 -3485.6v33M2142.3 -3485.6v33M2138.4 -3553.5v33M2154.0 -3553.5v33M2150.3 -3622.2v33M2165.9 -3622.2v33M2162.3 -3691.7v33M2178.0 -3691.7v33M2174.5 -3762.1v33M2190.1 -3762.1v33M2186.8 -3833.3v33M2202.4 -3833.3v33M2199.3 -3905.4v33M2214.9 -3905.4v33M2211.9 -3978.3v33M2227.5 -3978.3v33M2224.6 -4052.1v33M2240.3 -4052.1v33M2237.6 -4126.8v33M2253.2 -4126.8v33M2250.6 -4202.4v33M2266.3 -4202.4v33M1302.2 666.5h33M1318.7 650.0v33M1321.8 648.3h33M1338.3 631.8v33M1347.7 629.3h33M1364.2 612.8v33M1359.1 609.5h33M1375.6 593.0v33M1370.8 589.7h33M1387.3 573.2v33M1381.8 569.2h33M1398.3 552.7v33M1396.4 547.0h33M1412.9 530.5v33M-2271.7 1217.6h33M-2255.2 1201.1v33M-1848.9 1215.5h33M-1832.4 1199.0v33M-1390.6 1189.4h33M-1374.1 1172.9v33M-985.5 1175.9h33M-969.0 1159.4v33M-701.3 1155.1h33M-684.8 1138.6v33M-534.3 1137.4h33M-517.8 1120.9v33M457.0 862.5h33M473.5 846.0v33M526.3 845.3h33M542.8 828.8v33M616.9 829.5h33M633.4 813.0v33M712.8 813.6h33M729.3 797.1v33M825.8 796.0h33M842.3 779.5v33M928.8 777.9h33M945.3 761.4v33M1029.7 758.9h33M1046.2 742.4v33M1114.3 742.3h33M1130.8 725.8v33M1193.2 723.4h33M1209.7 706.9v33M1225.5 704.3h33M1242.0 687.8v33M1273.8 686.9h33M1290.3 670.4v33M1302.2 666.5h33M1318.7 650.0v33M-431.3 1127.0h33M-414.8 1110.5v33M-366.5 1109.8h33M-350.0 1093.3v33M-314.8 1092.6h33M-298.3 1076.1v33M-265.5 1075.4h33M-249.0 1058.9v33M-216.6 1058.2h33M-200.1 1041.7v33M-169.4 1041.1h33M-152.9 1024.6v33M-122.2 1023.9h33M-105.7 1007.4v33M-72.5 1006.7h33M-56.0 990.2v33M-21.5 989.5h33M-5.0 973.0v33M31.4 972.3h33M47.9 955.8v33M87.3 955.2h33M103.8 938.7v33M143.3 938.0h33M159.8 921.5v33M209.9 920.8h33M226.4 904.3v33M280.6 903.6h33M297.1 887.1v33M355.0 886.4h33M371.5 869.9v33M1403.0 528.3h33M1419.5 511.8v33M1410.0 508.3h33M1426.5 491.8v33M1417.1 488.2h33M1433.6 471.7v33M1424.2 467.8h33M1440.7 451.3v33M1431.5 447.1h33M1448.0 430.6v33M1438.2 426.2h33M1454.7 409.7v33M1444.6 405.1h33M1461.1 388.6v33M1451.0 383.7h33M1467.5 367.2v33M1457.2 362.0h33M1473.7 345.5v33M1462.3 340.1h33M1478.8 323.6v33M1467.5 317.9h33M1484.0 301.4v33M1472.7 295.4h33M1489.2 278.9v33M1482.0 272.7h33M1498.5 256.2v33M1491.5 249.7h33M1508.0 233.2v33M1501.2 226.4h33M1517.7 209.9v33M1510.1 202.9h33M1526.6 186.4v33M1513.7 184.7h33M1530.2 168.2v33M1518.5 160.6h33M1535.0 144.1v33M1523.4 136.3h33M1539.9 119.8v33M1528.3 111.7h33M1544.8 95.2v33M1533.1 86.7h33M1549.6 70.2v33M1537.7 61.5h33M1554.2 45.0v33M1542.3 36.0h33M1558.8 19.5v33M1546.9 10.1h33M1563.4 -6.4v33M1551.7 -16.0h33M1568.2 -32.5v33M1556.4 -42.5h33M1572.9 -59.0v33M1561.3 -69.2h33M1577.8 -85.7v33M1566.2 -96.3h33M1582.7 -112.8v33M1571.1 -123.8h33M1587.6 -140.3v33M1576.1 -151.5h33M1592.6 -168.0v33M1581.2 -179.6h33M1597.7 -196.1v33M1586.4 -208.0h33M1602.9 -224.5v33M1591.6 -236.8h33M1608.1 -253.3v33M1596.9 -265.9h33M1613.4 -282.4v33M1602.2 -295.4h33M1618.7 -311.9v33M1607.6 -325.2h33M1624.1 -341.7v33M1613.1 -355.3h33M1629.6 -371.8v33M1618.4 -385.9h33M1634.9 -402.4v33M1623.5 -416.8h33M1640.0 -433.3v33M1628.7 -448.0h33M1645.2 -464.5v33M1633.9 -479.7h33M1650.4 -496.2v33M1639.2 -511.7h33M1655.7 -528.2v33M1644.6 -544.1h33M1661.1 -560.6v33M1650.0 -576.9h33M1666.5 -593.4v33M1655.5 -610.1h33M1672.0 -626.6v33M1661.0 -643.7h33M1677.5 -660.2v33M1666.7 -677.7h33M1683.2 -694.2v33M1672.4 -712.1h33M1688.9 -728.6v33M1677.9 -746.9h33M1694.4 -763.4v33M1683.4 -782.1h33M1699.9 -798.6v33M1689.0 -817.8h33M1705.5 -834.3v33M1694.6 -853.9h33M1711.1 -870.4v33M1700.4 -890.4h33M1716.9 -906.9v33M1706.2 -927.3h33M1722.7 -943.8v33M1712.0 -964.7h33M1728.5 -981.2v33M1718.0 -1002.6h33M1734.5 -1019.1v33M1724.0 -1040.9h33M1740.5 -1057.4v33M1730.0 -1079.6h33M1746.5 -1096.1v33M1735.9 -1118.9h33M1752.4 -1135.4v33M1741.9 -1158.6h33M1758.4 -1175.1v33M1748.0 -1198.7h33M1764.5 -1215.2v33M1754.1 -1239.4h33M1770.6 -1255.9v33M1760.3 -1280.5h33M1776.8 -1297.0v33M1766.6 -1322.2h33M1783.1 -1338.7v33M1773.0 -1364.3h33M1789.5 -1380.8v33M1779.4 -1406.9h33M1795.9 -1423.4v33M1786.4 -1450.1h33M1802.9 -1466.6v33M1793.8 -1493.7h33M1810.3 -1510.2v33M1801.2 -1537.9h33M1817.7 -1554.4v33M1808.7 -1582.7h33M1825.2 -1599.2v33M1816.3 -1627.9h33M1832.8 -1644.4v33M1824.0 -1673.7h33M1840.5 -1690.2v33M1831.8 -1720.1h33M1848.3 -1736.6v33M1839.5 -1767.0h33M1856.0 -1783.5v33M1847.0 -1814.5h33M1863.5 -1831.0v33M1854.5 -1862.5h33M1871.0 -1879.0v33M1862.1 -1911.1h33M1878.6 -1927.6v33M1869.8 -1960.3h33M1886.3 -1976.8v33M1877.5 -2010.1h33M1894.0 -2026.6v33M1885.4 -2060.5h33M1901.9 -2077.0v33M1893.4 -2111.5h33M1909.9 -2128.0v33M1901.4 -2163.1h33M1917.9 -2179.6v33M1909.6 -2215.3h33M1926.1 -2231.8v33M1917.9 -2268.2h33M1934.4 -2284.7v33M1926.2 -2321.7h33M1942.7 -2338.2v33M1934.7 -2375.8h33M1951.2 -2392.3v33M1943.2 -2430.6h33M1959.7 -2447.1v33M1951.9 -2486.0h33M1968.4 -2502.5v33M1960.7 -2542.1h33M1977.2 -2558.6v33M1969.5 -2598.9h33M1986.0 -2615.4v33M1978.5 -2656.3h33M1995.0 -2672.8v33M1987.7 -2714.5h33M2004.2 -2731.0v33M1997.2 -2773.3h33M2013.7 -2789.8v33M2006.8 -2832.9h33M2023.3 -2849.4v33M2016.5 -2893.1h33M2033.0 -2909.6v33M2027.0 -2954.1h33M2043.5 -2970.6v33M2038.2 -3015.8h33M2054.7 -3032.3v33M2049.6 -3078.3h33M2066.1 -3094.8v33M2061.1 -3141.5h33M2077.6 -3158.0v33M2072.3 -3205.5h33M2088.8 -3222.0v33M2083.5 -3270.2h33M2100.0 -3286.7v33M2094.9 -3335.7h33M2111.4 -3352.2v33M2106.4 -3402.0h33M2122.9 -3418.5v33M2118.0 -3469.1h33M2134.5 -3485.6v33M2129.7 -3537.0h33M2146.2 -3553.5v33M2141.6 -3605.7h33M2158.1 -3622.2v33M2153.6 -3675.2h33M2170.1 -3691.7v33M2165.8 -3745.6h33M2182.3 -3762.1v33M2178.1 -3816.8h33M2194.6 -3833.3v33M2190.6 -3888.9h33M2207.1 -3905.4v33M2203.2 -3961.8h33M2219.7 -3978.3v33M2216.0 -4035.6h33M2232.5 -4052.1v33M2228.9 -4110.3h33M2245.4 -4126.8v33M2241.9 -4185.9h33M2258.4 -4202.4v33" stroke="#ff7f0e" stroke-width="6" fill="none"/>
<polyline points="-2589.2,1225.9 -2233.9,1217.6 -1878.6,1207.1 -1523.3,1194.6 -1203.5,1184.2 -990.4,1179.0 -528.5,1171.7 -457.4,1158.2 -315.3,1111.3 -173.2,1060.3 -23.9,990.6 121.7,948.9 271.0,903.1 416.6,874.0 482.0,864.9 509.0,862.5 537.4,855.2 562.3,844.3 583.6,830.2 606.7,820.9 622.7,804.2 645.8,798.5 672.5,796.9 963.8,794.8 985.1,792.0 1022.4,770.9 1042.0,755.3 1098.8,753.2 1207.2,749.4 1349.3,744.8 1363.5,726.1 1363.5,701.1 1377.7,682.4 1390.2,659.5 1395.8,632.4 1406.1,606.9 1418.2,580.9 1431.4,526.4 1444.5,472.1 1460.5,417.9 1476.1,363.8 1487.5,308.6 1492.8,281.5 1509.9,206.5 1532.3,94.1 1574.2,-138.1 1616.1,-369.2 1673.7,-717.0 1728.4,-1065.8 1781.7,-1418.8 1838.2,-1755.1 1984.9,-2694.2 2022.2,-2925.4 2063.8,-3153.4 2122.8,-3493.9 2129.9,-3537.6" fill="none" stroke="#000" stroke-width="11.5" stroke-dasharray="11.5 17"/>
</g>
<line x1="608.5" y1="884.0" x2="608.5" y2="903.0" class="tk"/>
<text x="608.0" y="977.8" font-size="80" text-anchor="middle" textLength="102" lengthAdjust="spacingAndGlyphs" class="tl">0.9</text>
<line x1="963.8" y1="884.0" x2="963.8" y2="903.0" class="tk"/>
<text x="963.3" y="977.8" font-size="80" text-anchor="middle" textLength="102" lengthAdjust="spacingAndGlyphs" class="tl">1.0</text>
<line x1="1319.1" y1="884.0" x2="1319.1" y2="903.0" class="tk"/>
<text x="1318.6" y="977.8" font-size="80" text-anchor="middle" textLength="102" lengthAdjust="spacingAndGlyphs" class="tl">1.1</text>
<line x1="446.7" y1="809.4" x2="465.7" y2="809.4" class="tk"/>
<text x="429.5" y="836.9" font-size="80" text-anchor="end" textLength="102" lengthAdjust="spacingAndGlyphs" class="tl">0.4</text>
<line x1="446.7" y1="601.2" x2="465.7" y2="601.2" class="tk"/>
<text x="429.5" y="628.7" font-size="80" text-anchor="end" textLength="102" lengthAdjust="spacingAndGlyphs" class="tl">0.6</text>
<line x1="446.7" y1="392.9" x2="465.7" y2="392.9" class="tk"/>
<text x="429.5" y="420.4" font-size="80" text-anchor="end" textLength="102" lengthAdjust="spacingAndGlyphs" class="tl">0.8</text>
<rect x="465.7" y="273.5" width="1031.8" height="610.5" fill="none" stroke="#000" stroke-width="4.8"/>
<rect x="569.1" y="73.6" width="708.9" height="383.4" rx="14" ry="14" fill="#fff" stroke="#c9c9c9" stroke-width="5.5"/>
<g stroke="#1f77b4"><line x1="680.5" y1="93.0" x2="680.5" y2="173.0" stroke-width="11"/><line x1="664.0" y1="93.0" x2="697.0" y2="93.0" stroke-width="6"/><line x1="664.0" y1="173.0" x2="697.0" y2="173.0" stroke-width="6"/><line x1="664.0" y1="133.0" x2="697.0" y2="133.0" stroke-width="6"/></g>
<g stroke="#ff7f0e"><line x1="640.3" y1="251.0" x2="720.3" y2="251.0" stroke-width="11"/><line x1="640.3" y1="234.5" x2="640.3" y2="267.5" stroke-width="6"/><line x1="720.3" y1="234.5" x2="720.3" y2="267.5" stroke-width="6"/><line x1="680.3" y1="234.5" x2="680.3" y2="267.5" stroke-width="6"/></g>
<line x1="600" y1="374.5" x2="753.5" y2="374.5" stroke="#000" stroke-width="11.5" stroke-dasharray="11.8 16.4"/>
<text x="823.5" y="160.9" font-size="80" textLength="328.5" lengthAdjust="spacingAndGlyphs" class="lab">Isometric</text>
<text x="823.5" y="278.9" font-size="80" textLength="417" lengthAdjust="spacingAndGlyphs" class="lab">Isotensional</text>
<text x="825" y="393.8" font-size="80" textLength="62" lengthAdjust="spacingAndGlyphs" class="lab">−</text>
<text x="893" y="387.8" font-size="80" font-style="italic" class="lab">x</text>
<text x="936" y="402.0" font-size="57" textLength="66" lengthAdjust="spacingAndGlyphs" class="lab">LF</text>
<text x="1010" y="389.8" font-size="86" class="lab">(</text>
<text x="1038" y="387.8" font-size="80" font-style="italic" class="dvf" textLength="32" lengthAdjust="spacingAndGlyphs">f</text>
<text x="1086" y="389.8" font-size="86" class="lab">)</text>
<path d="M1418.3 2751.3H1805.3V2603.7H1418.3Z" fill="#e6f4fd" stroke="#000" stroke-width="5.6" stroke-dasharray="20 8.3" stroke-dashoffset="7.3"/>
<g clip-path="url(#cmb)">
<path d="M438.6 2829.8V2832.0M450.1 2829.7V2832.0M461.5 2829.6V2831.9M472.9 2829.5V2831.8M484.4 2829.5V2831.7M495.8 2829.4V2831.6M507.3 2829.3V2831.6M518.7 2829.2V2831.5M530.1 2829.1V2831.4M541.6 2829.1V2831.3M553.0 2829.0V2831.3M564.4 2829.0V2831.3M575.9 2828.9V2831.2M587.3 2828.9V2831.2M598.8 2828.9V2831.1M610.2 2828.8V2831.1M621.6 2828.8V2831.0M633.1 2828.7V2831.0M644.5 2828.7V2831.0M655.9 2828.6V2830.9M667.4 2828.6V2830.9M678.8 2828.5V2830.8M690.3 2828.5V2830.7M701.7 2828.4V2830.7M713.1 2828.3V2830.6M724.6 2828.3V2830.5M736.0 2828.2V2830.5M747.4 2828.2V2830.4M758.9 2828.1V2830.4M770.3 2828.0V2830.3M781.8 2828.0V2830.2M793.2 2827.9V2830.2M804.6 2827.8V2830.1M816.1 2827.3V2829.6M827.5 2826.9V2829.1M838.9 2826.4V2828.7M850.4 2825.9V2828.2M861.8 2825.5V2827.7M873.3 2824.8V2827.1M884.7 2824.0V2826.3M896.1 2823.3V2825.6M907.6 2822.5V2824.8M919.0 2821.8V2824.1M930.4 2820.8V2823.1M941.9 2819.8V2822.0M953.3 2818.7V2821.0M964.8 2817.7V2819.9M976.2 2816.6V2818.9M987.6 2814.9V2817.2M999.1 2813.2V2815.5M1010.5 2811.4V2813.7M1021.9 2809.7V2811.9M1033.4 2807.9V2810.2M1044.8 2805.5V2807.8M1056.3 2803.0V2805.2M1067.7 2800.4V2802.7M1079.1 2797.9V2800.2M1090.6 2795.3V2797.5M1102.0 2791.7V2794.0M1113.4 2788.2V2790.5M1124.9 2784.7V2786.9M1136.3 2781.1V2783.4M1147.8 2777.8V2780.1M1159.2 2774.9V2777.2M1170.6 2772.0V2774.3M1182.1 2769.1V2771.4M1193.5 2766.2V2768.5M1204.9 2764.1V2766.4M1216.4 2762.7V2765.0M1227.8 2761.3V2763.5M1239.3 2759.8V2762.1M1250.7 2758.4V2760.7M1262.1 2757.4V2759.7M1273.6 2756.6V2758.9M1285.0 2755.8V2758.0M1296.4 2754.9V2757.2M1307.9 2754.1V2756.3M1319.3 2753.4V2755.7M1330.8 2752.8V2755.1M1342.2 2752.2V2754.4M1353.6 2751.5V2753.8M1365.1 2750.6V2752.9M1376.5 2748.6V2750.9M1387.9 2746.6V2748.9M1399.4 2744.5V2746.7M1410.8 2742.2V2744.5M1422.3 2740.0V2742.2M1433.7 2739.3V2741.6M1445.1 2739.3V2741.6M1456.6 2735.5V2737.8M1468.0 2735.2V2737.5M1479.4 2734.6V2736.8M1490.9 2734.0V2736.3M1502.3 2734.0V2736.3M1513.8 2734.0V2736.2M1525.2 2732.8V2735.1M1536.6 2732.2V2734.5M1548.1 2732.1V2734.4M1559.5 2729.8V2732.0M1570.9 2727.4V2729.7M1582.4 2727.0V2729.2M1593.8 2728.8V2731.0M1605.3 2731.0V2733.2M1616.7 2729.6V2731.8M1628.1 2727.6V2729.8M1639.6 2723.0V2725.3M1651.0 2719.3V2721.5M1662.4 2719.6V2721.9M1673.9 2725.4V2727.7M1685.3 2723.5V2725.8M1696.8 2719.8V2722.1M1708.2 2712.1V2714.4M1719.6 2702.4V2704.7M1731.1 2705.9V2708.1M1742.5 2707.7V2710.0M1753.9 2703.9V2706.2M1765.4 2689.2V2691.5M1776.8 2669.3V2671.6M1788.3 2643.8V2646.1M1799.7 2613.3V2615.6M1811.1 2568.6V2570.8M1822.6 2531.5V2533.7M1834.0 2491.7V2494.0M1845.4 2451.7V2454.0M1856.9 2409.9V2412.1M1868.3 2363.0V2365.3M1879.8 2318.8V2321.1M1891.2 2272.4V2274.7M1902.6 2225.6V2227.9M1914.1 2178.7V2181.0M1925.5 2130.8V2133.1M1936.9 2082.2V2084.4M1948.4 2036.5V2038.7M1959.8 1990.3V1992.6M1971.3 1944.9V1947.2M1982.7 1896.3V1898.6M1994.1 1850.2V1852.5M2005.6 1806.5V1808.7M2017.0 1761.5V1763.7M2028.4 1720.0V1722.2M2039.9 1674.1V1676.4M2051.3 1628.2V1630.5M2062.8 1582.3V1584.6M2074.2 1548.7V1551.0" stroke="#1f77b4" stroke-width="11" fill="none"/>
<path d="M422.1 2829.8h33M422.1 2832.0h33M433.6 2829.7h33M433.6 2832.0h33M445.0 2829.6h33M445.0 2831.9h33M456.4 2829.5h33M456.4 2831.8h33M467.9 2829.5h33M467.9 2831.7h33M479.3 2829.4h33M479.3 2831.6h33M490.8 2829.3h33M490.8 2831.6h33M502.2 2829.2h33M502.2 2831.5h33M513.6 2829.1h33M513.6 2831.4h33M525.1 2829.1h33M525.1 2831.3h33M536.5 2829.0h33M536.5 2831.3h33M547.9 2829.0h33M547.9 2831.3h33M559.4 2828.9h33M559.4 2831.2h33M570.8 2828.9h33M570.8 2831.2h33M582.3 2828.9h33M582.3 2831.1h33M593.7 2828.8h33M593.7 2831.1h33M605.1 2828.8h33M605.1 2831.0h33M616.6 2828.7h33M616.6 2831.0h33M628.0 2828.7h33M628.0 2831.0h33M639.4 2828.6h33M639.4 2830.9h33M650.9 2828.6h33M650.9 2830.9h33M662.3 2828.5h33M662.3 2830.8h33M673.8 2828.5h33M673.8 2830.7h33M685.2 2828.4h33M685.2 2830.7h33M696.6 2828.3h33M696.6 2830.6h33M708.1 2828.3h33M708.1 2830.5h33M719.5 2828.2h33M719.5 2830.5h33M730.9 2828.2h33M730.9 2830.4h33M742.4 2828.1h33M742.4 2830.4h33M753.8 2828.0h33M753.8 2830.3h33M765.3 2828.0h33M765.3 2830.2h33M776.7 2827.9h33M776.7 2830.2h33M788.1 2827.8h33M788.1 2830.1h33M799.6 2827.3h33M799.6 2829.6h33M811.0 2826.9h33M811.0 2829.1h33M822.4 2826.4h33M822.4 2828.7h33M833.9 2825.9h33M833.9 2828.2h33M845.3 2825.5h33M845.3 2827.7h33M856.8 2824.8h33M856.8 2827.1h33M868.2 2824.0h33M868.2 2826.3h33M879.6 2823.3h33M879.6 2825.6h33M891.1 2822.5h33M891.1 2824.8h33M902.5 2821.8h33M902.5 2824.1h33M913.9 2820.8h33M913.9 2823.1h33M925.4 2819.8h33M925.4 2822.0h33M936.8 2818.7h33M936.8 2821.0h33M948.3 2817.7h33M948.3 2819.9h33M959.7 2816.6h33M959.7 2818.9h33M971.1 2814.9h33M971.1 2817.2h33M982.6 2813.2h33M982.6 2815.5h33M994.0 2811.4h33M994.0 2813.7h33M1005.4 2809.7h33M1005.4 2811.9h33M1016.9 2807.9h33M1016.9 2810.2h33M1028.3 2805.5h33M1028.3 2807.8h33M1039.8 2803.0h33M1039.8 2805.2h33M1051.2 2800.4h33M1051.2 2802.7h33M1062.6 2797.9h33M1062.6 2800.2h33M1074.1 2795.3h33M1074.1 2797.5h33M1085.5 2791.7h33M1085.5 2794.0h33M1096.9 2788.2h33M1096.9 2790.5h33M1108.4 2784.7h33M1108.4 2786.9h33M1119.8 2781.1h33M1119.8 2783.4h33M1131.3 2777.8h33M1131.3 2780.1h33M1142.7 2774.9h33M1142.7 2777.2h33M1154.1 2772.0h33M1154.1 2774.3h33M1165.6 2769.1h33M1165.6 2771.4h33M1177.0 2766.2h33M1177.0 2768.5h33M1188.4 2764.1h33M1188.4 2766.4h33M1199.9 2762.7h33M1199.9 2765.0h33M1211.3 2761.3h33M1211.3 2763.5h33M1222.8 2759.8h33M1222.8 2762.1h33M1234.2 2758.4h33M1234.2 2760.7h33M1245.6 2757.4h33M1245.6 2759.7h33M1257.1 2756.6h33M1257.1 2758.9h33M1268.5 2755.8h33M1268.5 2758.0h33M1279.9 2754.9h33M1279.9 2757.2h33M1291.4 2754.1h33M1291.4 2756.3h33M1302.8 2753.4h33M1302.8 2755.7h33M1314.3 2752.8h33M1314.3 2755.1h33M1325.7 2752.2h33M1325.7 2754.4h33M1337.1 2751.5h33M1337.1 2753.8h33M1348.6 2750.6h33M1348.6 2752.9h33M1360.0 2748.6h33M1360.0 2750.9h33M1371.4 2746.6h33M1371.4 2748.9h33M1382.9 2744.5h33M1382.9 2746.7h33M1394.3 2742.2h33M1394.3 2744.5h33M1405.8 2740.0h33M1405.8 2742.2h33M1417.2 2739.3h33M1417.2 2741.6h33M1428.6 2739.3h33M1428.6 2741.6h33M1440.1 2735.5h33M1440.1 2737.8h33M1451.5 2735.2h33M1451.5 2737.5h33M1462.9 2734.6h33M1462.9 2736.8h33M1474.4 2734.0h33M1474.4 2736.3h33M1485.8 2734.0h33M1485.8 2736.3h33M1497.3 2734.0h33M1497.3 2736.2h33M1508.7 2732.8h33M1508.7 2735.1h33M1520.1 2732.2h33M1520.1 2734.5h33M1531.6 2732.1h33M1531.6 2734.4h33M1543.0 2729.8h33M1543.0 2732.0h33M1554.4 2727.4h33M1554.4 2729.7h33M1565.9 2727.0h33M1565.9 2729.2h33M1577.3 2728.8h33M1577.3 2731.0h33M1588.8 2731.0h33M1588.8 2733.2h33M1600.2 2729.6h33M1600.2 2731.8h33M1611.6 2727.6h33M1611.6 2729.8h33M1623.1 2723.0h33M1623.1 2725.3h33M1634.5 2719.3h33M1634.5 2721.5h33M1645.9 2719.6h33M1645.9 2721.9h33M1657.4 2725.4h33M1657.4 2727.7h33M1668.8 2723.5h33M1668.8 2725.8h33M1680.3 2719.8h33M1680.3 2722.1h33M1691.7 2712.1h33M1691.7 2714.4h33M1703.1 2702.4h33M1703.1 2704.7h33M1714.6 2705.9h33M1714.6 2708.1h33M1726.0 2707.7h33M1726.0 2710.0h33M1737.4 2703.9h33M1737.4 2706.2h33M1748.9 2689.2h33M1748.9 2691.5h33M1760.3 2669.3h33M1760.3 2671.6h33M1771.8 2643.8h33M1771.8 2646.1h33M1783.2 2613.3h33M1783.2 2615.6h33M1794.6 2568.6h33M1794.6 2570.8h33M1806.1 2531.5h33M1806.1 2533.7h33M1817.5 2491.7h33M1817.5 2494.0h33M1828.9 2451.7h33M1828.9 2454.0h33M1840.4 2409.9h33M1840.4 2412.1h33M1851.8 2363.0h33M1851.8 2365.3h33M1863.3 2318.8h33M1863.3 2321.1h33M1874.7 2272.4h33M1874.7 2274.7h33M1886.1 2225.6h33M1886.1 2227.9h33M1897.6 2178.7h33M1897.6 2181.0h33M1909.0 2130.8h33M1909.0 2133.1h33M1920.4 2082.2h33M1920.4 2084.4h33M1931.9 2036.5h33M1931.9 2038.7h33M1943.3 1990.3h33M1943.3 1992.6h33M1954.8 1944.9h33M1954.8 1947.2h33M1966.2 1896.3h33M1966.2 1898.6h33M1977.6 1850.2h33M1977.6 1852.5h33M1989.1 1806.5h33M1989.1 1808.7h33M2000.5 1761.5h33M2000.5 1763.7h33M2011.9 1720.0h33M2011.9 1722.2h33M2023.4 1674.1h33M2023.4 1676.4h33M2034.8 1628.2h33M2034.8 1630.5h33M2046.3 1582.3h33M2046.3 1584.6h33M2057.7 1548.7h33M2057.7 1551.0h33M422.1 2830.9h33M438.6 2814.4v33M433.6 2830.8h33M450.1 2814.3v33M445.0 2830.7h33M461.5 2814.2v33M456.4 2830.7h33M472.9 2814.2v33M467.9 2830.6h33M484.4 2814.1v33M479.3 2830.5h33M495.8 2814.0v33M490.8 2830.4h33M507.3 2813.9v33M502.2 2830.4h33M518.7 2813.9v33M513.6 2830.3h33M530.1 2813.8v33M525.1 2830.2h33M541.6 2813.7v33M536.5 2830.2h33M553.0 2813.7v33M547.9 2830.1h33M564.4 2813.6v33M559.4 2830.1h33M575.9 2813.6v33M570.8 2830.0h33M587.3 2813.5v33M582.3 2830.0h33M598.8 2813.5v33M593.7 2829.9h33M610.2 2813.4v33M605.1 2829.9h33M621.6 2813.4v33M616.6 2829.9h33M633.1 2813.4v33M628.0 2829.8h33M644.5 2813.3v33M639.4 2829.8h33M655.9 2813.3v33M650.9 2829.7h33M667.4 2813.2v33M662.3 2829.7h33M678.8 2813.2v33M673.8 2829.6h33M690.3 2813.1v33M685.2 2829.5h33M701.7 2813.0v33M696.6 2829.5h33M713.1 2813.0v33M708.1 2829.4h33M724.6 2812.9v33M719.5 2829.4h33M736.0 2812.9v33M730.9 2829.3h33M747.4 2812.8v33M742.4 2829.2h33M758.9 2812.7v33M753.8 2829.2h33M770.3 2812.7v33M765.3 2829.1h33M781.8 2812.6v33M776.7 2829.0h33M793.2 2812.5v33M788.1 2829.0h33M804.6 2812.5v33M799.6 2828.5h33M816.1 2812.0v33M811.0 2828.0h33M827.5 2811.5v33M822.4 2827.5h33M838.9 2811.0v33M833.9 2827.1h33M850.4 2810.6v33M845.3 2826.6h33M861.8 2810.1v33M856.8 2825.9h33M873.3 2809.4v33M868.2 2825.2h33M884.7 2808.7v33M879.6 2824.4h33M896.1 2807.9v33M891.1 2823.7h33M907.6 2807.2v33M902.5 2822.9h33M919.0 2806.4v33M913.9 2822.0h33M930.4 2805.5v33M925.4 2820.9h33M941.9 2804.4v33M936.8 2819.9h33M953.3 2803.4v33M948.3 2818.8h33M964.8 2802.3v33M959.7 2817.7h33M976.2 2801.2v33M971.1 2816.1h33M987.6 2799.6v33M982.6 2814.3h33M999.1 2797.8v33M994.0 2812.6h33M1010.5 2796.1v33M1005.4 2810.8h33M1021.9 2794.3v33M1016.9 2809.1h33M1033.4 2792.6v33M1028.3 2806.6h33M1044.8 2790.1v33M1039.8 2804.1h33M1056.3 2787.6v33M1051.2 2801.6h33M1067.7 2785.1v33M1062.6 2799.0h33M1079.1 2782.5v33M1074.1 2796.4h33M1090.6 2779.9v33M1085.5 2792.9h33M1102.0 2776.4v33M1096.9 2789.3h33M1113.4 2772.8v33M1108.4 2785.8h33M1124.9 2769.3v33M1119.8 2782.3h33M1136.3 2765.8v33M1131.3 2778.9h33M1147.8 2762.4v33M1142.7 2776.0h33M1159.2 2759.5v33M1154.1 2773.2h33M1170.6 2756.7v33M1165.6 2770.3h33M1182.1 2753.8v33M1177.0 2767.4h33M1193.5 2750.9v33M1188.4 2765.3h33M1204.9 2748.8v33M1199.9 2763.8h33M1216.4 2747.3v33M1211.3 2762.4h33M1227.8 2745.9v33M1222.8 2761.0h33M1239.3 2744.5v33M1234.2 2759.6h33M1250.7 2743.1v33M1245.6 2758.6h33M1262.1 2742.1v33M1257.1 2757.7h33M1273.6 2741.2v33M1268.5 2756.9h33M1285.0 2740.4v33M1279.9 2756.0h33M1296.4 2739.5v33M1291.4 2755.2h33M1307.9 2738.7v33M1302.8 2754.6h33M1319.3 2738.1v33M1314.3 2753.9h33M1330.8 2737.4v33M1325.7 2753.3h33M1342.2 2736.8v33M1337.1 2752.7h33M1353.6 2736.2v33M1348.6 2751.8h33M1365.1 2735.3v33M1360.0 2749.8h33M1376.5 2733.3v33M1371.4 2747.8h33M1387.9 2731.3v33M1382.9 2745.6h33M1399.4 2729.1v33M1394.3 2743.3h33M1410.8 2726.8v33M1405.8 2741.1h33M1422.3 2724.6v33M1417.2 2740.5h33M1433.7 2724.0v33M1428.6 2740.4h33M1445.1 2723.9v33M1440.1 2736.7h33M1456.6 2720.2v33M1451.5 2736.3h33M1468.0 2719.8v33M1462.9 2735.7h33M1479.4 2719.2v33M1474.4 2735.1h33M1490.9 2718.6v33M1485.8 2735.1h33M1502.3 2718.6v33M1497.3 2735.1h33M1513.8 2718.6v33M1508.7 2733.9h33M1525.2 2717.4v33M1520.1 2733.4h33M1536.6 2716.9v33M1531.6 2733.3h33M1548.1 2716.8v33M1543.0 2730.9h33M1559.5 2714.4v33M1554.4 2728.6h33M1570.9 2712.1v33M1565.9 2728.1h33M1582.4 2711.6v33M1577.3 2729.9h33M1593.8 2713.4v33M1588.8 2732.1h33M1605.3 2715.6v33M1600.2 2730.7h33M1616.7 2714.2v33M1611.6 2728.7h33M1628.1 2712.2v33M1623.1 2724.2h33M1639.6 2707.7v33M1634.5 2720.4h33M1651.0 2703.9v33M1645.9 2720.7h33M1662.4 2704.2v33M1657.4 2726.6h33M1673.9 2710.1v33M1668.8 2724.7h33M1685.3 2708.2v33M1680.3 2720.9h33M1696.8 2704.4v33M1691.7 2713.2h33M1708.2 2696.7v33M1703.1 2703.5h33M1719.6 2687.0v33M1714.6 2707.0h33M1731.1 2690.5v33M1726.0 2708.9h33M1742.5 2692.4v33M1737.4 2705.0h33M1753.9 2688.5v33M1748.9 2690.3h33M1765.4 2673.8v33M1760.3 2670.4h33M1776.8 2653.9v33M1771.8 2645.0h33M1788.3 2628.5v33M1783.2 2614.4h33M1799.7 2597.9v33M1794.6 2569.7h33M1811.1 2553.2v33M1806.1 2532.6h33M1822.6 2516.1v33M1817.5 2492.9h33M1834.0 2476.4v33M1828.9 2452.8h33M1845.4 2436.3v33M1840.4 2411.0h33M1856.9 2394.5v33M1851.8 2364.2h33M1868.3 2347.7v33M1863.3 2320.0h33M1879.8 2303.5v33M1874.7 2273.5h33M1891.2 2257.0v33M1886.1 2226.8h33M1902.6 2210.3v33M1897.6 2179.9h33M1914.1 2163.4v33M1909.0 2132.0h33M1925.5 2115.5v33M1920.4 2083.3h33M1936.9 2066.8v33M1931.9 2037.6h33M1948.4 2021.1v33M1943.3 1991.5h33M1959.8 1975.0v33M1954.8 1946.1h33M1971.3 1929.6v33M1966.2 1897.5h33M1982.7 1881.0v33M1977.6 1851.3h33M1994.1 1834.8v33M1989.1 1807.6h33M2005.6 1791.1v33M2000.5 1762.6h33M2017.0 1746.1v33M2011.9 1721.1h33M2028.4 1704.6v33M2023.4 1675.2h33M2039.9 1658.7v33M2034.8 1629.3h33M2051.3 1612.8v33M2046.3 1583.4h33M2062.8 1566.9v33M2057.7 1549.8h33M2074.2 1533.3v33" stroke="#1f77b4" stroke-width="6" fill="none"/>
<path d="M458.7 2831.0H482.7M682.9 2830.2H701.6M849.7 2826.9H865.7M1426.1 2742.3H1438.1M1468.6 2738.1H1480.6M1519.4 2734.0H1531.4M1576.1 2729.8H1588.2M1620.8 2725.6H1632.9M1652.3 2720.8H1664.4M1682.5 2717.0H1694.5M1694.1 2712.5H1706.1M1706.3 2707.9H1718.3M1717.2 2703.3H1729.2M1724.4 2698.7H1736.4M918.3 2822.7H927.4M960.2 2818.5H969.2M993.1 2814.4H1002.2M1018.8 2810.2H1027.8M1041.1 2806.1H1050.2M1060.7 2801.9H1069.8M1080.3 2797.7H1089.3M1094.9 2793.6H1104.0M1107.9 2789.4H1117.0M1121.0 2785.3H1130.1M1134.1 2781.1H1143.1M1148.4 2777.0H1157.5M1163.7 2772.8H1172.8M1179.0 2768.7H1188.1M1194.3 2764.5H1203.4M1231.8 2760.3H1240.9M1281.7 2756.2H1290.8M1357.2 2752.0H1366.3M1382.5 2747.9H1391.6M1734.6 2694.3H1739.1M1740.9 2689.8H1745.5M1745.6 2685.3H1750.1M1750.4 2680.7H1754.9M1754.2 2676.0H1758.7M1757.8 2671.3H1762.3M1761.5 2666.6H1766.0M1765.3 2661.8H1769.8M1769.0 2656.9H1773.6M1772.8 2652.0H1777.3M1775.7 2647.0H1780.2M1778.5 2642.0H1783.0M1780.9 2636.9H1785.5M1783.2 2631.7H1787.8M1785.3 2626.5H1789.8M1787.3 2621.2H1791.8M1789.3 2615.9H1793.9M1792.0 2610.5H1796.5M1794.5 2605.0H1799.0M1796.5 2599.5H1801.0M1798.6 2593.8H1803.1M1800.6 2588.2H1805.2M1802.5 2582.4H1807.1M1801.6 2582.2H1808.2M1803.3 2576.4H1810.0M1805.2 2570.5H1811.8M1807.0 2564.5H1813.7M1808.8 2558.5H1815.5M1810.7 2552.4H1817.4M1812.6 2546.2H1819.3M1814.6 2540.0H1821.2M1816.5 2533.7H1823.2M1818.4 2527.3H1825.1M1820.3 2520.8H1826.9M1822.1 2514.2H1828.8M1824.0 2507.6H1830.7M1826.0 2500.9H1832.6M1827.9 2494.1H1834.6M1829.9 2487.2H1836.6M1831.9 2480.3H1838.6M1833.9 2473.2H1840.6M1835.9 2466.1H1842.6M1838.0 2458.9H1844.7M1840.1 2451.6H1846.7M1842.2 2444.2H1848.8M1844.3 2436.7H1851.0M1846.4 2429.2H1853.1M1848.6 2421.5H1855.3M1850.5 2413.8H1857.1M1852.4 2405.9H1859.0M1854.3 2398.0H1861.0M1856.2 2390.0H1862.9M1858.2 2381.9H1864.9M1860.2 2373.6H1866.9M1862.3 2365.3H1869.0M1864.5 2356.9H1871.1M1866.7 2348.4H1873.3M1868.9 2339.8H1875.6M1871.2 2331.0H1877.8M1873.4 2322.2H1880.1M1875.7 2313.3H1882.4M1878.0 2304.2H1884.6M1880.2 2295.1H1886.9M1882.5 2285.8H1889.1M1884.8 2276.4H1891.4M1887.1 2267.0H1893.7M1889.4 2257.4H1896.1M1891.8 2247.6H1898.5M1894.2 2237.8H1900.9M1896.6 2227.9H1903.3M1899.1 2217.8H1905.8M1901.6 2207.6H1908.3M1904.1 2197.3H1910.8M1906.6 2186.9H1913.3M1909.2 2176.3H1915.9M1911.8 2165.6H1918.5M1914.4 2154.8H1921.1M1917.0 2143.8H1923.7M1919.6 2132.8H1926.3M1922.2 2121.6H1928.8M1924.8 2110.2H1931.5M1927.4 2098.7H1934.1M1930.3 2087.1H1936.9M1933.2 2075.4H1939.9M1936.2 2063.5H1942.9M1939.2 2051.4H1945.9M1942.2 2039.2H1948.9M1945.3 2026.9H1952.0M1948.4 2014.4H1955.1M1951.5 2001.8H1958.2M1954.7 1989.0H1961.4M1957.9 1976.1H1964.6M1961.2 1963.0H1967.9M1964.6 1949.7H1971.3M1968.0 1936.3H1974.7M1971.2 1922.8H1977.9M1974.3 1909.0H1981.0M1977.5 1895.1H1984.2M1980.7 1881.1H1987.4M1984.3 1866.8H1990.9M1988.1 1852.4H1994.8M1992.0 1837.9H1998.7M1995.9 1823.1H2002.6M1999.7 1808.2H2006.4M2003.5 1793.1H2010.1M2007.3 1777.8H2014.0M2011.4 1762.3H2018.0M2016.0 1746.7H2022.7M2020.3 1730.8H2027.0M2024.3 1714.8H2031.0M2028.3 1698.6H2035.0M2032.4 1682.2H2039.1M2036.6 1665.5H2043.2M2040.7 1648.7H2047.4M2045.0 1631.7H2051.7M2049.3 1614.5H2056.0M2053.6 1597.1H2060.3M2058.0 1579.4H2064.7M2062.5 1561.6H2069.1M2065.4 1543.5H2072.1M2065.4 1525.2H2072.1" stroke="#ff7f0e" stroke-width="11" fill="none"/>
<path d="M458.7 2814.5v33M482.7 2814.5v33M682.9 2813.7v33M701.6 2813.7v33M849.7 2810.4v33M865.7 2810.4v33M1426.1 2725.8v33M1438.1 2725.8v33M1468.6 2721.6v33M1480.6 2721.6v33M1519.4 2717.5v33M1531.4 2717.5v33M1576.1 2713.3v33M1588.2 2713.3v33M1620.8 2709.1v33M1632.9 2709.1v33M1652.3 2704.3v33M1664.4 2704.3v33M1682.5 2700.5v33M1694.5 2700.5v33M1694.1 2696.0v33M1706.1 2696.0v33M1706.3 2691.4v33M1718.3 2691.4v33M1717.2 2686.8v33M1729.2 2686.8v33M1724.4 2682.2v33M1736.4 2682.2v33M918.3 2806.2v33M927.4 2806.2v33M960.2 2802.0v33M969.2 2802.0v33M993.1 2797.9v33M1002.2 2797.9v33M1018.8 2793.7v33M1027.8 2793.7v33M1041.1 2789.6v33M1050.2 2789.6v33M1060.7 2785.4v33M1069.8 2785.4v33M1080.3 2781.2v33M1089.3 2781.2v33M1094.9 2777.1v33M1104.0 2777.1v33M1107.9 2772.9v33M1117.0 2772.9v33M1121.0 2768.8v33M1130.1 2768.8v33M1134.1 2764.6v33M1143.1 2764.6v33M1148.4 2760.5v33M1157.5 2760.5v33M1163.7 2756.3v33M1172.8 2756.3v33M1179.0 2752.2v33M1188.1 2752.2v33M1194.3 2748.0v33M1203.4 2748.0v33M1231.8 2743.8v33M1240.9 2743.8v33M1281.7 2739.7v33M1290.8 2739.7v33M1357.2 2735.5v33M1366.3 2735.5v33M1382.5 2731.4v33M1391.6 2731.4v33M1734.6 2677.8v33M1739.1 2677.8v33M1740.9 2673.3v33M1745.5 2673.3v33M1745.6 2668.8v33M1750.1 2668.8v33M1750.4 2664.2v33M1754.9 2664.2v33M1754.2 2659.5v33M1758.7 2659.5v33M1757.8 2654.8v33M1762.3 2654.8v33M1761.5 2650.1v33M1766.0 2650.1v33M1765.3 2645.3v33M1769.8 2645.3v33M1769.0 2640.4v33M1773.6 2640.4v33M1772.8 2635.5v33M1777.3 2635.5v33M1775.7 2630.5v33M1780.2 2630.5v33M1778.5 2625.5v33M1783.0 2625.5v33M1780.9 2620.4v33M1785.5 2620.4v33M1783.2 2615.2v33M1787.8 2615.2v33M1785.3 2610.0v33M1789.8 2610.0v33M1787.3 2604.7v33M1791.8 2604.7v33M1789.3 2599.4v33M1793.9 2599.4v33M1792.0 2594.0v33M1796.5 2594.0v33M1794.5 2588.5v33M1799.0 2588.5v33M1796.5 2583.0v33M1801.0 2583.0v33M1798.6 2577.3v33M1803.1 2577.3v33M1800.6 2571.7v33M1805.2 2571.7v33M1802.5 2565.9v33M1807.1 2565.9v33M1801.6 2565.7v33M1808.2 2565.7v33M1803.3 2559.9v33M1810.0 2559.9v33M1805.2 2554.0v33M1811.8 2554.0v33M1807.0 2548.0v33M1813.7 2548.0v33M1808.8 2542.0v33M1815.5 2542.0v33M1810.7 2535.9v33M1817.4 2535.9v33M1812.6 2529.7v33M1819.3 2529.7v33M1814.6 2523.5v33M1821.2 2523.5v33M1816.5 2517.2v33M1823.2 2517.2v33M1818.4 2510.8v33M1825.1 2510.8v33M1820.3 2504.3v33M1826.9 2504.3v33M1822.1 2497.7v33M1828.8 2497.7v33M1824.0 2491.1v33M1830.7 2491.1v33M1826.0 2484.4v33M1832.6 2484.4v33M1827.9 2477.6v33M1834.6 2477.6v33M1829.9 2470.7v33M1836.6 2470.7v33M1831.9 2463.8v33M1838.6 2463.8v33M1833.9 2456.7v33M1840.6 2456.7v33M1835.9 2449.6v33M1842.6 2449.6v33M1838.0 2442.4v33M1844.7 2442.4v33M1840.1 2435.1v33M1846.7 2435.1v33M1842.2 2427.7v33M1848.8 2427.7v33M1844.3 2420.2v33M1851.0 2420.2v33M1846.4 2412.7v33M1853.1 2412.7v33M1848.6 2405.0v33M1855.3 2405.0v33M1850.5 2397.3v33M1857.1 2397.3v33M1852.4 2389.4v33M1859.0 2389.4v33M1854.3 2381.5v33M1861.0 2381.5v33M1856.2 2373.5v33M1862.9 2373.5v33M1858.2 2365.4v33M1864.9 2365.4v33M1860.2 2357.1v33M1866.9 2357.1v33M1862.3 2348.8v33M1869.0 2348.8v33M1864.5 2340.4v33M1871.1 2340.4v33M1866.7 2331.9v33M1873.3 2331.9v33M1868.9 2323.3v33M1875.6 2323.3v33M1871.2 2314.5v33M1877.8 2314.5v33M1873.4 2305.7v33M1880.1 2305.7v33M1875.7 2296.8v33M1882.4 2296.8v33M1878.0 2287.7v33M1884.6 2287.7v33M1880.2 2278.6v33M1886.9 2278.6v33M1882.5 2269.3v33M1889.1 2269.3v33M1884.8 2259.9v33M1891.4 2259.9v33M1887.1 2250.5v33M1893.7 2250.5v33M1889.4 2240.9v33M1896.1 2240.9v33M1891.8 2231.1v33M1898.5 2231.1v33M1894.2 2221.3v33M1900.9 2221.3v33M1896.6 2211.4v33M1903.3 2211.4v33M1899.1 2201.3v33M1905.8 2201.3v33M1901.6 2191.1v33M1908.3 2191.1v33M1904.1 2180.8v33M1910.8 2180.8v33M1906.6 2170.4v33M1913.3 2170.4v33M1909.2 2159.8v33M1915.9 2159.8v33M1911.8 2149.1v33M1918.5 2149.1v33M1914.4 2138.3v33M1921.1 2138.3v33M1917.0 2127.3v33M1923.7 2127.3v33M1919.6 2116.3v33M1926.3 2116.3v33M1922.2 2105.1v33M1928.8 2105.1v33M1924.8 2093.7v33M1931.5 2093.7v33M1927.4 2082.2v33M1934.1 2082.2v33M1930.3 2070.6v33M1936.9 2070.6v33M1933.2 2058.9v33M1939.9 2058.9v33M1936.2 2047.0v33M1942.9 2047.0v33M1939.2 2034.9v33M1945.9 2034.9v33M1942.2 2022.7v33M1948.9 2022.7v33M1945.3 2010.4v33M1952.0 2010.4v33M1948.4 1997.9v33M1955.1 1997.9v33M1951.5 1985.3v33M1958.2 1985.3v33M1954.7 1972.5v33M1961.4 1972.5v33M1957.9 1959.6v33M1964.6 1959.6v33M1961.2 1946.5v33M1967.9 1946.5v33M1964.6 1933.2v33M1971.3 1933.2v33M1968.0 1919.8v33M1974.7 1919.8v33M1971.2 1906.3v33M1977.9 1906.3v33M1974.3 1892.5v33M1981.0 1892.5v33M1977.5 1878.6v33M1984.2 1878.6v33M1980.7 1864.6v33M1987.4 1864.6v33M1984.3 1850.3v33M1990.9 1850.3v33M1988.1 1835.9v33M1994.8 1835.9v33M1992.0 1821.4v33M1998.7 1821.4v33M1995.9 1806.6v33M2002.6 1806.6v33M1999.7 1791.7v33M2006.4 1791.7v33M2003.5 1776.6v33M2010.1 1776.6v33M2007.3 1761.3v33M2014.0 1761.3v33M2011.4 1745.8v33M2018.0 1745.8v33M2016.0 1730.2v33M2022.7 1730.2v33M2020.3 1714.3v33M2027.0 1714.3v33M2024.3 1698.3v33M2031.0 1698.3v33M2028.3 1682.1v33M2035.0 1682.1v33M2032.4 1665.7v33M2039.1 1665.7v33M2036.6 1649.0v33M2043.2 1649.0v33M2040.7 1632.2v33M2047.4 1632.2v33M2045.0 1615.2v33M2051.7 1615.2v33M2049.3 1598.0v33M2056.0 1598.0v33M2053.6 1580.6v33M2060.3 1580.6v33M2058.0 1562.9v33M2064.7 1562.9v33M2062.5 1545.1v33M2069.1 1545.1v33M2065.4 1527.0v33M2072.1 1527.0v33M2065.4 1508.7v33M2072.1 1508.7v33M454.2 2831.0h33M470.7 2814.5v33M675.7 2830.2h33M692.2 2813.7v33M841.2 2826.9h33M857.7 2810.4v33M1415.6 2742.3h33M1432.1 2725.8v33M1458.1 2738.1h33M1474.6 2721.6v33M1508.9 2734.0h33M1525.4 2717.5v33M1565.6 2729.8h33M1582.1 2713.3v33M1610.4 2725.6h33M1626.9 2709.1v33M1641.9 2720.8h33M1658.4 2704.3v33M1672.0 2717.0h33M1688.5 2700.5v33M1683.6 2712.5h33M1700.1 2696.0v33M1695.8 2707.9h33M1712.3 2691.4v33M1706.7 2703.3h33M1723.2 2686.8v33M1713.9 2698.7h33M1730.4 2682.2v33M906.4 2822.7h33M922.9 2806.2v33M948.2 2818.5h33M964.7 2802.0v33M981.1 2814.4h33M997.6 2797.9v33M1006.8 2810.2h33M1023.3 2793.7v33M1029.1 2806.1h33M1045.6 2789.6v33M1048.7 2801.9h33M1065.2 2785.4v33M1068.3 2797.7h33M1084.8 2781.2v33M1082.9 2793.6h33M1099.4 2777.1v33M1096.0 2789.4h33M1112.5 2772.9v33M1109.0 2785.3h33M1125.5 2768.8v33M1122.1 2781.1h33M1138.6 2764.6v33M1136.4 2777.0h33M1152.9 2760.5v33M1151.7 2772.8h33M1168.2 2756.3v33M1167.0 2768.7h33M1183.5 2752.2v33M1182.3 2764.5h33M1198.8 2748.0v33M1219.9 2760.3h33M1236.4 2743.8v33M1269.8 2756.2h33M1286.3 2739.7v33M1345.2 2752.0h33M1361.7 2735.5v33M1370.6 2747.9h33M1387.1 2731.4v33M1720.4 2694.3h33M1736.9 2677.8v33M1726.7 2689.8h33M1743.2 2673.3v33M1731.4 2685.3h33M1747.9 2668.8v33M1736.1 2680.7h33M1752.6 2664.2v33M1739.9 2676.0h33M1756.4 2659.5v33M1743.5 2671.3h33M1760.0 2654.8v33M1747.3 2666.6h33M1763.8 2650.1v33M1751.0 2661.8h33M1767.5 2645.3v33M1754.8 2656.9h33M1771.3 2640.4v33M1758.5 2652.0h33M1775.0 2635.5v33M1761.4 2647.0h33M1777.9 2630.5v33M1764.2 2642.0h33M1780.7 2625.5v33M1766.7 2636.9h33M1783.2 2620.4v33M1769.0 2631.7h33M1785.5 2615.2v33M1771.0 2626.5h33M1787.5 2610.0v33M1773.1 2621.2h33M1789.6 2604.7v33M1775.1 2615.9h33M1791.6 2599.4v33M1777.8 2610.5h33M1794.3 2594.0v33M1780.3 2605.0h33M1796.8 2588.5v33M1782.3 2599.5h33M1798.8 2583.0v33M1784.3 2593.8h33M1800.8 2577.3v33M1786.4 2588.2h33M1802.9 2571.7v33M1788.3 2582.4h33M1804.8 2565.9v33M1788.4 2582.2h33M1804.9 2565.7v33M1790.2 2576.4h33M1806.7 2559.9v33M1792.0 2570.5h33M1808.5 2554.0v33M1793.8 2564.5h33M1810.3 2548.0v33M1795.7 2558.5h33M1812.2 2542.0v33M1797.6 2552.4h33M1814.1 2535.9v33M1799.5 2546.2h33M1816.0 2529.7v33M1801.4 2540.0h33M1817.9 2523.5v33M1803.3 2533.7h33M1819.8 2517.2v33M1805.2 2527.3h33M1821.7 2510.8v33M1807.1 2520.8h33M1823.6 2504.3v33M1809.0 2514.2h33M1825.5 2497.7v33M1810.9 2507.6h33M1827.4 2491.1v33M1812.8 2500.9h33M1829.3 2484.4v33M1814.8 2494.1h33M1831.3 2477.6v33M1816.7 2487.2h33M1833.2 2470.7v33M1818.7 2480.3h33M1835.2 2463.8v33M1820.7 2473.2h33M1837.2 2456.7v33M1822.8 2466.1h33M1839.3 2449.6v33M1824.8 2458.9h33M1841.3 2442.4v33M1826.9 2451.6h33M1843.4 2435.1v33M1829.0 2444.2h33M1845.5 2427.7v33M1831.1 2436.7h33M1847.6 2420.2v33M1833.3 2429.2h33M1849.8 2412.7v33M1835.4 2421.5h33M1851.9 2405.0v33M1837.3 2413.8h33M1853.8 2397.3v33M1839.2 2405.9h33M1855.7 2389.4v33M1841.1 2398.0h33M1857.6 2381.5v33M1843.1 2390.0h33M1859.6 2373.5v33M1845.1 2381.9h33M1861.6 2365.4v33M1847.1 2373.6h33M1863.6 2357.1v33M1849.1 2365.3h33M1865.6 2348.8v33M1851.3 2356.9h33M1867.8 2340.4v33M1853.5 2348.4h33M1870.0 2331.9v33M1855.7 2339.8h33M1872.2 2323.3v33M1858.0 2331.0h33M1874.5 2314.5v33M1860.3 2322.2h33M1876.8 2305.7v33M1862.6 2313.3h33M1879.1 2296.8v33M1864.8 2304.2h33M1881.3 2287.7v33M1867.0 2295.1h33M1883.5 2278.6v33M1869.3 2285.8h33M1885.8 2269.3v33M1871.6 2276.4h33M1888.1 2259.9v33M1873.9 2267.0h33M1890.4 2250.5v33M1876.3 2257.4h33M1892.8 2240.9v33M1878.6 2247.6h33M1895.1 2231.1v33M1881.0 2237.8h33M1897.5 2221.3v33M1883.5 2227.9h33M1900.0 2211.4v33M1885.9 2217.8h33M1902.4 2201.3v33M1888.4 2207.6h33M1904.9 2191.1v33M1890.9 2197.3h33M1907.4 2180.8v33M1893.5 2186.9h33M1910.0 2170.4v33M1896.0 2176.3h33M1912.5 2159.8v33M1898.6 2165.6h33M1915.1 2149.1v33M1901.3 2154.8h33M1917.8 2138.3v33M1903.9 2143.8h33M1920.4 2127.3v33M1906.4 2132.8h33M1922.9 2116.3v33M1909.0 2121.6h33M1925.5 2105.1v33M1911.6 2110.2h33M1928.1 2093.7v33M1914.3 2098.7h33M1930.8 2082.2v33M1917.1 2087.1h33M1933.6 2070.6v33M1920.0 2075.4h33M1936.5 2058.9v33M1923.0 2063.5h33M1939.5 2047.0v33M1926.0 2051.4h33M1942.5 2034.9v33M1929.1 2039.2h33M1945.6 2022.7v33M1932.1 2026.9h33M1948.6 2010.4v33M1935.2 2014.4h33M1951.7 1997.9v33M1938.4 2001.8h33M1954.9 1985.3v33M1941.5 1989.0h33M1958.0 1972.5v33M1944.8 1976.1h33M1961.3 1959.6v33M1948.1 1963.0h33M1964.6 1946.5v33M1951.4 1949.7h33M1967.9 1933.2v33M1954.8 1936.3h33M1971.3 1919.8v33M1958.0 1922.8h33M1974.5 1906.3v33M1961.2 1909.0h33M1977.7 1892.5v33M1964.3 1895.1h33M1980.8 1878.6v33M1967.5 1881.1h33M1984.0 1864.6v33M1971.1 1866.8h33M1987.6 1850.3v33M1974.9 1852.4h33M1991.4 1835.9v33M1978.8 1837.9h33M1995.3 1821.4v33M1982.7 1823.1h33M1999.2 1806.6v33M1986.5 1808.2h33M2003.0 1791.7v33M1990.3 1793.1h33M2006.8 1776.6v33M1994.1 1777.8h33M2010.6 1761.3v33M1998.2 1762.3h33M2014.7 1745.8v33M2002.9 1746.7h33M2019.4 1730.2v33M2007.1 1730.8h33M2023.6 1714.3v33M2011.1 1714.8h33M2027.6 1698.3v33M2015.2 1698.6h33M2031.7 1682.1v33M2019.3 1682.2h33M2035.8 1665.7v33M2023.4 1665.5h33M2039.9 1649.0v33M2027.6 1648.7h33M2044.1 1632.2v33M2031.8 1631.7h33M2048.3 1615.2v33M2036.1 1614.5h33M2052.6 1598.0v33M2040.5 1597.1h33M2057.0 1580.6v33M2044.9 1579.4h33M2061.4 1562.9v33M2049.3 1561.6h33M2065.8 1545.1v33M2052.2 1543.5h33M2068.7 1527.0v33M2052.2 1525.2h33M2068.7 1508.7v33" stroke="#ff7f0e" stroke-width="6" fill="none"/>
<polyline points="270.5,2834.0 537.4,2832.7 737.6,2829.0 865.5,2824.7 922.9,2821.4 977.4,2817.6 1035.0,2808.3 1089.5,2796.7 1144.1,2779.4 1198.8,2764.5 1253.4,2758.5 1308.2,2754.7 1362.7,2752.0 1391.6,2747.1 1420.5,2741.1 1431.6,2739.9 1441.7,2738.7 1451.9,2736.9 1462.0,2736.1 1473.1,2735.7 1505.0,2735.1 1515.7,2734.9 1525.8,2734.3 1536.0,2733.4 1546.1,2732.2 1556.7,2730.7 1566.9,2730.4 1588.0,2730.1 1598.7,2729.8 1609.5,2729.4 1618.2,2727.7 1628.1,2725.6 1638.7,2724.5 1649.4,2723.9 1670.8,2723.3 1681.4,2722.2 1687.7,2719.3 1695.7,2715.9 1701.9,2711.3 1711.7,2708.5 1721.5,2707.9 1732.2,2706.7 1741.9,2703.8 1751.8,2700.4 1753.5,2694.1 1758.8,2689.0 1763.8,2683.0 1764.2,2676.4 1764.5,2669.5 1770.5,2664.1 1776.3,2659.2 1778.5,2652.9 1781.1,2646.0 1783.8,2639.7 1786.5,2632.8 1788.2,2626.0 1789.9,2619.3 1792.6,2612.2 1795.3,2605.9 1800.8,2585.2 1817.4,2531.1 1833.0,2476.7 1848.5,2422.3 1861.7,2367.9 1875.8,2313.8 1889.2,2258.6 1902.8,2203.0 1916.1,2148.6 1928.7,2093.7 1942.4,2039.3 1956.0,1984.4 1969.6,1930.5 1982.0,1875.9 1996.7,1820.8 2010.3,1766.4 2018.0,1740.4 2020.4,1731.1" fill="none" stroke="#000" stroke-width="11.5" stroke-dasharray="11.5 17"/>
</g>
<line x1="270.5" y1="2834.0" x2="270.5" y2="2853.0" class="tk"/>
<text x="271.0" y="2927.5" font-size="80" text-anchor="middle" textLength="102" lengthAdjust="spacingAndGlyphs" class="tl">0.0</text>
<line x1="537.4" y1="2834.0" x2="537.4" y2="2853.0" class="tk"/>
<text x="537.9" y="2927.5" font-size="80" text-anchor="middle" textLength="102" lengthAdjust="spacingAndGlyphs" class="tl">0.2</text>
<line x1="804.3" y1="2834.0" x2="804.3" y2="2853.0" class="tk"/>
<text x="804.8" y="2927.5" font-size="80" text-anchor="middle" textLength="102" lengthAdjust="spacingAndGlyphs" class="tl">0.4</text>
<line x1="1071.3" y1="2834.0" x2="1071.3" y2="2853.0" class="tk"/>
<text x="1071.8" y="2927.5" font-size="80" text-anchor="middle" textLength="102" lengthAdjust="spacingAndGlyphs" class="tl">0.6</text>
<line x1="1338.2" y1="2834.0" x2="1338.2" y2="2853.0" class="tk"/>
<text x="1338.7" y="2927.5" font-size="80" text-anchor="middle" textLength="102" lengthAdjust="spacingAndGlyphs" class="tl">0.8</text>
<line x1="1605.1" y1="2834.0" x2="1605.1" y2="2853.0" class="tk"/>
<text x="1605.6" y="2927.5" font-size="80" text-anchor="middle" textLength="102" lengthAdjust="spacingAndGlyphs" class="tl">1.0</text>
<line x1="1872.0" y1="2834.0" x2="1872.0" y2="2853.0" class="tk"/>
<text x="1872.5" y="2927.5" font-size="80" text-anchor="middle" textLength="102" lengthAdjust="spacingAndGlyphs" class="tl">1.2</text>
<line x1="251.5" y1="2834.0" x2="270.5" y2="2834.0" class="tk"/>
<text x="234.5" y="2861.5" font-size="80" text-anchor="end" textLength="102" lengthAdjust="spacingAndGlyphs" class="tl">0.0</text>
<line x1="251.5" y1="2582.2" x2="270.5" y2="2582.2" class="tk"/>
<text x="234.5" y="2609.7" font-size="80" text-anchor="end" textLength="102" lengthAdjust="spacingAndGlyphs" class="tl">1.0</text>
<line x1="251.5" y1="2330.4" x2="270.5" y2="2330.4" class="tk"/>
<text x="234.5" y="2357.9" font-size="80" text-anchor="end" textLength="102" lengthAdjust="spacingAndGlyphs" class="tl">2.0</text>
<line x1="251.5" y1="2078.6" x2="270.5" y2="2078.6" class="tk"/>
<text x="234.5" y="2106.1" font-size="80" text-anchor="end" textLength="102" lengthAdjust="spacingAndGlyphs" class="tl">3.0</text>
<line x1="251.5" y1="1826.8" x2="270.5" y2="1826.8" class="tk"/>
<text x="234.5" y="1854.3" font-size="80" text-anchor="end" textLength="102" lengthAdjust="spacingAndGlyphs" class="tl">4.0</text>
<rect x="270.5" y="1657.0" width="1777.5" height="1177.0" fill="none" stroke="#000" stroke-width="4.8"/>
<text x="1054" y="3016.5" font-size="80" textLength="210" lengthAdjust="spacingAndGlyphs" class="lab"><tspan font-style="italic">x</tspan><tspan font-size="56" dy="16">b</tspan><tspan dy="-16"> [Å]</tspan></text>
<text transform="translate(91.3 2364.0) rotate(-90)" x="0" y="0" font-size="72" font-style="italic" class="dvf" textLength="29" lengthAdjust="spacingAndGlyphs">f</text>
<text transform="translate(91.3 2300.2) rotate(-90)" x="0" y="0" font-size="80" textLength="163" lengthAdjust="spacingAndGlyphs" class="lab">[nN]</text>
<text x="862.9" y="3217.8" font-size="76" textLength="90" lengthAdjust="spacingAndGlyphs" class="lab">(<tspan font-weight="bold">b</tspan>)</text>
<text x="981.2" y="3217.8" font-size="76" font-style="italic" textLength="54.5" lengthAdjust="spacingAndGlyphs" class="lab">N</text>
<text transform="translate(0 3201.0) scale(1 0.72) translate(0 -3201.0)" x="1060.6" y="3226.8" font-size="76" textLength="64.5" lengthAdjust="spacingAndGlyphs" class="lab">=</text>
<text x="1141.2" y="3217.8" font-size="76" textLength="76.5" lengthAdjust="spacingAndGlyphs" class="lab">24</text>
<rect x="465.7" y="1902.0" width="1031.8" height="610.5" fill="#e6f4fd"/>
<g clip-path="url(#cib)">
<path d="M-2141.6 2836.9V2846.3M-2111.1 2836.6V2845.9M-2080.7 2836.2V2845.6M-2050.2 2835.9V2845.3M-2019.8 2835.6V2845.0M-1989.3 2835.3V2844.6M-1958.9 2834.9V2844.3M-1928.4 2834.6V2844.0M-1898.0 2834.3V2843.7M-1867.6 2834.0V2843.4M-1837.1 2833.8V2843.2M-1806.7 2833.7V2843.0M-1776.2 2833.5V2842.8M-1745.8 2833.3V2842.7M-1715.3 2833.1V2842.5M-1684.9 2832.9V2842.3M-1654.4 2832.8V2842.1M-1624.0 2832.6V2842.0M-1593.5 2832.4V2841.8M-1563.1 2832.2V2841.6M-1532.6 2832.0V2841.4M-1502.2 2831.8V2841.2M-1471.7 2831.5V2840.9M-1441.3 2831.3V2840.6M-1410.8 2831.0V2840.4M-1380.4 2830.7V2840.1M-1349.9 2830.5V2839.8M-1319.5 2830.2V2839.6M-1289.0 2829.9V2839.3M-1258.6 2829.7V2839.0M-1228.1 2829.4V2838.8M-1197.7 2829.1V2838.5M-1167.2 2828.8V2838.2M-1136.8 2826.9V2836.2M-1106.3 2824.9V2834.3M-1075.9 2823.0V2832.3M-1045.4 2821.0V2830.4M-1015.0 2819.1V2828.5M-984.5 2816.3V2825.7M-954.1 2813.2V2822.6M-923.6 2810.1V2819.5M-893.2 2807.0V2816.4M-862.7 2803.9V2813.3M-832.3 2799.9V2809.3M-801.8 2795.6V2805.0M-771.4 2791.2V2800.6M-740.9 2786.9V2796.2M-710.5 2782.5V2791.9M-680.0 2775.6V2784.9M-649.6 2768.3V2777.7M-619.1 2761.1V2770.4M-588.7 2753.8V2763.2M-558.2 2746.6V2755.9M-527.8 2736.5V2745.9M-497.3 2726.1V2735.4M-466.9 2715.6V2725.0M-436.4 2705.1V2714.5M-406.0 2694.3V2703.7M-375.5 2679.7V2689.0M-345.1 2665.0V2674.4M-314.6 2650.4V2659.8M-284.2 2635.8V2645.2M-253.7 2622.0V2631.4M-223.3 2610.1V2619.4M-192.8 2598.1V2607.5M-162.4 2586.1V2595.5M-131.9 2574.2V2583.5M-101.5 2565.4V2574.8M-71.0 2559.5V2568.9M-40.6 2553.6V2563.0M-10.1 2547.8V2557.1M20.3 2541.9V2551.2M50.8 2537.8V2547.2M81.2 2534.3V2543.7M111.6 2530.8V2540.2M142.1 2527.4V2536.7M172.5 2523.9V2533.3M203.0 2521.2V2530.6M233.4 2518.6V2528.0M263.9 2516.0V2525.4M294.3 2513.4V2522.8M324.8 2509.6V2519.0M355.2 2501.4V2510.7M385.7 2493.1V2502.5M416.1 2484.1V2493.5M446.6 2474.8V2484.2M477.0 2465.5V2474.9M507.5 2463.0V2472.4M537.9 2462.7V2472.1M568.4 2447.3V2456.6M598.8 2445.8V2455.2M629.3 2443.3V2452.6M659.7 2440.9V2450.3M690.2 2440.9V2450.3M720.6 2440.8V2450.1M751.1 2436.0V2445.3M781.5 2433.5V2442.9M812.0 2433.1V2442.5M842.4 2423.3V2432.7M872.9 2413.8V2423.1M903.3 2411.9V2421.2M933.8 2419.3V2428.6M964.2 2428.4V2437.7M994.7 2422.6V2431.9M1025.1 2414.3V2423.6M1055.6 2395.5V2404.8M1086.0 2379.9V2389.3M1116.5 2381.4V2390.7M1146.9 2405.4V2414.8M1177.4 2397.6V2407.0M1207.8 2382.1V2391.5M1238.3 2350.3V2359.7M1268.7 2310.3V2319.6M1299.2 2324.5V2333.9M1329.6 2332.3V2341.7M1360.1 2316.4V2325.8M1390.5 2255.6V2265.0M1421.0 2173.4V2182.7M1451.4 2068.1V2077.4M1481.9 1941.8V1951.2M1512.3 1756.9V1766.2M1542.8 1603.4V1612.8M1573.2 1439.1V1448.5M1603.7 1273.5V1282.9M1634.1 1100.5V1109.9M1664.6 906.9V916.2M1695.0 724.2V733.5M1725.5 532.2V541.6M1755.9 338.8V348.2M1786.4 144.8V154.2M1816.8 -53.3V-43.9M1847.3 -254.4V-245.1M1877.7 -443.5V-434.1M1908.2 -634.2V-624.8M1938.6 -821.9V-812.5M1969.1 -1022.9V-1013.5M1999.5 -1213.6V-1204.3M2029.9 -1394.6V-1385.2M2060.4 -1580.5V-1571.2M2090.8 -1752.2V-1742.8M2121.3 -1941.9V-1932.5M2151.7 -2131.6V-2122.3M2182.2 -2321.4V-2312.0M2212.6 -2460.4V-2451.1" stroke="#1f77b4" stroke-width="11" fill="none"/>
<path d="M-2158.1 2836.9h33M-2158.1 2846.3h33M-2127.6 2836.6h33M-2127.6 2845.9h33M-2097.2 2836.2h33M-2097.2 2845.6h33M-2066.7 2835.9h33M-2066.7 2845.3h33M-2036.3 2835.6h33M-2036.3 2845.0h33M-2005.8 2835.3h33M-2005.8 2844.6h33M-1975.4 2834.9h33M-1975.4 2844.3h33M-1944.9 2834.6h33M-1944.9 2844.0h33M-1914.5 2834.3h33M-1914.5 2843.7h33M-1884.1 2834.0h33M-1884.1 2843.4h33M-1853.6 2833.8h33M-1853.6 2843.2h33M-1823.2 2833.7h33M-1823.2 2843.0h33M-1792.7 2833.5h33M-1792.7 2842.8h33M-1762.3 2833.3h33M-1762.3 2842.7h33M-1731.8 2833.1h33M-1731.8 2842.5h33M-1701.4 2832.9h33M-1701.4 2842.3h33M-1670.9 2832.8h33M-1670.9 2842.1h33M-1640.5 2832.6h33M-1640.5 2842.0h33M-1610.0 2832.4h33M-1610.0 2841.8h33M-1579.6 2832.2h33M-1579.6 2841.6h33M-1549.1 2832.0h33M-1549.1 2841.4h33M-1518.7 2831.8h33M-1518.7 2841.2h33M-1488.2 2831.5h33M-1488.2 2840.9h33M-1457.8 2831.3h33M-1457.8 2840.6h33M-1427.3 2831.0h33M-1427.3 2840.4h33M-1396.9 2830.7h33M-1396.9 2840.1h33M-1366.4 2830.5h33M-1366.4 2839.8h33M-1336.0 2830.2h33M-1336.0 2839.6h33M-1305.5 2829.9h33M-1305.5 2839.3h33M-1275.1 2829.7h33M-1275.1 2839.0h33M-1244.6 2829.4h33M-1244.6 2838.8h33M-1214.2 2829.1h33M-1214.2 2838.5h33M-1183.7 2828.8h33M-1183.7 2838.2h33M-1153.3 2826.9h33M-1153.3 2836.2h33M-1122.8 2824.9h33M-1122.8 2834.3h33M-1092.4 2823.0h33M-1092.4 2832.3h33M-1061.9 2821.0h33M-1061.9 2830.4h33M-1031.5 2819.1h33M-1031.5 2828.5h33M-1001.0 2816.3h33M-1001.0 2825.7h33M-970.6 2813.2h33M-970.6 2822.6h33M-940.1 2810.1h33M-940.1 2819.5h33M-909.7 2807.0h33M-909.7 2816.4h33M-879.2 2803.9h33M-879.2 2813.3h33M-848.8 2799.9h33M-848.8 2809.3h33M-818.3 2795.6h33M-818.3 2805.0h33M-787.9 2791.2h33M-787.9 2800.6h33M-757.4 2786.9h33M-757.4 2796.2h33M-727.0 2782.5h33M-727.0 2791.9h33M-696.5 2775.6h33M-696.5 2784.9h33M-666.1 2768.3h33M-666.1 2777.7h33M-635.6 2761.1h33M-635.6 2770.4h33M-605.2 2753.8h33M-605.2 2763.2h33M-574.7 2746.6h33M-574.7 2755.9h33M-544.3 2736.5h33M-544.3 2745.9h33M-513.8 2726.1h33M-513.8 2735.4h33M-483.4 2715.6h33M-483.4 2725.0h33M-452.9 2705.1h33M-452.9 2714.5h33M-422.5 2694.3h33M-422.5 2703.7h33M-392.0 2679.7h33M-392.0 2689.0h33M-361.6 2665.0h33M-361.6 2674.4h33M-331.1 2650.4h33M-331.1 2659.8h33M-300.7 2635.8h33M-300.7 2645.2h33M-270.2 2622.0h33M-270.2 2631.4h33M-239.8 2610.1h33M-239.8 2619.4h33M-209.3 2598.1h33M-209.3 2607.5h33M-178.9 2586.1h33M-178.9 2595.5h33M-148.4 2574.2h33M-148.4 2583.5h33M-118.0 2565.4h33M-118.0 2574.8h33M-87.5 2559.5h33M-87.5 2568.9h33M-57.1 2553.6h33M-57.1 2563.0h33M-26.6 2547.8h33M-26.6 2557.1h33M3.8 2541.9h33M3.8 2551.2h33M34.3 2537.8h33M34.3 2547.2h33M64.7 2534.3h33M64.7 2543.7h33M95.1 2530.8h33M95.1 2540.2h33M125.6 2527.4h33M125.6 2536.7h33M156.0 2523.9h33M156.0 2533.3h33M186.5 2521.2h33M186.5 2530.6h33M216.9 2518.6h33M216.9 2528.0h33M247.4 2516.0h33M247.4 2525.4h33M277.8 2513.4h33M277.8 2522.8h33M308.3 2509.6h33M308.3 2519.0h33M338.7 2501.4h33M338.7 2510.7h33M369.2 2493.1h33M369.2 2502.5h33M399.6 2484.1h33M399.6 2493.5h33M430.1 2474.8h33M430.1 2484.2h33M460.5 2465.5h33M460.5 2474.9h33M491.0 2463.0h33M491.0 2472.4h33M521.4 2462.7h33M521.4 2472.1h33M551.9 2447.3h33M551.9 2456.6h33M582.3 2445.8h33M582.3 2455.2h33M612.8 2443.3h33M612.8 2452.6h33M643.2 2440.9h33M643.2 2450.3h33M673.7 2440.9h33M673.7 2450.3h33M704.1 2440.8h33M704.1 2450.1h33M734.6 2436.0h33M734.6 2445.3h33M765.0 2433.5h33M765.0 2442.9h33M795.5 2433.1h33M795.5 2442.5h33M825.9 2423.3h33M825.9 2432.7h33M856.4 2413.8h33M856.4 2423.1h33M886.8 2411.9h33M886.8 2421.2h33M917.3 2419.3h33M917.3 2428.6h33M947.7 2428.4h33M947.7 2437.7h33M978.2 2422.6h33M978.2 2431.9h33M1008.6 2414.3h33M1008.6 2423.6h33M1039.1 2395.5h33M1039.1 2404.8h33M1069.5 2379.9h33M1069.5 2389.3h33M1100.0 2381.4h33M1100.0 2390.7h33M1130.4 2405.4h33M1130.4 2414.8h33M1160.9 2397.6h33M1160.9 2407.0h33M1191.3 2382.1h33M1191.3 2391.5h33M1221.8 2350.3h33M1221.8 2359.7h33M1252.2 2310.3h33M1252.2 2319.6h33M1282.7 2324.5h33M1282.7 2333.9h33M1313.1 2332.3h33M1313.1 2341.7h33M1343.6 2316.4h33M1343.6 2325.8h33M1374.0 2255.6h33M1374.0 2265.0h33M1404.5 2173.4h33M1404.5 2182.7h33M1434.9 2068.1h33M1434.9 2077.4h33M1465.4 1941.8h33M1465.4 1951.2h33M1495.8 1756.9h33M1495.8 1766.2h33M1526.3 1603.4h33M1526.3 1612.8h33M1556.7 1439.1h33M1556.7 1448.5h33M1587.2 1273.5h33M1587.2 1282.9h33M1617.6 1100.5h33M1617.6 1109.9h33M1648.1 906.9h33M1648.1 916.2h33M1678.5 724.2h33M1678.5 733.5h33M1709.0 532.2h33M1709.0 541.6h33M1739.4 338.8h33M1739.4 348.2h33M1769.9 144.8h33M1769.9 154.2h33M1800.3 -53.3h33M1800.3 -43.9h33M1830.8 -254.4h33M1830.8 -245.1h33M1861.2 -443.5h33M1861.2 -434.1h33M1891.7 -634.2h33M1891.7 -624.8h33M1922.1 -821.9h33M1922.1 -812.5h33M1952.6 -1022.9h33M1952.6 -1013.5h33M1983.0 -1213.6h33M1983.0 -1204.3h33M2013.4 -1394.6h33M2013.4 -1385.2h33M2043.9 -1580.5h33M2043.9 -1571.2h33M2074.3 -1752.2h33M2074.3 -1742.8h33M2104.8 -1941.9h33M2104.8 -1932.5h33M2135.2 -2131.6h33M2135.2 -2122.3h33M2165.7 -2321.4h33M2165.7 -2312.0h33M2196.1 -2460.4h33M2196.1 -2451.1h33M-2158.1 2841.6h33M-2141.6 2825.1v33M-2127.6 2841.3h33M-2111.1 2824.8v33M-2097.2 2840.9h33M-2080.7 2824.4v33M-2066.7 2840.6h33M-2050.2 2824.1v33M-2036.3 2840.3h33M-2019.8 2823.8v33M-2005.8 2839.9h33M-1989.3 2823.4v33M-1975.4 2839.6h33M-1958.9 2823.1v33M-1944.9 2839.3h33M-1928.4 2822.8v33M-1914.5 2839.0h33M-1898.0 2822.5v33M-1884.1 2838.7h33M-1867.6 2822.2v33M-1853.6 2838.5h33M-1837.1 2822.0v33M-1823.2 2838.3h33M-1806.7 2821.8v33M-1792.7 2838.2h33M-1776.2 2821.7v33M-1762.3 2838.0h33M-1745.8 2821.5v33M-1731.8 2837.8h33M-1715.3 2821.3v33M-1701.4 2837.6h33M-1684.9 2821.1v33M-1670.9 2837.4h33M-1654.4 2820.9v33M-1640.5 2837.3h33M-1624.0 2820.8v33M-1610.0 2837.1h33M-1593.5 2820.6v33M-1579.6 2836.9h33M-1563.1 2820.4v33M-1549.1 2836.7h33M-1532.6 2820.2v33M-1518.7 2836.5h33M-1502.2 2820.0v33M-1488.2 2836.2h33M-1471.7 2819.7v33M-1457.8 2836.0h33M-1441.3 2819.5v33M-1427.3 2835.7h33M-1410.8 2819.2v33M-1396.9 2835.4h33M-1380.4 2818.9v33M-1366.4 2835.2h33M-1349.9 2818.7v33M-1336.0 2834.9h33M-1319.5 2818.4v33M-1305.5 2834.6h33M-1289.0 2818.1v33M-1275.1 2834.4h33M-1258.6 2817.9v33M-1244.6 2834.1h33M-1228.1 2817.6v33M-1214.2 2833.8h33M-1197.7 2817.3v33M-1183.7 2833.5h33M-1167.2 2817.0v33M-1153.3 2831.6h33M-1136.8 2815.1v33M-1122.8 2829.6h33M-1106.3 2813.1v33M-1092.4 2827.7h33M-1075.9 2811.2v33M-1061.9 2825.7h33M-1045.4 2809.2v33M-1031.5 2823.8h33M-1015.0 2807.3v33M-1001.0 2821.0h33M-984.5 2804.5v33M-970.6 2817.9h33M-954.1 2801.4v33M-940.1 2814.8h33M-923.6 2798.3v33M-909.7 2811.7h33M-893.2 2795.2v33M-879.2 2808.6h33M-862.7 2792.1v33M-848.8 2804.6h33M-832.3 2788.1v33M-818.3 2800.3h33M-801.8 2783.8v33M-787.9 2795.9h33M-771.4 2779.4v33M-757.4 2791.5h33M-740.9 2775.0v33M-727.0 2787.2h33M-710.5 2770.7v33M-696.5 2780.2h33M-680.0 2763.7v33M-666.1 2773.0h33M-649.6 2756.5v33M-635.6 2765.7h33M-619.1 2749.2v33M-605.2 2758.5h33M-588.7 2742.0v33M-574.7 2751.3h33M-558.2 2734.8v33M-544.3 2741.2h33M-527.8 2724.7v33M-513.8 2730.8h33M-497.3 2714.3v33M-483.4 2720.3h33M-466.9 2703.8v33M-452.9 2709.8h33M-436.4 2693.3v33M-422.5 2699.0h33M-406.0 2682.5v33M-392.0 2684.4h33M-375.5 2667.9v33M-361.6 2669.7h33M-345.1 2653.2v33M-331.1 2655.1h33M-314.6 2638.6v33M-300.7 2640.5h33M-284.2 2624.0v33M-270.2 2626.7h33M-253.7 2610.2v33M-239.8 2614.8h33M-223.3 2598.3v33M-209.3 2602.8h33M-192.8 2586.3v33M-178.9 2590.8h33M-162.4 2574.3v33M-148.4 2578.8h33M-131.9 2562.3v33M-118.0 2570.1h33M-101.5 2553.6v33M-87.5 2564.2h33M-71.0 2547.7v33M-57.1 2558.3h33M-40.6 2541.8v33M-26.6 2552.4h33M-10.1 2535.9v33M3.8 2546.6h33M20.3 2530.1v33M34.3 2542.5h33M50.8 2526.0v33M64.7 2539.0h33M81.2 2522.5v33M95.1 2535.5h33M111.6 2519.0v33M125.6 2532.0h33M142.1 2515.5v33M156.0 2528.6h33M172.5 2512.1v33M186.5 2525.9h33M203.0 2509.4v33M216.9 2523.3h33M233.4 2506.8v33M247.4 2520.7h33M263.9 2504.2v33M277.8 2518.1h33M294.3 2501.6v33M308.3 2514.3h33M324.8 2497.8v33M338.7 2506.0h33M355.2 2489.5v33M369.2 2497.8h33M385.7 2481.3v33M399.6 2488.8h33M416.1 2472.3v33M430.1 2479.5h33M446.6 2463.0v33M460.5 2470.2h33M477.0 2453.7v33M491.0 2467.7h33M507.5 2451.2v33M521.4 2467.4h33M537.9 2450.9v33M551.9 2452.0h33M568.4 2435.5v33M582.3 2450.5h33M598.8 2434.0v33M612.8 2448.0h33M629.3 2431.5v33M643.2 2445.6h33M659.7 2429.1v33M673.7 2445.6h33M690.2 2429.1v33M704.1 2445.5h33M720.6 2429.0v33M734.6 2440.6h33M751.1 2424.1v33M765.0 2438.2h33M781.5 2421.7v33M795.5 2437.8h33M812.0 2421.3v33M825.9 2428.0h33M842.4 2411.5v33M856.4 2418.4h33M872.9 2401.9v33M886.8 2416.5h33M903.3 2400.0v33M917.3 2423.9h33M933.8 2407.4v33M947.7 2433.0h33M964.2 2416.5v33M978.2 2427.2h33M994.7 2410.7v33M1008.6 2419.0h33M1025.1 2402.5v33M1039.1 2400.2h33M1055.6 2383.7v33M1069.5 2384.6h33M1086.0 2368.1v33M1100.0 2386.0h33M1116.5 2369.5v33M1130.4 2410.1h33M1146.9 2393.6v33M1160.9 2402.3h33M1177.4 2385.8v33M1191.3 2386.8h33M1207.8 2370.3v33M1221.8 2355.0h33M1238.3 2338.5v33M1252.2 2315.0h33M1268.7 2298.5v33M1282.7 2329.2h33M1299.2 2312.7v33M1313.1 2337.0h33M1329.6 2320.5v33M1343.6 2321.1h33M1360.1 2304.6v33M1374.0 2260.3h33M1390.5 2243.8v33M1404.5 2178.0h33M1421.0 2161.5v33M1434.9 2072.8h33M1451.4 2056.3v33M1465.4 1946.5h33M1481.9 1930.0v33M1495.8 1761.6h33M1512.3 1745.1v33M1526.3 1608.1h33M1542.8 1591.6v33M1556.7 1443.8h33M1573.2 1427.3v33M1587.2 1278.2h33M1603.7 1261.7v33M1617.6 1105.2h33M1634.1 1088.7v33M1648.1 911.6h33M1664.6 895.1v33M1678.5 728.8h33M1695.0 712.3v33M1709.0 536.9h33M1725.5 520.4v33M1739.4 343.5h33M1755.9 327.0v33M1769.9 149.5h33M1786.4 133.0v33M1800.3 -48.6h33M1816.8 -65.1v33M1830.8 -249.7h33M1847.3 -266.2v33M1861.2 -438.8h33M1877.7 -455.3v33M1891.7 -629.5h33M1908.2 -646.0v33M1922.1 -817.2h33M1938.6 -833.7v33M1952.6 -1018.2h33M1969.1 -1034.7v33M1983.0 -1209.0h33M1999.5 -1225.5v33M2013.4 -1389.9h33M2029.9 -1406.4v33M2043.9 -1575.8h33M2060.4 -1592.3v33M2074.3 -1747.5h33M2090.8 -1764.0v33M2104.8 -1937.2h33M2121.3 -1953.7v33M2135.2 -2127.0h33M2151.7 -2143.5v33M2165.7 -2316.7h33M2182.2 -2333.2v33M2196.1 -2455.7h33M2212.6 -2472.2v33" stroke="#1f77b4" stroke-width="6" fill="none"/>
<path d="M-2088.2 2841.9H-2024.3M-1491.3 2838.8H-1441.6M-1047.2 2825.2H-1004.6M487.3 2475.1H519.3M600.3 2457.9H632.3M735.7 2440.7H767.7M886.7 2423.4H918.7M1005.7 2406.2H1037.7M1089.6 2386.3H1121.6M1169.9 2370.7H1201.9M1200.8 2351.8H1232.8M1233.1 2332.8H1265.1M1262.3 2313.9H1294.2M1281.4 2295.0H1313.4M-864.6 2807.5H-840.4M-753.2 2790.3H-729.0M-665.5 2773.2H-641.3M-597.2 2756.0H-573.0M-537.7 2738.8H-513.5M-485.6 2721.6H-461.4M-433.4 2704.4H-409.3M-394.5 2687.3H-370.3M-359.7 2670.1H-335.6M-325.0 2652.9H-300.8M-290.2 2635.7H-266.1M-252.0 2618.5H-227.9M-211.3 2601.4H-187.1M-170.6 2584.2H-146.4M-129.8 2567.0H-105.7M-29.9 2549.8H-5.7M102.9 2532.6H127.1M303.8 2515.5H327.9M371.3 2498.3H395.5M1308.6 2276.5H1320.7M1325.4 2258.0H1337.5M1337.9 2239.3H1349.9M1350.5 2220.4H1362.6M1360.6 2201.2H1372.7M1370.2 2181.8H1382.3M1380.1 2162.2H1392.2M1390.2 2142.3H1402.3M1400.2 2122.2H1412.3M1410.1 2101.9H1422.2M1417.9 2081.3H1429.9M1425.4 2060.5H1437.4M1431.9 2039.4H1444.0M1438.0 2018.0H1450.1M1443.5 1996.4H1455.5M1448.9 1974.6H1460.9M1454.3 1952.5H1466.4M1461.3 1930.1H1473.4M1468.0 1907.4H1480.1M1473.4 1884.5H1485.5M1478.8 1861.3H1490.9M1484.3 1837.8H1496.4M1489.5 1814.1H1501.5M1486.8 1813.2H1504.6M1491.6 1789.1H1509.3M1496.4 1764.8H1514.2M1501.3 1740.2H1519.0M1506.2 1715.2H1524.0M1511.2 1690.0H1529.0M1516.3 1664.5H1534.1M1521.4 1638.6H1539.2M1526.6 1612.5H1544.4M1531.6 1586.0H1549.4M1536.6 1559.3H1554.4M1541.6 1532.2H1559.4M1546.7 1504.7H1564.4M1551.8 1477.0H1569.6M1557.0 1448.9H1574.8M1562.2 1420.5H1580.0M1567.6 1391.7H1585.3M1572.9 1362.6H1590.7M1578.3 1333.1H1596.1M1583.8 1303.3H1601.5M1589.3 1273.2H1607.1M1594.9 1242.6H1612.7M1600.6 1211.7H1618.3M1606.3 1180.5H1624.1M1612.0 1148.8H1629.8M1617.0 1116.8H1634.8M1622.1 1084.4H1639.9M1627.2 1051.6H1645.0M1632.4 1018.4H1650.2M1637.7 984.8H1655.4M1643.0 950.8H1660.7M1648.5 916.4H1666.2M1654.3 881.6H1672.0M1660.1 846.4H1677.9M1666.1 810.7H1683.9M1672.1 774.6H1689.9M1678.2 738.1H1696.0M1684.3 701.2H1702.1M1690.2 663.8H1708.0M1696.2 625.9H1713.9M1702.2 587.6H1720.0M1708.3 548.9H1726.1M1714.5 509.6H1732.2M1720.7 469.9H1738.5M1727.0 429.8H1744.8M1733.4 389.1H1751.2M1739.9 348.0H1757.7M1746.5 306.3H1764.2M1753.1 264.2H1770.9M1759.8 221.6H1777.6M1766.6 178.4H1784.3M1773.4 134.8H1791.1M1780.3 90.6H1798.1M1787.3 45.8H1805.1M1794.2 0.6H1812.0M1801.0 -45.2H1818.8M1807.9 -91.6H1825.7M1814.9 -138.5H1832.7M1822.0 -186.0H1839.7M1829.4 -234.0H1847.2M1837.3 -282.6H1855.0M1845.2 -331.8H1863.0M1853.2 -381.6H1871.0M1861.3 -432.0H1879.1M1869.5 -483.0H1887.3M1877.7 -534.6H1895.5M1886.1 -586.8H1903.8M1894.5 -639.7H1912.3M1903.1 -693.2H1920.9M1911.9 -747.3H1929.7M1920.9 -802.1H1938.6M1929.9 -857.5H1947.6M1938.5 -913.6H1956.2M1946.8 -970.4H1964.5M1955.2 -1027.8H1972.9M1963.7 -1086.0H1981.4M1973.2 -1144.8H1991.0M1983.4 -1204.4H2001.2M1993.8 -1264.6H2011.5M2004.2 -1325.6H2022.0M2014.3 -1387.3H2032.0M2024.3 -1449.8H2042.1M2034.5 -1513.0H2052.3M2045.3 -1577.0H2063.1M2057.8 -1641.7H2075.5M2069.1 -1707.2H2086.9M2079.7 -1773.5H2097.5M2090.5 -1840.6H2108.3M2101.4 -1908.5H2119.2M2112.4 -1977.2H2130.2M2123.6 -2046.7H2141.4M2134.9 -2117.1H2152.7M2146.3 -2188.3H2164.1M2157.9 -2260.4H2175.6M2169.6 -2333.3H2187.4M2181.4 -2407.1H2199.2M2189.2 -2481.8H2207.0M2189.2 -2557.4H2207.0" stroke="#ff7f0e" stroke-width="11" fill="none"/>
<path d="M-2088.2 2825.4v33M-2024.3 2825.4v33M-1491.3 2822.3v33M-1441.6 2822.3v33M-1047.2 2808.7v33M-1004.6 2808.7v33M487.3 2458.6v33M519.3 2458.6v33M600.3 2441.4v33M632.3 2441.4v33M735.7 2424.2v33M767.7 2424.2v33M886.7 2406.9v33M918.7 2406.9v33M1005.7 2389.7v33M1037.7 2389.7v33M1089.6 2369.8v33M1121.6 2369.8v33M1169.9 2354.2v33M1201.9 2354.2v33M1200.8 2335.3v33M1232.8 2335.3v33M1233.1 2316.3v33M1265.1 2316.3v33M1262.3 2297.4v33M1294.2 2297.4v33M1281.4 2278.5v33M1313.4 2278.5v33M-864.6 2791.0v33M-840.4 2791.0v33M-753.2 2773.8v33M-729.0 2773.8v33M-665.5 2756.7v33M-641.3 2756.7v33M-597.2 2739.5v33M-573.0 2739.5v33M-537.7 2722.3v33M-513.5 2722.3v33M-485.6 2705.1v33M-461.4 2705.1v33M-433.4 2687.9v33M-409.3 2687.9v33M-394.5 2670.8v33M-370.3 2670.8v33M-359.7 2653.6v33M-335.6 2653.6v33M-325.0 2636.4v33M-300.8 2636.4v33M-290.2 2619.2v33M-266.1 2619.2v33M-252.0 2602.0v33M-227.9 2602.0v33M-211.3 2584.9v33M-187.1 2584.9v33M-170.6 2567.7v33M-146.4 2567.7v33M-129.8 2550.5v33M-105.7 2550.5v33M-29.9 2533.3v33M-5.7 2533.3v33M102.9 2516.1v33M127.1 2516.1v33M303.8 2499.0v33M327.9 2499.0v33M371.3 2481.8v33M395.5 2481.8v33M1308.6 2260.0v33M1320.7 2260.0v33M1325.4 2241.5v33M1337.5 2241.5v33M1337.9 2222.8v33M1349.9 2222.8v33M1350.5 2203.9v33M1362.6 2203.9v33M1360.6 2184.7v33M1372.7 2184.7v33M1370.2 2165.3v33M1382.3 2165.3v33M1380.1 2145.7v33M1392.2 2145.7v33M1390.2 2125.8v33M1402.3 2125.8v33M1400.2 2105.7v33M1412.3 2105.7v33M1410.1 2085.4v33M1422.2 2085.4v33M1417.9 2064.8v33M1429.9 2064.8v33M1425.4 2044.0v33M1437.4 2044.0v33M1431.9 2022.9v33M1444.0 2022.9v33M1438.0 2001.5v33M1450.1 2001.5v33M1443.5 1979.9v33M1455.5 1979.9v33M1448.9 1958.1v33M1460.9 1958.1v33M1454.3 1936.0v33M1466.4 1936.0v33M1461.3 1913.6v33M1473.4 1913.6v33M1468.0 1890.9v33M1480.1 1890.9v33M1473.4 1868.0v33M1485.5 1868.0v33M1478.8 1844.8v33M1490.9 1844.8v33M1484.3 1821.3v33M1496.4 1821.3v33M1489.5 1797.6v33M1501.5 1797.6v33M1486.8 1796.7v33M1504.6 1796.7v33M1491.6 1772.6v33M1509.3 1772.6v33M1496.4 1748.3v33M1514.2 1748.3v33M1501.3 1723.7v33M1519.0 1723.7v33M1506.2 1698.7v33M1524.0 1698.7v33M1511.2 1673.5v33M1529.0 1673.5v33M1516.3 1648.0v33M1534.1 1648.0v33M1521.4 1622.1v33M1539.2 1622.1v33M1526.6 1596.0v33M1544.4 1596.0v33M1531.6 1569.5v33M1549.4 1569.5v33M1536.6 1542.8v33M1554.4 1542.8v33M1541.6 1515.7v33M1559.4 1515.7v33M1546.7 1488.2v33M1564.4 1488.2v33M1551.8 1460.5v33M1569.6 1460.5v33M1557.0 1432.4v33M1574.8 1432.4v33M1562.2 1404.0v33M1580.0 1404.0v33M1567.6 1375.2v33M1585.3 1375.2v33M1572.9 1346.1v33M1590.7 1346.1v33M1578.3 1316.6v33M1596.1 1316.6v33M1583.8 1286.8v33M1601.5 1286.8v33M1589.3 1256.7v33M1607.1 1256.7v33M1594.9 1226.1v33M1612.7 1226.1v33M1600.6 1195.2v33M1618.3 1195.2v33M1606.3 1164.0v33M1624.1 1164.0v33M1612.0 1132.3v33M1629.8 1132.3v33M1617.0 1100.3v33M1634.8 1100.3v33M1622.1 1067.9v33M1639.9 1067.9v33M1627.2 1035.1v33M1645.0 1035.1v33M1632.4 1001.9v33M1650.2 1001.9v33M1637.7 968.3v33M1655.4 968.3v33M1643.0 934.3v33M1660.7 934.3v33M1648.5 899.9v33M1666.2 899.9v33M1654.3 865.1v33M1672.0 865.1v33M1660.1 829.9v33M1677.9 829.9v33M1666.1 794.2v33M1683.9 794.2v33M1672.1 758.1v33M1689.9 758.1v33M1678.2 721.6v33M1696.0 721.6v33M1684.3 684.7v33M1702.1 684.7v33M1690.2 647.3v33M1708.0 647.3v33M1696.2 609.4v33M1713.9 609.4v33M1702.2 571.1v33M1720.0 571.1v33M1708.3 532.4v33M1726.1 532.4v33M1714.5 493.1v33M1732.2 493.1v33M1720.7 453.4v33M1738.5 453.4v33M1727.0 413.3v33M1744.8 413.3v33M1733.4 372.6v33M1751.2 372.6v33M1739.9 331.5v33M1757.7 331.5v33M1746.5 289.8v33M1764.2 289.8v33M1753.1 247.7v33M1770.9 247.7v33M1759.8 205.1v33M1777.6 205.1v33M1766.6 161.9v33M1784.3 161.9v33M1773.4 118.3v33M1791.1 118.3v33M1780.3 74.1v33M1798.1 74.1v33M1787.3 29.3v33M1805.1 29.3v33M1794.2 -15.9v33M1812.0 -15.9v33M1801.0 -61.7v33M1818.8 -61.7v33M1807.9 -108.1v33M1825.7 -108.1v33M1814.9 -155.0v33M1832.7 -155.0v33M1822.0 -202.5v33M1839.7 -202.5v33M1829.4 -250.5v33M1847.2 -250.5v33M1837.3 -299.1v33M1855.0 -299.1v33M1845.2 -348.3v33M1863.0 -348.3v33M1853.2 -398.1v33M1871.0 -398.1v33M1861.3 -448.5v33M1879.1 -448.5v33M1869.5 -499.5v33M1887.3 -499.5v33M1877.7 -551.1v33M1895.5 -551.1v33M1886.1 -603.3v33M1903.8 -603.3v33M1894.5 -656.2v33M1912.3 -656.2v33M1903.1 -709.7v33M1920.9 -709.7v33M1911.9 -763.8v33M1929.7 -763.8v33M1920.9 -818.6v33M1938.6 -818.6v33M1929.9 -874.0v33M1947.6 -874.0v33M1938.5 -930.1v33M1956.2 -930.1v33M1946.8 -986.9v33M1964.5 -986.9v33M1955.2 -1044.3v33M1972.9 -1044.3v33M1963.7 -1102.5v33M1981.4 -1102.5v33M1973.2 -1161.3v33M1991.0 -1161.3v33M1983.4 -1220.9v33M2001.2 -1220.9v33M1993.8 -1281.1v33M2011.5 -1281.1v33M2004.2 -1342.1v33M2022.0 -1342.1v33M2014.3 -1403.8v33M2032.0 -1403.8v33M2024.3 -1466.3v33M2042.1 -1466.3v33M2034.5 -1529.5v33M2052.3 -1529.5v33M2045.3 -1593.5v33M2063.1 -1593.5v33M2057.8 -1658.2v33M2075.5 -1658.2v33M2069.1 -1723.7v33M2086.9 -1723.7v33M2079.7 -1790.0v33M2097.5 -1790.0v33M2090.5 -1857.1v33M2108.3 -1857.1v33M2101.4 -1925.0v33M2119.2 -1925.0v33M2112.4 -1993.7v33M2130.2 -1993.7v33M2123.6 -2063.2v33M2141.4 -2063.2v33M2134.9 -2133.6v33M2152.7 -2133.6v33M2146.3 -2204.8v33M2164.1 -2204.8v33M2157.9 -2276.9v33M2175.6 -2276.9v33M2169.6 -2349.8v33M2187.4 -2349.8v33M2181.4 -2423.6v33M2199.2 -2423.6v33M2189.2 -2498.3v33M2207.0 -2498.3v33M2189.2 -2573.9v33M2207.0 -2573.9v33M-2072.8 2841.9h33M-2056.2 2825.4v33M-1483.0 2838.8h33M-1466.5 2822.3v33M-1042.4 2825.2h33M-1025.9 2808.7v33M486.8 2475.1h33M503.3 2458.6v33M599.8 2457.9h33M616.3 2441.4v33M735.2 2440.7h33M751.7 2424.2v33M886.2 2423.4h33M902.7 2406.9v33M1005.2 2406.2h33M1021.7 2389.7v33M1089.1 2386.3h33M1105.6 2369.8v33M1169.4 2370.7h33M1185.9 2354.2v33M1200.3 2351.8h33M1216.8 2335.3v33M1232.6 2332.8h33M1249.1 2316.3v33M1261.7 2313.9h33M1278.2 2297.4v33M1280.9 2295.0h33M1297.4 2278.5v33M-869.0 2807.5h33M-852.5 2791.0v33M-757.6 2790.3h33M-741.1 2773.8v33M-669.9 2773.2h33M-653.4 2756.7v33M-601.6 2756.0h33M-585.1 2739.5v33M-542.1 2738.8h33M-525.6 2722.3v33M-490.0 2721.6h33M-473.5 2705.1v33M-437.9 2704.4h33M-421.4 2687.9v33M-398.9 2687.3h33M-382.4 2670.8v33M-364.1 2670.1h33M-347.6 2653.6v33M-329.4 2652.9h33M-312.9 2636.4v33M-294.6 2635.7h33M-278.1 2619.2v33M-256.5 2618.5h33M-240.0 2602.0v33M-215.7 2601.4h33M-199.2 2584.9v33M-175.0 2584.2h33M-158.5 2567.7v33M-134.2 2567.0h33M-117.7 2550.5v33M-34.3 2549.8h33M-17.8 2533.3v33M98.5 2532.6h33M115.0 2516.1v33M299.4 2515.5h33M315.9 2499.0v33M366.9 2498.3h33M383.4 2481.8v33M1298.1 2276.5h33M1314.6 2260.0v33M1314.9 2258.0h33M1331.4 2241.5v33M1327.4 2239.3h33M1343.9 2222.8v33M1340.0 2220.4h33M1356.5 2203.9v33M1350.1 2201.2h33M1366.6 2184.7v33M1359.8 2181.8h33M1376.3 2165.3v33M1369.7 2162.2h33M1386.2 2145.7v33M1379.7 2142.3h33M1396.2 2125.8v33M1389.7 2122.2h33M1406.2 2105.7v33M1399.7 2101.9h33M1416.2 2085.4v33M1407.4 2081.3h33M1423.9 2064.8v33M1414.9 2060.5h33M1431.4 2044.0v33M1421.4 2039.4h33M1437.9 2022.9v33M1427.5 2018.0h33M1444.0 2001.5v33M1433.0 1996.4h33M1449.5 1979.9v33M1438.4 1974.6h33M1454.9 1958.1v33M1443.8 1952.5h33M1460.3 1936.0v33M1450.9 1930.1h33M1467.4 1913.6v33M1457.5 1907.4h33M1474.0 1890.9v33M1462.9 1884.5h33M1479.4 1868.0v33M1468.3 1861.3h33M1484.8 1844.8v33M1473.8 1837.8h33M1490.3 1821.3v33M1479.0 1814.1h33M1495.5 1797.6v33M1479.2 1813.2h33M1495.7 1796.7v33M1483.9 1789.1h33M1500.4 1772.6v33M1488.8 1764.8h33M1505.3 1748.3v33M1493.7 1740.2h33M1510.2 1723.7v33M1498.6 1715.2h33M1515.1 1698.7v33M1503.6 1690.0h33M1520.1 1673.5v33M1508.7 1664.5h33M1525.2 1648.0v33M1513.8 1638.6h33M1530.3 1622.1v33M1519.0 1612.5h33M1535.5 1596.0v33M1524.0 1586.0h33M1540.5 1569.5v33M1529.0 1559.3h33M1545.5 1542.8v33M1534.0 1532.2h33M1550.5 1515.7v33M1539.1 1504.7h33M1555.6 1488.2v33M1544.2 1477.0h33M1560.7 1460.5v33M1549.4 1448.9h33M1565.9 1432.4v33M1554.6 1420.5h33M1571.1 1404.0v33M1559.9 1391.7h33M1576.4 1375.2v33M1565.3 1362.6h33M1581.8 1346.1v33M1570.7 1333.1h33M1587.2 1316.6v33M1576.2 1303.3h33M1592.7 1286.8v33M1581.7 1273.2h33M1598.2 1256.7v33M1587.3 1242.6h33M1603.8 1226.1v33M1593.0 1211.7h33M1609.5 1195.2v33M1598.7 1180.5h33M1615.2 1164.0v33M1604.4 1148.8h33M1620.9 1132.3v33M1609.4 1116.8h33M1625.9 1100.3v33M1614.5 1084.4h33M1631.0 1067.9v33M1619.6 1051.6h33M1636.1 1035.1v33M1624.8 1018.4h33M1641.3 1001.9v33M1630.0 984.8h33M1646.5 968.3v33M1635.4 950.8h33M1651.9 934.3v33M1640.9 916.4h33M1657.4 899.9v33M1646.7 881.6h33M1663.2 865.1v33M1652.5 846.4h33M1669.0 829.9v33M1658.5 810.7h33M1675.0 794.2v33M1664.5 774.6h33M1681.0 758.1v33M1670.6 738.1h33M1687.1 721.6v33M1676.7 701.2h33M1693.2 684.7v33M1682.6 663.8h33M1699.1 647.3v33M1688.5 625.9h33M1705.0 609.4v33M1694.6 587.6h33M1711.1 571.1v33M1700.7 548.9h33M1717.2 532.4v33M1706.8 509.6h33M1723.3 493.1v33M1713.1 469.9h33M1729.6 453.4v33M1719.4 429.8h33M1735.9 413.3v33M1725.8 389.1h33M1742.3 372.6v33M1732.3 348.0h33M1748.8 331.5v33M1738.9 306.3h33M1755.4 289.8v33M1745.5 264.2h33M1762.0 247.7v33M1752.2 221.6h33M1768.7 205.1v33M1758.9 178.4h33M1775.4 161.9v33M1765.8 134.8h33M1782.3 118.3v33M1772.7 90.6h33M1789.2 74.1v33M1779.7 45.8h33M1796.2 29.3v33M1786.6 0.6h33M1803.1 -15.9v33M1793.4 -45.2h33M1809.9 -61.7v33M1800.3 -91.6h33M1816.8 -108.1v33M1807.3 -138.5h33M1823.8 -155.0v33M1814.3 -186.0h33M1830.8 -202.5v33M1821.8 -234.0h33M1838.3 -250.5v33M1829.7 -282.6h33M1846.2 -299.1v33M1837.6 -331.8h33M1854.1 -348.3v33M1845.6 -381.6h33M1862.1 -398.1v33M1853.7 -432.0h33M1870.2 -448.5v33M1861.9 -483.0h33M1878.4 -499.5v33M1870.1 -534.6h33M1886.6 -551.1v33M1878.4 -586.8h33M1894.9 -603.3v33M1886.9 -639.7h33M1903.4 -656.2v33M1895.5 -693.2h33M1912.0 -709.7v33M1904.3 -747.3h33M1920.8 -763.8v33M1913.2 -802.1h33M1929.7 -818.6v33M1922.3 -857.5h33M1938.8 -874.0v33M1930.9 -913.6h33M1947.4 -930.1v33M1939.2 -970.4h33M1955.7 -986.9v33M1947.6 -1027.8h33M1964.1 -1044.3v33M1956.1 -1086.0h33M1972.6 -1102.5v33M1965.6 -1144.8h33M1982.1 -1161.3v33M1975.8 -1204.4h33M1992.3 -1220.9v33M1986.1 -1264.6h33M2002.6 -1281.1v33M1996.6 -1325.6h33M2013.1 -1342.1v33M2006.6 -1387.3h33M2023.1 -1403.8v33M2016.7 -1449.8h33M2033.2 -1466.3v33M2026.9 -1513.0h33M2043.4 -1529.5v33M2037.7 -1577.0h33M2054.2 -1593.5v33M2050.2 -1641.7h33M2066.7 -1658.2v33M2061.5 -1707.2h33M2078.0 -1723.7v33M2072.1 -1773.5h33M2088.6 -1790.0v33M2082.9 -1840.6h33M2099.4 -1857.1v33M2093.8 -1908.5h33M2110.3 -1925.0v33M2104.8 -1977.2h33M2121.3 -1993.7v33M2116.0 -2046.7h33M2132.5 -2063.2v33M2127.3 -2117.1h33M2143.8 -2133.6v33M2138.7 -2188.3h33M2155.2 -2204.8v33M2150.3 -2260.4h33M2166.8 -2276.9v33M2162.0 -2333.3h33M2178.5 -2349.8v33M2173.8 -2407.1h33M2190.3 -2423.6v33M2181.6 -2481.8h33M2198.1 -2498.3v33M2181.6 -2557.4h33M2198.1 -2573.9v33" stroke="#ff7f0e" stroke-width="6" fill="none"/>
<polyline points="-2589.2,2854.4 -1878.6,2849.2 -1345.7,2833.6 -1005.3,2815.9 -852.5,2802.3 -707.2,2786.7 -554.0,2748.2 -408.7,2700.3 -263.4,2628.4 -117.7,2567.0 27.6,2542.0 173.3,2526.4 318.6,2515.3 395.3,2495.2 472.4,2470.2 501.9,2465.2 528.9,2460.3 555.9,2453.0 582.9,2449.5 612.4,2448.0 697.3,2445.6 725.7,2444.6 752.8,2442.1 779.8,2438.2 806.8,2433.3 834.8,2427.4 862.2,2425.9 918.3,2424.9 946.7,2423.4 975.5,2422.0 998.6,2415.0 1024.9,2406.2 1053.3,2401.5 1081.8,2399.1 1138.6,2396.7 1167.0,2392.0 1183.7,2380.2 1205.0,2366.1 1221.4,2347.0 1247.7,2335.2 1273.6,2332.8 1302.0,2328.1 1328.0,2316.2 1354.3,2302.0 1358.9,2276.0 1373.1,2254.6 1386.3,2230.0 1387.3,2202.6 1388.0,2174.2 1404.0,2151.9 1419.6,2131.5 1425.3,2105.4 1432.4,2077.1 1439.5,2051.0 1446.7,2022.6 1451.3,1994.1 1455.9,1966.8 1463.0,1937.4 1470.1,1911.3 1484.7,1825.7 1529.1,1601.8 1570.7,1376.9 1611.9,1152.0 1647.0,927.1 1684.3,703.3 1720.2,475.2 1756.5,245.1 1791.6,20.2 1825.4,-206.7 1861.6,-431.6 1897.9,-658.6 1934.1,-881.4 1967.2,-1107.4 2006.3,-1335.4 2042.5,-1560.3 2063.1,-1667.6 2069.5,-1706.1" fill="none" stroke="#000" stroke-width="11.5" stroke-dasharray="11.5 17"/>
</g>
<line x1="608.5" y1="2512.5" x2="608.5" y2="2531.5" class="tk"/>
<text x="608.0" y="2606.3" font-size="80" text-anchor="middle" textLength="102" lengthAdjust="spacingAndGlyphs" class="tl">0.9</text>
<line x1="963.8" y1="2512.5" x2="963.8" y2="2531.5" class="tk"/>
<text x="963.3" y="2606.3" font-size="80" text-anchor="middle" textLength="102" lengthAdjust="spacingAndGlyphs" class="tl">1.0</text>
<line x1="1319.1" y1="2512.5" x2="1319.1" y2="2531.5" class="tk"/>
<text x="1318.6" y="2606.3" font-size="80" text-anchor="middle" textLength="102" lengthAdjust="spacingAndGlyphs" class="tl">1.1</text>
<line x1="446.7" y1="2437.9" x2="465.7" y2="2437.9" class="tk"/>
<text x="429.5" y="2465.4" font-size="80" text-anchor="end" textLength="102" lengthAdjust="spacingAndGlyphs" class="tl">0.4</text>
<line x1="446.7" y1="2229.7" x2="465.7" y2="2229.7" class="tk"/>
<text x="429.5" y="2257.2" font-size="80" text-anchor="end" textLength="102" lengthAdjust="spacingAndGlyphs" class="tl">0.6</text>
<line x1="446.7" y1="2021.4" x2="465.7" y2="2021.4" class="tk"/>
<text x="429.5" y="2048.9" font-size="80" text-anchor="end" textLength="102" lengthAdjust="spacingAndGlyphs" class="tl">0.8</text>
<rect x="465.7" y="1902.0" width="1031.8" height="610.5" fill="none" stroke="#000" stroke-width="4.8"/>
<rect x="569.1" y="1702.1" width="708.9" height="383.4" rx="14" ry="14" fill="#fff" stroke="#c9c9c9" stroke-width="5.5"/>
<g stroke="#1f77b4"><line x1="680.5" y1="1721.5" x2="680.5" y2="1801.5" stroke-width="11"/><line x1="664.0" y1="1721.5" x2="697.0" y2="1721.5" stroke-width="6"/><line x1="664.0" y1="1801.5" x2="697.0" y2="1801.5" stroke-width="6"/><line x1="664.0" y1="1761.5" x2="697.0" y2="1761.5" stroke-width="6"/></g>
<g stroke="#ff7f0e"><line x1="640.3" y1="1879.5" x2="720.3" y2="1879.5" stroke-width="11"/><line x1="640.3" y1="1863.0" x2="640.3" y2="1896.0" stroke-width="6"/><line x1="720.3" y1="1863.0" x2="720.3" y2="1896.0" stroke-width="6"/><line x1="680.3" y1="1863.0" x2="680.3" y2="1896.0" stroke-width="6"/></g>
<line x1="600" y1="2003.0" x2="753.5" y2="2003.0" stroke="#000" stroke-width="11.5" stroke-dasharray="11.8 16.4"/>
<text x="823.5" y="1789.4" font-size="80" textLength="328.5" lengthAdjust="spacingAndGlyphs" class="lab">Isometric</text>
<text x="823.5" y="1907.4" font-size="80" textLength="417" lengthAdjust="spacingAndGlyphs" class="lab">Isotensional</text>
<text x="825" y="2022.3" font-size="80" textLength="62" lengthAdjust="spacingAndGlyphs" class="lab">−</text>
<text x="893" y="2016.3" font-size="80" font-style="italic" class="lab">x</text>
<text x="936" y="2030.5" font-size="57" textLength="66" lengthAdjust="spacingAndGlyphs" class="lab">LF</text>
<text x="1010" y="2018.3" font-size="86" class="lab">(</text>
<text x="1038" y="2016.3" font-size="80" font-style="italic" class="dvf" textLength="32" lengthAdjust="spacingAndGlyphs">f</text>
<text x="1086" y="2018.3" font-size="86" class="lab">)</text>
<path d="M1437.6 4373.1H1831.2V4211.8H1437.6Z" fill="#e6f4fd" stroke="#000" stroke-width="5.6" stroke-dasharray="20 8.3" stroke-dashoffset="7.3"/>
<g clip-path="url(#cmc)">
<path d="M348.7 4461.9V4464.4M361.0 4461.5V4463.9M373.4 4461.0V4463.5M385.7 4460.5V4463.0M398.1 4460.1V4462.6M410.4 4459.6V4462.1M422.8 4459.2V4461.6M435.1 4458.7V4461.2M447.5 4458.2V4460.7M459.8 4457.8V4460.3M472.2 4457.3V4459.8M484.5 4456.9V4459.3M496.9 4456.6V4459.1M509.2 4456.4V4458.8M521.6 4456.1V4458.6M533.9 4455.9V4458.4M546.3 4455.7V4458.1M558.6 4455.4V4457.9M571.0 4455.2V4457.7M583.3 4455.0V4457.4M595.7 4454.7V4457.2M608.0 4454.5V4457.0M620.4 4454.3V4456.7M632.7 4454.0V4456.5M645.1 4453.9V4456.3M657.4 4453.7V4456.2M669.8 4453.6V4456.0M682.1 4453.4V4455.9M694.5 4453.3V4455.7M706.8 4453.1V4455.6M719.2 4453.0V4455.4M731.5 4452.8V4455.3M743.9 4452.6V4455.1M756.2 4452.2V4454.7M768.6 4451.7V4454.2M780.9 4451.2V4453.7M793.3 4450.8V4453.2M805.6 4450.3V4452.8M818.0 4449.8V4452.3M830.3 4449.3V4451.8M842.7 4448.8V4451.3M855.0 4448.4V4450.8M867.4 4447.9V4450.3M879.7 4447.3V4449.7M892.1 4446.7V4449.1M904.4 4446.1V4448.5M916.8 4445.5V4447.9M929.1 4444.3V4446.8M941.5 4442.8V4445.3M953.8 4441.3V4443.8M966.1 4439.8V4442.3M978.5 4438.3V4440.8M990.8 4436.0V4438.5M1003.2 4433.6V4436.1M1015.5 4431.3V4433.8M1027.9 4429.0V4431.4M1040.2 4426.1V4428.6M1052.6 4423.0V4425.4M1064.9 4419.8V4422.3M1077.3 4416.7V4419.2M1089.6 4413.6V4416.0M1102.0 4410.3V4412.8M1114.3 4407.1V4409.6M1126.7 4403.9V4406.3M1139.0 4400.6V4403.1M1151.4 4398.4V4400.9M1163.7 4396.5V4399.0M1176.1 4394.7V4397.1M1188.4 4392.8V4395.3M1200.8 4391.0V4393.5M1213.1 4389.4V4391.8M1225.5 4387.7V4390.2M1237.8 4386.1V4388.6M1250.2 4384.5V4387.0M1262.5 4382.9V4385.4M1274.9 4381.4V4383.9M1287.2 4379.9V4382.4M1299.6 4378.4V4380.8M1311.9 4376.9V4379.4M1324.3 4375.6V4378.1M1336.6 4374.4V4376.9M1349.0 4373.1V4375.6M1361.3 4371.8V4374.3M1373.7 4370.6V4373.1M1386.0 4369.4V4371.9M1398.4 4368.2V4370.7M1410.7 4367.0V4369.5M1423.1 4365.9V4368.4M1435.4 4365.6V4368.1M1447.8 4364.5V4366.9M1460.1 4363.2V4365.6M1472.5 4361.6V4364.1M1484.8 4360.3V4362.8M1497.2 4359.1V4361.5M1509.5 4357.6V4360.1M1521.9 4356.2V4358.7M1534.2 4354.9V4357.3M1546.6 4353.8V4356.3M1558.9 4352.4V4354.9M1571.3 4350.8V4353.3M1583.6 4349.6V4352.0M1596.0 4348.0V4350.5M1608.3 4346.4V4348.9M1620.7 4344.7V4347.2M1633.0 4342.7V4345.2M1645.4 4340.8V4343.3M1657.7 4338.8V4341.3M1670.1 4336.2V4338.7M1682.4 4333.6V4336.1M1694.8 4330.9V4333.4M1707.1 4327.8V4330.3M1719.5 4324.5V4326.9M1731.8 4318.9V4321.4M1744.2 4313.1V4315.5M1756.5 4306.9V4309.4M1768.9 4296.9V4299.3M1781.2 4286.3V4288.8M1793.6 4270.2V4272.7M1805.9 4244.3V4246.8M1818.3 4215.5V4217.9M1830.6 4173.5V4176.0M1843.0 4132.0V4134.5M1855.3 4089.1V4091.6M1867.7 4045.2V4047.7M1880.0 3994.9V3997.4M1892.4 3946.7V3949.2M1904.7 3893.7V3896.2M1917.1 3841.4V3843.9M1929.4 3787.6V3790.1M1941.8 3732.4V3734.9M1954.1 3679.5V3681.9M1966.5 3623.1V3625.6M1978.8 3572.2V3574.7M1991.2 3517.9V3520.4M2003.5 3465.1V3467.6M2015.9 3411.9V3414.4M2028.2 3361.6V3364.0M2040.6 3311.0V3313.5M2052.9 3260.5V3263.0M2065.3 3209.9V3212.4M2077.6 3159.4V3161.9" stroke="#1f77b4" stroke-width="11" fill="none"/>
<path d="M332.2 4461.9h33M332.2 4464.4h33M344.5 4461.5h33M344.5 4463.9h33M356.9 4461.0h33M356.9 4463.5h33M369.2 4460.5h33M369.2 4463.0h33M381.6 4460.1h33M381.6 4462.6h33M393.9 4459.6h33M393.9 4462.1h33M406.3 4459.2h33M406.3 4461.6h33M418.6 4458.7h33M418.6 4461.2h33M431.0 4458.2h33M431.0 4460.7h33M443.3 4457.8h33M443.3 4460.3h33M455.7 4457.3h33M455.7 4459.8h33M468.0 4456.9h33M468.0 4459.3h33M480.4 4456.6h33M480.4 4459.1h33M492.7 4456.4h33M492.7 4458.8h33M505.1 4456.1h33M505.1 4458.6h33M517.4 4455.9h33M517.4 4458.4h33M529.8 4455.7h33M529.8 4458.1h33M542.1 4455.4h33M542.1 4457.9h33M554.5 4455.2h33M554.5 4457.7h33M566.8 4455.0h33M566.8 4457.4h33M579.2 4454.7h33M579.2 4457.2h33M591.5 4454.5h33M591.5 4457.0h33M603.9 4454.3h33M603.9 4456.7h33M616.2 4454.0h33M616.2 4456.5h33M628.6 4453.9h33M628.6 4456.3h33M640.9 4453.7h33M640.9 4456.2h33M653.3 4453.6h33M653.3 4456.0h33M665.6 4453.4h33M665.6 4455.9h33M678.0 4453.3h33M678.0 4455.7h33M690.3 4453.1h33M690.3 4455.6h33M702.7 4453.0h33M702.7 4455.4h33M715.0 4452.8h33M715.0 4455.3h33M727.4 4452.6h33M727.4 4455.1h33M739.7 4452.2h33M739.7 4454.7h33M752.1 4451.7h33M752.1 4454.2h33M764.4 4451.2h33M764.4 4453.7h33M776.8 4450.8h33M776.8 4453.2h33M789.1 4450.3h33M789.1 4452.8h33M801.5 4449.8h33M801.5 4452.3h33M813.8 4449.3h33M813.8 4451.8h33M826.2 4448.8h33M826.2 4451.3h33M838.5 4448.4h33M838.5 4450.8h33M850.9 4447.9h33M850.9 4450.3h33M863.2 4447.3h33M863.2 4449.7h33M875.6 4446.7h33M875.6 4449.1h33M887.9 4446.1h33M887.9 4448.5h33M900.3 4445.5h33M900.3 4447.9h33M912.6 4444.3h33M912.6 4446.8h33M925.0 4442.8h33M925.0 4445.3h33M937.3 4441.3h33M937.3 4443.8h33M949.6 4439.8h33M949.6 4442.3h33M962.0 4438.3h33M962.0 4440.8h33M974.3 4436.0h33M974.3 4438.5h33M986.7 4433.6h33M986.7 4436.1h33M999.0 4431.3h33M999.0 4433.8h33M1011.4 4429.0h33M1011.4 4431.4h33M1023.7 4426.1h33M1023.7 4428.6h33M1036.1 4423.0h33M1036.1 4425.4h33M1048.4 4419.8h33M1048.4 4422.3h33M1060.8 4416.7h33M1060.8 4419.2h33M1073.1 4413.6h33M1073.1 4416.0h33M1085.5 4410.3h33M1085.5 4412.8h33M1097.8 4407.1h33M1097.8 4409.6h33M1110.2 4403.9h33M1110.2 4406.3h33M1122.5 4400.6h33M1122.5 4403.1h33M1134.9 4398.4h33M1134.9 4400.9h33M1147.2 4396.5h33M1147.2 4399.0h33M1159.6 4394.7h33M1159.6 4397.1h33M1171.9 4392.8h33M1171.9 4395.3h33M1184.3 4391.0h33M1184.3 4393.5h33M1196.6 4389.4h33M1196.6 4391.8h33M1209.0 4387.7h33M1209.0 4390.2h33M1221.3 4386.1h33M1221.3 4388.6h33M1233.7 4384.5h33M1233.7 4387.0h33M1246.0 4382.9h33M1246.0 4385.4h33M1258.4 4381.4h33M1258.4 4383.9h33M1270.7 4379.9h33M1270.7 4382.4h33M1283.1 4378.4h33M1283.1 4380.8h33M1295.4 4376.9h33M1295.4 4379.4h33M1307.8 4375.6h33M1307.8 4378.1h33M1320.1 4374.4h33M1320.1 4376.9h33M1332.5 4373.1h33M1332.5 4375.6h33M1344.8 4371.8h33M1344.8 4374.3h33M1357.2 4370.6h33M1357.2 4373.1h33M1369.5 4369.4h33M1369.5 4371.9h33M1381.9 4368.2h33M1381.9 4370.7h33M1394.2 4367.0h33M1394.2 4369.5h33M1406.6 4365.9h33M1406.6 4368.4h33M1418.9 4365.6h33M1418.9 4368.1h33M1431.3 4364.5h33M1431.3 4366.9h33M1443.6 4363.2h33M1443.6 4365.6h33M1456.0 4361.6h33M1456.0 4364.1h33M1468.3 4360.3h33M1468.3 4362.8h33M1480.7 4359.1h33M1480.7 4361.5h33M1493.0 4357.6h33M1493.0 4360.1h33M1505.4 4356.2h33M1505.4 4358.7h33M1517.7 4354.9h33M1517.7 4357.3h33M1530.1 4353.8h33M1530.1 4356.3h33M1542.4 4352.4h33M1542.4 4354.9h33M1554.8 4350.8h33M1554.8 4353.3h33M1567.1 4349.6h33M1567.1 4352.0h33M1579.5 4348.0h33M1579.5 4350.5h33M1591.8 4346.4h33M1591.8 4348.9h33M1604.2 4344.7h33M1604.2 4347.2h33M1616.5 4342.7h33M1616.5 4345.2h33M1628.9 4340.8h33M1628.9 4343.3h33M1641.2 4338.8h33M1641.2 4341.3h33M1653.6 4336.2h33M1653.6 4338.7h33M1665.9 4333.6h33M1665.9 4336.1h33M1678.3 4330.9h33M1678.3 4333.4h33M1690.6 4327.8h33M1690.6 4330.3h33M1703.0 4324.5h33M1703.0 4326.9h33M1715.3 4318.9h33M1715.3 4321.4h33M1727.7 4313.1h33M1727.7 4315.5h33M1740.0 4306.9h33M1740.0 4309.4h33M1752.4 4296.9h33M1752.4 4299.3h33M1764.7 4286.3h33M1764.7 4288.8h33M1777.1 4270.2h33M1777.1 4272.7h33M1789.4 4244.3h33M1789.4 4246.8h33M1801.8 4215.5h33M1801.8 4217.9h33M1814.1 4173.5h33M1814.1 4176.0h33M1826.5 4132.0h33M1826.5 4134.5h33M1838.8 4089.1h33M1838.8 4091.6h33M1851.2 4045.2h33M1851.2 4047.7h33M1863.5 3994.9h33M1863.5 3997.4h33M1875.9 3946.7h33M1875.9 3949.2h33M1888.2 3893.7h33M1888.2 3896.2h33M1900.6 3841.4h33M1900.6 3843.9h33M1912.9 3787.6h33M1912.9 3790.1h33M1925.3 3732.4h33M1925.3 3734.9h33M1937.6 3679.5h33M1937.6 3681.9h33M1950.0 3623.1h33M1950.0 3625.6h33M1962.3 3572.2h33M1962.3 3574.7h33M1974.7 3517.9h33M1974.7 3520.4h33M1987.0 3465.1h33M1987.0 3467.6h33M1999.4 3411.9h33M1999.4 3414.4h33M2011.7 3361.6h33M2011.7 3364.0h33M2024.1 3311.0h33M2024.1 3313.5h33M2036.4 3260.5h33M2036.4 3263.0h33M2048.8 3209.9h33M2048.8 3212.4h33M2061.1 3159.4h33M2061.1 3161.9h33M332.2 4463.1h33M348.7 4446.6v33M344.5 4462.7h33M361.0 4446.2v33M356.9 4462.2h33M373.4 4445.7v33M369.2 4461.8h33M385.7 4445.3v33M381.6 4461.3h33M398.1 4444.8v33M393.9 4460.9h33M410.4 4444.4v33M406.3 4460.4h33M422.8 4443.9v33M418.6 4459.9h33M435.1 4443.4v33M431.0 4459.5h33M447.5 4443.0v33M443.3 4459.0h33M459.8 4442.5v33M455.7 4458.6h33M472.2 4442.1v33M468.0 4458.1h33M484.5 4441.6v33M480.4 4457.8h33M496.9 4441.3v33M492.7 4457.6h33M509.2 4441.1v33M505.1 4457.4h33M521.6 4440.9v33M517.4 4457.1h33M533.9 4440.6v33M529.8 4456.9h33M546.3 4440.4v33M542.1 4456.7h33M558.6 4440.2v33M554.5 4456.4h33M571.0 4439.9v33M566.8 4456.2h33M583.3 4439.7v33M579.2 4456.0h33M595.7 4439.5v33M591.5 4455.7h33M608.0 4439.2v33M603.9 4455.5h33M620.4 4439.0v33M616.2 4455.3h33M632.7 4438.8v33M628.6 4455.1h33M645.1 4438.6v33M640.9 4455.0h33M657.4 4438.5v33M653.3 4454.8h33M669.8 4438.3v33M665.6 4454.7h33M682.1 4438.2v33M678.0 4454.5h33M694.5 4438.0v33M690.3 4454.3h33M706.8 4437.8v33M702.7 4454.2h33M719.2 4437.7v33M715.0 4454.0h33M731.5 4437.5v33M727.4 4453.9h33M743.9 4437.4v33M739.7 4453.4h33M756.2 4436.9v33M752.1 4453.0h33M768.6 4436.5v33M764.4 4452.5h33M780.9 4436.0v33M776.8 4452.0h33M793.3 4435.5v33M789.1 4451.5h33M805.6 4435.0v33M801.5 4451.0h33M818.0 4434.5v33M813.8 4450.6h33M830.3 4434.1v33M826.2 4450.1h33M842.7 4433.6v33M838.5 4449.6h33M855.0 4433.1v33M850.9 4449.1h33M867.4 4432.6v33M863.2 4448.5h33M879.7 4432.0v33M875.6 4447.9h33M892.1 4431.4v33M887.9 4447.3h33M904.4 4430.8v33M900.3 4446.7h33M916.8 4430.2v33M912.6 4445.6h33M929.1 4429.1v33M925.0 4444.1h33M941.5 4427.6v33M937.3 4442.6h33M953.8 4426.1v33M949.6 4441.1h33M966.1 4424.6v33M962.0 4439.6h33M978.5 4423.1v33M974.3 4437.2h33M990.8 4420.7v33M986.7 4434.9h33M1003.2 4418.4v33M999.0 4432.5h33M1015.5 4416.0v33M1011.4 4430.2h33M1027.9 4413.7v33M1023.7 4427.3h33M1040.2 4410.8v33M1036.1 4424.2h33M1052.6 4407.7v33M1048.4 4421.1h33M1064.9 4404.6v33M1060.8 4417.9h33M1077.3 4401.4v33M1073.1 4414.8h33M1089.6 4398.3v33M1085.5 4411.6h33M1102.0 4395.1v33M1097.8 4408.3h33M1114.3 4391.8v33M1110.2 4405.1h33M1126.7 4388.6v33M1122.5 4401.9h33M1139.0 4385.4v33M1134.9 4399.6h33M1151.4 4383.1v33M1147.2 4397.8h33M1163.7 4381.3v33M1159.6 4395.9h33M1176.1 4379.4v33M1171.9 4394.0h33M1188.4 4377.5v33M1184.3 4392.2h33M1200.8 4375.7v33M1196.6 4390.6h33M1213.1 4374.1v33M1209.0 4389.0h33M1225.5 4372.5v33M1221.3 4387.4h33M1237.8 4370.9v33M1233.7 4385.7h33M1250.2 4369.2v33M1246.0 4384.2h33M1262.5 4367.7v33M1258.4 4382.6h33M1274.9 4366.1v33M1270.7 4381.1h33M1287.2 4364.6v33M1283.1 4379.6h33M1299.6 4363.1v33M1295.4 4378.1h33M1311.9 4361.6v33M1307.8 4376.9h33M1324.3 4360.4v33M1320.1 4375.6h33M1336.6 4359.1v33M1332.5 4374.3h33M1349.0 4357.8v33M1344.8 4373.1h33M1361.3 4356.6v33M1357.2 4371.9h33M1373.7 4355.4v33M1369.5 4370.7h33M1386.0 4354.2v33M1381.9 4369.5h33M1398.4 4353.0v33M1394.2 4368.2h33M1410.7 4351.7v33M1406.6 4367.1h33M1423.1 4350.6v33M1418.9 4366.9h33M1435.4 4350.4v33M1431.3 4365.7h33M1447.8 4349.2v33M1443.6 4364.4h33M1460.1 4347.9v33M1456.0 4362.8h33M1472.5 4346.3v33M1468.3 4361.6h33M1484.8 4345.1v33M1480.7 4360.3h33M1497.2 4343.8v33M1493.0 4358.8h33M1509.5 4342.3v33M1505.4 4357.5h33M1521.9 4341.0v33M1517.7 4356.1h33M1534.2 4339.6v33M1530.1 4355.0h33M1546.6 4338.5v33M1542.4 4353.6h33M1558.9 4337.1v33M1554.8 4352.1h33M1571.3 4335.6v33M1567.1 4350.8h33M1583.6 4334.3v33M1579.5 4349.2h33M1596.0 4332.7v33M1591.8 4347.6h33M1608.3 4331.1v33M1604.2 4346.0h33M1620.7 4329.5v33M1616.5 4344.0h33M1633.0 4327.5v33M1628.9 4342.0h33M1645.4 4325.5v33M1641.2 4340.1h33M1657.7 4323.6v33M1653.6 4337.4h33M1670.1 4320.9v33M1665.9 4334.8h33M1682.4 4318.3v33M1678.3 4332.2h33M1694.8 4315.7v33M1690.6 4329.1h33M1707.1 4312.6v33M1703.0 4325.7h33M1719.5 4309.2v33M1715.3 4320.2h33M1731.8 4303.7v33M1727.7 4314.3h33M1744.2 4297.8v33M1740.0 4308.1h33M1756.5 4291.6v33M1752.4 4298.1h33M1768.9 4281.6v33M1764.7 4287.6h33M1781.2 4271.1v33M1777.1 4271.5h33M1793.6 4255.0v33M1789.4 4245.5h33M1805.9 4229.0v33M1801.8 4216.7h33M1818.3 4200.2v33M1814.1 4174.8h33M1830.6 4158.3v33M1826.5 4133.3h33M1843.0 4116.8v33M1838.8 4090.4h33M1855.3 4073.9v33M1851.2 4046.5h33M1867.7 4030.0v33M1863.5 3996.1h33M1880.0 3979.6v33M1875.9 3947.9h33M1892.4 3931.4v33M1888.2 3894.9h33M1904.7 3878.4v33M1900.6 3842.6h33M1917.1 3826.1v33M1912.9 3788.8h33M1929.4 3772.3v33M1925.3 3733.7h33M1941.8 3717.2v33M1937.6 3680.7h33M1954.1 3664.2v33M1950.0 3624.3h33M1966.5 3607.8v33M1962.3 3573.4h33M1978.8 3556.9v33M1974.7 3519.1h33M1991.2 3502.6v33M1987.0 3466.4h33M2003.5 3449.9v33M1999.4 3413.1h33M2015.9 3396.6v33M2011.7 3362.8h33M2028.2 3346.3v33M2024.1 3312.3h33M2040.6 3295.8v33M2036.4 3261.7h33M2052.9 3245.2v33M2048.8 3211.2h33M2065.3 3194.7v33M2061.1 3160.6h33M2077.6 3144.1v33" stroke="#1f77b4" stroke-width="6" fill="none"/>
<path d="M371.5 4460.2H416.5M503.4 4458.5H557.7M632.2 4456.9H672.9M756.3 4454.1H788.9M1448.3 4362.8H1470.9M1486.9 4358.4H1509.4M1526.8 4354.2H1549.3M1562.6 4349.9H1585.1M1599.5 4345.7H1622.0M1629.6 4341.6H1650.0M1652.7 4335.4H1669.0M1679.6 4330.6H1694.2M1697.9 4325.6H1711.5M1711.5 4320.5H1725.0M1726.3 4315.5H1738.5M1734.5 4310.8H1746.8M1744.2 4305.7H1755.0M1750.4 4300.3H1761.3M1757.1 4295.2H1767.1M1763.3 4290.2H1773.4M1768.5 4284.4H1778.5M854.3 4451.1H876.9M874.1 4446.6H896.6M933.8 4442.0H956.3M970.1 4437.5H992.7M994.2 4432.9H1016.8M1018.3 4428.4H1040.9M1037.0 4423.9H1059.6M1055.0 4419.3H1077.6M1073.1 4414.8H1095.6M1090.6 4410.2H1113.1M1107.9 4405.7H1130.4M1125.3 4401.2H1147.8M1151.3 4396.6H1173.8M1181.6 4392.1H1204.1M1215.5 4387.5H1238.0M1250.4 4383.0H1272.9M1286.2 4378.4H1308.7M1328.8 4373.9H1351.4M1374.6 4369.4H1397.2M1773.6 4278.5H1783.1M1777.3 4273.3H1786.8M1780.3 4267.9H1789.8M1783.3 4262.5H1792.8M1786.2 4257.0H1795.7M1788.9 4251.5H1798.4M1791.4 4245.9H1800.9M1794.0 4240.3H1803.5M1796.6 4234.5H1806.1M1798.9 4228.7H1808.4M1801.1 4222.8H1810.6M1803.3 4216.9H1812.8M1805.4 4210.9H1814.9M1809.1 4204.8H1818.6M1810.9 4202.0H1820.4M1814.8 4195.8H1824.3M1818.8 4189.6H1828.3M1821.9 4183.2H1831.4M1824.0 4176.8H1833.5M1826.1 4170.3H1835.6M1828.3 4163.7H1837.8M1830.4 4157.1H1839.9M1832.2 4150.3H1841.7M1834.1 4143.5H1843.6M1836.1 4136.6H1845.6M1838.0 4129.6H1847.5M1840.1 4122.6H1849.6M1842.1 4115.4H1851.6M1844.2 4108.2H1853.7M1846.3 4100.9H1855.8M1848.5 4093.5H1858.0M1850.6 4086.0H1860.1M1852.8 4078.4H1862.3M1855.0 4070.7H1864.5M1857.2 4063.0H1866.7M1859.4 4055.1H1868.9M1861.5 4047.1H1871.0M1863.5 4039.1H1873.0M1865.5 4030.9H1875.0M1867.5 4022.7H1877.0M1869.6 4014.4H1879.1M1871.6 4005.9H1881.1M1873.7 3997.4H1883.2M1875.9 3988.7H1885.4M1878.2 3980.0H1887.7M1880.4 3971.1H1889.9M1882.7 3962.1H1892.2M1885.1 3953.1H1894.6M1887.4 3943.9H1896.9M1889.7 3934.6H1899.2M1892.0 3925.2H1901.5M1894.2 3915.7H1903.7M1896.3 3906.0H1905.8M1898.5 3896.3H1908.0M1900.6 3886.4H1910.1M1903.2 3876.5H1912.7M1905.8 3866.4H1915.3M1908.3 3856.1H1917.8M1910.4 3845.8H1919.9M1912.6 3835.3H1922.1M1915.1 3824.7H1924.6M1917.8 3814.0H1927.3M1920.4 3803.2H1929.9M1922.7 3792.2H1932.2M1925.1 3781.1H1934.6M1927.6 3769.8H1937.1M1930.1 3758.5H1939.6M1932.7 3746.9H1942.2M1935.4 3735.3H1944.9M1938.2 3723.5H1947.7M1941.1 3711.6H1950.6M1944.0 3699.5H1953.5M1946.7 3687.2H1956.2M1949.4 3674.9H1958.9M1952.1 3662.4H1961.6M1954.7 3649.7H1964.2M1957.5 3636.9H1967.0M1960.6 3623.9H1970.1M1963.8 3610.8H1973.3M1967.2 3597.5H1976.7M1970.6 3584.0H1980.1M1973.5 3570.4H1983.0M1976.5 3556.6H1986.0M1979.7 3542.7H1989.2M1983.0 3528.6H1992.5M1986.3 3514.3H1995.8M1989.6 3499.9H1999.1M1993.1 3485.3H2002.6M1996.6 3470.5H2006.1M2000.2 3455.5H2009.7M2003.7 3440.4H2013.2M2007.1 3425.0H2016.6M2010.8 3409.5H2020.3M2014.7 3393.8H2024.2M2018.6 3377.9H2028.0M2022.5 3361.8H2032.0M2026.5 3345.5H2036.0M2030.5 3329.1H2040.0M2034.6 3312.4H2044.1M2038.7 3295.5H2048.2M2042.9 3278.5H2052.4M2047.1 3261.2H2056.6M2051.3 3243.7H2060.8M2055.7 3226.0H2065.2M2060.0 3208.1H2069.5M2064.5 3190.0H2074.0M2068.9 3171.7H2078.4M2073.5 3153.1H2083.0M2076.1 3134.3H2085.6M2076.1 3115.3H2085.6M2076.1 3096.1H2085.6M2076.1 3076.6H2085.6M2076.1 3056.9H2085.6M2076.1 3037.0H2085.6" stroke="#ff7f0e" stroke-width="11" fill="none"/>
<path d="M371.5 4443.7v33M416.5 4443.7v33M503.4 4442.0v33M557.7 4442.0v33M632.2 4440.4v33M672.9 4440.4v33M756.3 4437.6v33M788.9 4437.6v33M1448.3 4346.3v33M1470.9 4346.3v33M1486.9 4341.9v33M1509.4 4341.9v33M1526.8 4337.7v33M1549.3 4337.7v33M1562.6 4333.4v33M1585.1 4333.4v33M1599.5 4329.2v33M1622.0 4329.2v33M1629.6 4325.1v33M1650.0 4325.1v33M1652.7 4318.9v33M1669.0 4318.9v33M1679.6 4314.1v33M1694.2 4314.1v33M1697.9 4309.1v33M1711.5 4309.1v33M1711.5 4304.0v33M1725.0 4304.0v33M1726.3 4299.0v33M1738.5 4299.0v33M1734.5 4294.3v33M1746.8 4294.3v33M1744.2 4289.2v33M1755.0 4289.2v33M1750.4 4283.8v33M1761.3 4283.8v33M1757.1 4278.7v33M1767.1 4278.7v33M1763.3 4273.7v33M1773.4 4273.7v33M1768.5 4267.9v33M1778.5 4267.9v33M854.3 4434.6v33M876.9 4434.6v33M874.1 4430.1v33M896.6 4430.1v33M933.8 4425.5v33M956.3 4425.5v33M970.1 4421.0v33M992.7 4421.0v33M994.2 4416.4v33M1016.8 4416.4v33M1018.3 4411.9v33M1040.9 4411.9v33M1037.0 4407.4v33M1059.6 4407.4v33M1055.0 4402.8v33M1077.6 4402.8v33M1073.1 4398.3v33M1095.6 4398.3v33M1090.6 4393.7v33M1113.1 4393.7v33M1107.9 4389.2v33M1130.4 4389.2v33M1125.3 4384.7v33M1147.8 4384.7v33M1151.3 4380.1v33M1173.8 4380.1v33M1181.6 4375.6v33M1204.1 4375.6v33M1215.5 4371.0v33M1238.0 4371.0v33M1250.4 4366.5v33M1272.9 4366.5v33M1286.2 4361.9v33M1308.7 4361.9v33M1328.8 4357.4v33M1351.4 4357.4v33M1374.6 4352.9v33M1397.2 4352.9v33M1773.6 4262.0v33M1783.1 4262.0v33M1777.3 4256.8v33M1786.8 4256.8v33M1780.3 4251.4v33M1789.8 4251.4v33M1783.3 4246.0v33M1792.8 4246.0v33M1786.2 4240.5v33M1795.7 4240.5v33M1788.9 4235.0v33M1798.4 4235.0v33M1791.4 4229.4v33M1800.9 4229.4v33M1794.0 4223.8v33M1803.5 4223.8v33M1796.6 4218.0v33M1806.1 4218.0v33M1798.9 4212.2v33M1808.4 4212.2v33M1801.1 4206.3v33M1810.6 4206.3v33M1803.3 4200.4v33M1812.8 4200.4v33M1805.4 4194.4v33M1814.9 4194.4v33M1809.1 4188.3v33M1818.6 4188.3v33M1810.9 4185.5v33M1820.4 4185.5v33M1814.8 4179.3v33M1824.3 4179.3v33M1818.8 4173.1v33M1828.3 4173.1v33M1821.9 4166.7v33M1831.4 4166.7v33M1824.0 4160.3v33M1833.5 4160.3v33M1826.1 4153.8v33M1835.6 4153.8v33M1828.3 4147.2v33M1837.8 4147.2v33M1830.4 4140.6v33M1839.9 4140.6v33M1832.2 4133.8v33M1841.7 4133.8v33M1834.1 4127.0v33M1843.6 4127.0v33M1836.1 4120.1v33M1845.6 4120.1v33M1838.0 4113.1v33M1847.5 4113.1v33M1840.1 4106.1v33M1849.6 4106.1v33M1842.1 4098.9v33M1851.6 4098.9v33M1844.2 4091.7v33M1853.7 4091.7v33M1846.3 4084.4v33M1855.8 4084.4v33M1848.5 4077.0v33M1858.0 4077.0v33M1850.6 4069.5v33M1860.1 4069.5v33M1852.8 4061.9v33M1862.3 4061.9v33M1855.0 4054.2v33M1864.5 4054.2v33M1857.2 4046.5v33M1866.7 4046.5v33M1859.4 4038.6v33M1868.9 4038.6v33M1861.5 4030.6v33M1871.0 4030.6v33M1863.5 4022.6v33M1873.0 4022.6v33M1865.5 4014.4v33M1875.0 4014.4v33M1867.5 4006.2v33M1877.0 4006.2v33M1869.6 3997.9v33M1879.1 3997.9v33M1871.6 3989.4v33M1881.1 3989.4v33M1873.7 3980.9v33M1883.2 3980.9v33M1875.9 3972.2v33M1885.4 3972.2v33M1878.2 3963.5v33M1887.7 3963.5v33M1880.4 3954.6v33M1889.9 3954.6v33M1882.7 3945.6v33M1892.2 3945.6v33M1885.1 3936.6v33M1894.6 3936.6v33M1887.4 3927.4v33M1896.9 3927.4v33M1889.7 3918.1v33M1899.2 3918.1v33M1892.0 3908.7v33M1901.5 3908.7v33M1894.2 3899.2v33M1903.7 3899.2v33M1896.3 3889.5v33M1905.8 3889.5v33M1898.5 3879.8v33M1908.0 3879.8v33M1900.6 3869.9v33M1910.1 3869.9v33M1903.2 3860.0v33M1912.7 3860.0v33M1905.8 3849.9v33M1915.3 3849.9v33M1908.3 3839.6v33M1917.8 3839.6v33M1910.4 3829.3v33M1919.9 3829.3v33M1912.6 3818.8v33M1922.1 3818.8v33M1915.1 3808.2v33M1924.6 3808.2v33M1917.8 3797.5v33M1927.3 3797.5v33M1920.4 3786.7v33M1929.9 3786.7v33M1922.7 3775.7v33M1932.2 3775.7v33M1925.1 3764.6v33M1934.6 3764.6v33M1927.6 3753.3v33M1937.1 3753.3v33M1930.1 3742.0v33M1939.6 3742.0v33M1932.7 3730.4v33M1942.2 3730.4v33M1935.4 3718.8v33M1944.9 3718.8v33M1938.2 3707.0v33M1947.7 3707.0v33M1941.1 3695.1v33M1950.6 3695.1v33M1944.0 3683.0v33M1953.5 3683.0v33M1946.7 3670.7v33M1956.2 3670.7v33M1949.4 3658.4v33M1958.9 3658.4v33M1952.1 3645.9v33M1961.6 3645.9v33M1954.7 3633.2v33M1964.2 3633.2v33M1957.5 3620.4v33M1967.0 3620.4v33M1960.6 3607.4v33M1970.1 3607.4v33M1963.8 3594.3v33M1973.3 3594.3v33M1967.2 3581.0v33M1976.7 3581.0v33M1970.6 3567.5v33M1980.1 3567.5v33M1973.5 3553.9v33M1983.0 3553.9v33M1976.5 3540.1v33M1986.0 3540.1v33M1979.7 3526.2v33M1989.2 3526.2v33M1983.0 3512.1v33M1992.5 3512.1v33M1986.3 3497.8v33M1995.8 3497.8v33M1989.6 3483.4v33M1999.1 3483.4v33M1993.1 3468.8v33M2002.6 3468.8v33M1996.6 3454.0v33M2006.1 3454.0v33M2000.2 3439.0v33M2009.7 3439.0v33M2003.7 3423.9v33M2013.2 3423.9v33M2007.1 3408.5v33M2016.6 3408.5v33M2010.8 3393.0v33M2020.3 3393.0v33M2014.7 3377.3v33M2024.2 3377.3v33M2018.6 3361.4v33M2028.0 3361.4v33M2022.5 3345.3v33M2032.0 3345.3v33M2026.5 3329.0v33M2036.0 3329.0v33M2030.5 3312.6v33M2040.0 3312.6v33M2034.6 3295.9v33M2044.1 3295.9v33M2038.7 3279.0v33M2048.2 3279.0v33M2042.9 3262.0v33M2052.4 3262.0v33M2047.1 3244.7v33M2056.6 3244.7v33M2051.3 3227.2v33M2060.8 3227.2v33M2055.7 3209.5v33M2065.2 3209.5v33M2060.0 3191.6v33M2069.5 3191.6v33M2064.5 3173.5v33M2074.0 3173.5v33M2068.9 3155.2v33M2078.4 3155.2v33M2073.5 3136.6v33M2083.0 3136.6v33M2076.1 3117.8v33M2085.6 3117.8v33M2076.1 3098.8v33M2085.6 3098.8v33M2076.1 3079.6v33M2085.6 3079.6v33M2076.1 3060.1v33M2085.6 3060.1v33M2076.1 3040.4v33M2085.6 3040.4v33M2076.1 3020.5v33M2085.6 3020.5v33M377.5 4460.2h33M394.0 4443.7v33M514.0 4458.5h33M530.5 4442.0v33M636.0 4456.9h33M652.5 4440.4v33M756.1 4454.1h33M772.6 4437.6v33M1443.1 4362.8h33M1459.6 4346.3v33M1481.6 4358.4h33M1498.1 4341.9v33M1521.5 4354.2h33M1538.0 4337.7v33M1557.4 4349.9h33M1573.9 4333.4v33M1594.3 4345.7h33M1610.8 4329.2v33M1623.3 4341.6h33M1639.8 4325.1v33M1644.3 4335.4h33M1660.8 4318.9v33M1670.4 4330.6h33M1686.9 4314.1v33M1688.2 4325.6h33M1704.7 4309.1v33M1701.8 4320.5h33M1718.3 4304.0v33M1715.9 4315.5h33M1732.4 4299.0v33M1724.1 4310.8h33M1740.6 4294.3v33M1733.1 4305.7h33M1749.6 4289.2v33M1739.3 4300.3h33M1755.8 4283.8v33M1745.6 4295.2h33M1762.1 4278.7v33M1751.8 4290.2h33M1768.3 4273.7v33M1757.0 4284.4h33M1773.5 4267.9v33M849.1 4451.1h33M865.6 4434.6v33M868.8 4446.6h33M885.3 4430.1v33M928.5 4442.0h33M945.0 4425.5v33M964.9 4437.5h33M981.4 4421.0v33M989.0 4432.9h33M1005.5 4416.4v33M1013.1 4428.4h33M1029.6 4411.9v33M1031.8 4423.9h33M1048.3 4407.4v33M1049.8 4419.3h33M1066.3 4402.8v33M1067.8 4414.8h33M1084.3 4398.3v33M1085.3 4410.2h33M1101.8 4393.7v33M1102.7 4405.7h33M1119.2 4389.2v33M1120.0 4401.2h33M1136.5 4384.7v33M1146.0 4396.6h33M1162.5 4380.1v33M1176.4 4392.1h33M1192.9 4375.6v33M1210.2 4387.5h33M1226.7 4371.0v33M1245.1 4383.0h33M1261.6 4366.5v33M1281.0 4378.4h33M1297.5 4361.9v33M1323.6 4373.9h33M1340.1 4357.4v33M1369.4 4369.4h33M1385.9 4352.9v33M1761.9 4278.5h33M1778.4 4262.0v33M1765.5 4273.3h33M1782.0 4256.8v33M1768.6 4267.9h33M1785.1 4251.4v33M1771.6 4262.5h33M1788.1 4246.0v33M1774.4 4257.0h33M1790.9 4240.5v33M1777.1 4251.5h33M1793.6 4235.0v33M1779.6 4245.9h33M1796.1 4229.4v33M1782.3 4240.3h33M1798.8 4223.8v33M1784.8 4234.5h33M1801.3 4218.0v33M1787.2 4228.7h33M1803.7 4212.2v33M1789.3 4222.8h33M1805.8 4206.3v33M1791.5 4216.9h33M1808.0 4200.4v33M1793.7 4210.9h33M1810.2 4194.4v33M1797.4 4204.8h33M1813.9 4188.3v33M1799.1 4202.0h33M1815.6 4185.5v33M1803.1 4195.8h33M1819.6 4179.3v33M1807.1 4189.6h33M1823.6 4173.1v33M1810.1 4183.2h33M1826.6 4166.7v33M1812.2 4176.8h33M1828.7 4160.3v33M1814.4 4170.3h33M1830.9 4153.8v33M1816.5 4163.7h33M1833.0 4147.2v33M1818.6 4157.1h33M1835.1 4140.6v33M1820.5 4150.3h33M1837.0 4133.8v33M1822.4 4143.5h33M1838.9 4127.0v33M1824.3 4136.6h33M1840.8 4120.1v33M1826.3 4129.6h33M1842.8 4113.1v33M1828.3 4122.6h33M1844.8 4106.1v33M1830.4 4115.4h33M1846.9 4098.9v33M1832.5 4108.2h33M1849.0 4091.7v33M1834.6 4100.9h33M1851.1 4084.4v33M1836.7 4093.5h33M1853.2 4077.0v33M1838.9 4086.0h33M1855.4 4069.5v33M1841.0 4078.4h33M1857.5 4061.9v33M1843.2 4070.7h33M1859.7 4054.2v33M1845.4 4063.0h33M1861.9 4046.5v33M1847.7 4055.1h33M1864.2 4038.6v33M1849.8 4047.1h33M1866.3 4030.6v33M1851.7 4039.1h33M1868.2 4022.6v33M1853.7 4030.9h33M1870.2 4014.4v33M1855.7 4022.7h33M1872.2 4006.2v33M1857.8 4014.4h33M1874.3 3997.9v33M1859.9 4005.9h33M1876.4 3989.4v33M1862.0 3997.4h33M1878.5 3980.9v33M1864.2 3988.7h33M1880.7 3972.2v33M1866.4 3980.0h33M1882.9 3963.5v33M1868.7 3971.1h33M1885.2 3954.6v33M1871.0 3962.1h33M1887.5 3945.6v33M1873.3 3953.1h33M1889.8 3936.6v33M1875.7 3943.9h33M1892.2 3927.4v33M1878.0 3934.6h33M1894.5 3918.1v33M1880.2 3925.2h33M1896.7 3908.7v33M1882.5 3915.7h33M1899.0 3899.2v33M1884.6 3906.0h33M1901.1 3889.5v33M1886.7 3896.3h33M1903.2 3879.8v33M1888.9 3886.4h33M1905.4 3869.9v33M1891.5 3876.5h33M1908.0 3860.0v33M1894.1 3866.4h33M1910.6 3849.9v33M1896.5 3856.1h33M1913.0 3839.6v33M1898.7 3845.8h33M1915.2 3829.3v33M1900.9 3835.3h33M1917.4 3818.8v33M1903.4 3824.7h33M1919.9 3808.2v33M1906.0 3814.0h33M1922.5 3797.5v33M1908.6 3803.2h33M1925.1 3786.7v33M1911.0 3792.2h33M1927.5 3775.7v33M1913.4 3781.1h33M1929.9 3764.6v33M1915.8 3769.8h33M1932.3 3753.3v33M1918.4 3758.5h33M1934.9 3742.0v33M1921.0 3746.9h33M1937.5 3730.4v33M1923.7 3735.3h33M1940.2 3718.8v33M1926.4 3723.5h33M1942.9 3707.0v33M1929.3 3711.6h33M1945.8 3695.1v33M1932.3 3699.5h33M1948.8 3683.0v33M1935.0 3687.2h33M1951.5 3670.7v33M1937.6 3674.9h33M1954.1 3658.4v33M1940.3 3662.4h33M1956.8 3645.9v33M1943.0 3649.7h33M1959.5 3633.2v33M1945.7 3636.9h33M1962.2 3620.4v33M1948.9 3623.9h33M1965.4 3607.4v33M1952.0 3610.8h33M1968.5 3594.3v33M1955.4 3597.5h33M1971.9 3581.0v33M1958.8 3584.0h33M1975.3 3567.5v33M1961.7 3570.4h33M1978.2 3553.9v33M1964.7 3556.6h33M1981.2 3540.1v33M1968.0 3542.7h33M1984.5 3526.2v33M1971.3 3528.6h33M1987.8 3512.1v33M1974.5 3514.3h33M1991.0 3497.8v33M1977.9 3499.9h33M1994.4 3483.4v33M1981.3 3485.3h33M1997.8 3468.8v33M1984.8 3470.5h33M2001.3 3454.0v33M1988.4 3455.5h33M2004.9 3439.0v33M1991.9 3440.4h33M2008.4 3423.9v33M1995.3 3425.0h33M2011.8 3408.5v33M1999.0 3409.5h33M2015.5 3393.0v33M2002.9 3393.8h33M2019.4 3377.3v33M2006.8 3377.9h33M2023.3 3361.4v33M2010.7 3361.8h33M2027.2 3345.3v33M2014.7 3345.5h33M2031.2 3329.0v33M2018.7 3329.1h33M2035.2 3312.6v33M2022.8 3312.4h33M2039.3 3295.9v33M2026.9 3295.5h33M2043.4 3279.0v33M2031.1 3278.5h33M2047.6 3262.0v33M2035.3 3261.2h33M2051.8 3244.7v33M2039.6 3243.7h33M2056.1 3227.2v33M2043.9 3226.0h33M2060.4 3209.5v33M2048.3 3208.1h33M2064.8 3191.6v33M2052.7 3190.0h33M2069.2 3173.5v33M2057.2 3171.7h33M2073.7 3155.2v33M2061.7 3153.1h33M2078.2 3136.6v33M2064.4 3134.3h33M2080.9 3117.8v33M2064.4 3115.3h33M2080.9 3098.8v33M2064.4 3096.1h33M2080.9 3079.6v33M2064.4 3076.6h33M2080.9 3060.1v33M2064.4 3056.9h33M2080.9 3040.4v33M2064.4 3037.0h33M2080.9 3020.5v33" stroke="#ff7f0e" stroke-width="6" fill="none"/>
<polyline points="270.5,4463.5 406.2,4461.8 541.9,4459.6 677.6,4456.9 786.2,4453.6 865.6,4447.5 922.0,4444.8 978.6,4438.0 1032.2,4427.9 1088.7,4413.7 1142.3,4399.6 1198.8,4391.2 1255.3,4383.8 1309.0,4377.0 1365.4,4371.4 1421.9,4365.8 1439.0,4365.1 1449.3,4363.9 1459.6,4362.8 1470.4,4361.4 1480.8,4360.3 1491.2,4359.3 1501.8,4358.1 1512.5,4356.8 1523.5,4355.7 1533.8,4354.5 1544.5,4353.6 1555.0,4352.5 1565.7,4351.0 1576.4,4349.9 1587.0,4348.8 1597.6,4347.3 1608.1,4346.0 1618.9,4344.6 1629.6,4343.1 1639.9,4341.2 1650.1,4339.1 1660.8,4337.3 1670.9,4335.8 1681.2,4333.5 1691.2,4331.0 1701.6,4328.5 1711.2,4325.6 1720.6,4321.6 1729.7,4318.1 1739.0,4314.8 1747.4,4309.7 1755.3,4304.7 1762.2,4298.7 1768.6,4293.1 1774.6,4286.6 1779.3,4280.1 1783.9,4273.4 1787.9,4266.6 1791.7,4259.6 1795.1,4252.8 1798.5,4245.3 1801.7,4238.4 1804.7,4231.5 1807.4,4224.0 1810.1,4216.7 1812.4,4210.3 1820.2,4186.3 1829.1,4159.1 1836.7,4131.8 1844.6,4104.6 1852.3,4077.6 1860.1,4050.3 1866.7,4023.1 1873.4,3996.1 1880.3,3968.9 1887.3,3941.6 1893.9,3914.4 1899.7,3887.4 1906.8,3860.2 1912.5,3832.9 1919.1,3805.9 1924.9,3778.7 1931.5,3749.5 1937.7,3722.5 1944.3,3695.3 1950.2,3668.0 1956.0,3640.2 1962.5,3613.0 1969.6,3585.5 1975.4,3558.2 1981.9,3530.4 1988.2,3503.2 1994.8,3474.8 2001.3,3447.8 2007.6,3419.8 2014.1,3393.3 2016.8,3381.8" fill="none" stroke="#000" stroke-width="11.5" stroke-dasharray="11.5 17"/>
</g>
<line x1="270.5" y1="4463.5" x2="270.5" y2="4482.5" class="tk"/>
<text x="271.0" y="4557.0" font-size="80" text-anchor="middle" textLength="102" lengthAdjust="spacingAndGlyphs" class="tl">0.0</text>
<line x1="541.9" y1="4463.5" x2="541.9" y2="4482.5" class="tk"/>
<text x="542.4" y="4557.0" font-size="80" text-anchor="middle" textLength="102" lengthAdjust="spacingAndGlyphs" class="tl">0.2</text>
<line x1="813.3" y1="4463.5" x2="813.3" y2="4482.5" class="tk"/>
<text x="813.8" y="4557.0" font-size="80" text-anchor="middle" textLength="102" lengthAdjust="spacingAndGlyphs" class="tl">0.4</text>
<line x1="1084.8" y1="4463.5" x2="1084.8" y2="4482.5" class="tk"/>
<text x="1085.3" y="4557.0" font-size="80" text-anchor="middle" textLength="102" lengthAdjust="spacingAndGlyphs" class="tl">0.6</text>
<line x1="1356.2" y1="4463.5" x2="1356.2" y2="4482.5" class="tk"/>
<text x="1356.7" y="4557.0" font-size="80" text-anchor="middle" textLength="102" lengthAdjust="spacingAndGlyphs" class="tl">0.8</text>
<line x1="1627.6" y1="4463.5" x2="1627.6" y2="4482.5" class="tk"/>
<text x="1628.1" y="4557.0" font-size="80" text-anchor="middle" textLength="102" lengthAdjust="spacingAndGlyphs" class="tl">1.0</text>
<line x1="1899.0" y1="4463.5" x2="1899.0" y2="4482.5" class="tk"/>
<text x="1899.5" y="4557.0" font-size="80" text-anchor="middle" textLength="102" lengthAdjust="spacingAndGlyphs" class="tl">1.2</text>
<line x1="251.5" y1="4463.5" x2="270.5" y2="4463.5" class="tk"/>
<text x="234.5" y="4491.0" font-size="80" text-anchor="end" textLength="102" lengthAdjust="spacingAndGlyphs" class="tl">0.0</text>
<line x1="251.5" y1="4188.2" x2="270.5" y2="4188.2" class="tk"/>
<text x="234.5" y="4215.8" font-size="80" text-anchor="end" textLength="102" lengthAdjust="spacingAndGlyphs" class="tl">1.0</text>
<line x1="251.5" y1="3913.0" x2="270.5" y2="3913.0" class="tk"/>
<text x="234.5" y="3940.5" font-size="80" text-anchor="end" textLength="102" lengthAdjust="spacingAndGlyphs" class="tl">2.0</text>
<line x1="251.5" y1="3637.8" x2="270.5" y2="3637.8" class="tk"/>
<text x="234.5" y="3665.2" font-size="80" text-anchor="end" textLength="102" lengthAdjust="spacingAndGlyphs" class="tl">3.0</text>
<line x1="251.5" y1="3362.5" x2="270.5" y2="3362.5" class="tk"/>
<text x="234.5" y="3390.0" font-size="80" text-anchor="end" textLength="102" lengthAdjust="spacingAndGlyphs" class="tl">4.0</text>
<rect x="270.5" y="3285.5" width="1777.5" height="1178.0" fill="none" stroke="#000" stroke-width="4.8"/>
<text x="1054" y="4645.0" font-size="80" textLength="210" lengthAdjust="spacingAndGlyphs" class="lab"><tspan font-style="italic">x</tspan><tspan font-size="56" dy="16">b</tspan><tspan dy="-16"> [Å]</tspan></text>
<text transform="translate(91.3 3992.5) rotate(-90)" x="0" y="0" font-size="72" font-style="italic" class="dvf" textLength="29" lengthAdjust="spacingAndGlyphs">f</text>
<text transform="translate(91.3 3928.7) rotate(-90)" x="0" y="0" font-size="80" textLength="163" lengthAdjust="spacingAndGlyphs" class="lab">[nN]</text>
<text x="869.5" y="4846.3" font-size="76" textLength="79.5" lengthAdjust="spacingAndGlyphs" class="lab">(<tspan font-weight="bold">c</tspan>)</text>
<text x="974.6" y="4846.3" font-size="76" font-style="italic" textLength="54.5" lengthAdjust="spacingAndGlyphs" class="lab">N</text>
<text transform="translate(0 4829.5) scale(1 0.72) translate(0 -4829.5)" x="1054" y="4855.3" font-size="76" textLength="64.5" lengthAdjust="spacingAndGlyphs" class="lab">=</text>
<text x="1135.3" y="4846.3" font-size="76" textLength="75.5" lengthAdjust="spacingAndGlyphs" class="lab">51</text>
<rect x="465.7" y="3530.5" width="1031.8" height="610.5" fill="#e6f4fd"/>
<g clip-path="url(#cic)">
<path d="M-2384.5 4476.9V4486.2M-2352.2 4475.1V4484.5M-2319.9 4473.4V4482.8M-2287.6 4471.7V4481.0M-2255.2 4469.9V4479.3M-2222.9 4468.2V4477.6M-2190.6 4466.5V4475.8M-2158.2 4464.7V4474.1M-2125.9 4463.0V4472.4M-2093.6 4461.3V4470.6M-2061.2 4459.5V4468.9M-2028.9 4457.8V4467.2M-1996.6 4456.7V4466.1M-1964.2 4455.8V4465.2M-1931.9 4455.0V4464.3M-1899.6 4454.1V4463.5M-1867.2 4453.2V4462.6M-1834.9 4452.3V4461.7M-1802.6 4451.5V4460.8M-1770.2 4450.6V4459.9M-1737.9 4449.7V4459.1M-1705.6 4448.8V4458.2M-1673.2 4447.9V4457.3M-1640.9 4447.1V4456.4M-1608.6 4446.5V4455.8M-1576.2 4445.9V4455.2M-1543.9 4445.3V4454.7M-1511.6 4444.7V4454.1M-1479.2 4444.1V4453.5M-1446.9 4443.6V4452.9M-1414.6 4443.0V4452.4M-1382.2 4442.4V4451.8M-1349.9 4441.8V4451.2M-1317.6 4440.2V4449.5M-1285.2 4438.4V4447.7M-1252.9 4436.5V4445.9M-1220.6 4434.7V4444.1M-1188.3 4432.9V4442.3M-1155.9 4431.1V4440.4M-1123.6 4429.3V4438.6M-1091.3 4427.4V4436.8M-1058.9 4425.6V4435.0M-1026.6 4423.7V4433.1M-994.3 4421.4V4430.8M-961.9 4419.2V4428.5M-929.6 4416.9V4426.3M-897.3 4414.6V4424.0M-864.9 4410.4V4419.8M-832.6 4404.7V4414.1M-800.3 4399.0V4408.4M-767.9 4393.4V4402.7M-735.6 4387.7V4397.0M-703.3 4378.8V4388.2M-670.9 4370.0V4379.3M-638.6 4361.1V4370.5M-606.3 4352.2V4361.6M-573.9 4341.4V4350.8M-541.6 4329.6V4338.9M-509.3 4317.7V4327.1M-476.9 4305.9V4315.2M-444.6 4294.0V4303.4M-412.3 4281.8V4291.1M-379.9 4269.5V4278.9M-347.6 4257.3V4266.7M-315.3 4245.1V4254.4M-282.9 4236.6V4246.0M-250.6 4229.6V4239.0M-218.3 4222.5V4231.9M-186.0 4215.5V4224.8M-153.6 4208.6V4217.9M-121.3 4202.4V4211.8M-89.0 4196.3V4205.7M-56.6 4190.1V4199.5M-24.3 4184.0V4193.4M8.0 4178.1V4187.5M40.4 4172.3V4181.7M72.7 4166.6V4176.0M105.0 4160.8V4170.2M137.4 4155.3V4164.7M169.7 4150.5V4159.9M202.0 4145.7V4155.1M234.4 4141.0V4150.3M266.7 4136.2V4145.5M299.0 4131.5V4140.9M331.4 4127.0V4136.4M363.7 4122.4V4131.8M396.0 4117.9V4127.3M428.4 4113.7V4123.0M460.7 4112.6V4122.0M493.0 4108.2V4117.6M525.4 4103.3V4112.7M557.7 4097.4V4106.7M590.0 4092.7V4102.0M622.4 4087.8V4097.1M654.7 4082.3V4091.6M687.0 4077.1V4086.5M719.4 4071.9V4081.3M751.7 4067.9V4077.3M784.0 4062.6V4071.9M816.4 4056.7V4066.1M848.7 4051.9V4061.2M881.0 4045.9V4055.3M913.3 4039.9V4049.3M945.7 4033.7V4043.0M978.0 4026.0V4035.4M1010.3 4018.7V4028.0M1042.7 4011.3V4020.7M1075.0 4001.4V4010.8M1107.3 3991.5V4000.8M1139.7 3981.5V3990.8M1172.0 3969.7V3979.1M1204.3 3957.0V3966.3M1236.7 3936.0V3945.4M1269.0 3913.9V3923.2M1301.3 3890.4V3899.8M1333.7 3852.5V3861.9M1366.0 3812.7V3822.0M1398.3 3751.8V3761.2M1430.7 3653.7V3663.1M1463.0 3544.7V3554.0M1495.3 3386.0V3395.3M1527.7 3229.1V3238.4M1560.0 3066.8V3076.1M1592.3 2900.6V2910.0M1624.7 2710.2V2719.6M1657.0 2527.9V2537.2M1689.3 2327.4V2336.8M1721.7 2129.6V2139.0M1754.0 1926.0V1935.4M1786.3 1717.4V1726.8M1818.7 1517.1V1526.4M1851.0 1303.8V1313.2M1883.3 1111.2V1120.6M1915.6 906.0V915.3M1948.0 706.3V715.7M1980.3 505.0V514.3M2012.6 314.5V323.9M2045.0 123.4V132.8M2077.3 -67.8V-58.4M2109.6 -259.0V-249.6M2142.0 -450.2V-440.9" stroke="#1f77b4" stroke-width="11" fill="none"/>
<path d="M-2401.0 4476.9h33M-2401.0 4486.2h33M-2368.7 4475.1h33M-2368.7 4484.5h33M-2336.4 4473.4h33M-2336.4 4482.8h33M-2304.1 4471.7h33M-2304.1 4481.0h33M-2271.7 4469.9h33M-2271.7 4479.3h33M-2239.4 4468.2h33M-2239.4 4477.6h33M-2207.1 4466.5h33M-2207.1 4475.8h33M-2174.7 4464.7h33M-2174.7 4474.1h33M-2142.4 4463.0h33M-2142.4 4472.4h33M-2110.1 4461.3h33M-2110.1 4470.6h33M-2077.7 4459.5h33M-2077.7 4468.9h33M-2045.4 4457.8h33M-2045.4 4467.2h33M-2013.1 4456.7h33M-2013.1 4466.1h33M-1980.7 4455.8h33M-1980.7 4465.2h33M-1948.4 4455.0h33M-1948.4 4464.3h33M-1916.1 4454.1h33M-1916.1 4463.5h33M-1883.7 4453.2h33M-1883.7 4462.6h33M-1851.4 4452.3h33M-1851.4 4461.7h33M-1819.1 4451.5h33M-1819.1 4460.8h33M-1786.7 4450.6h33M-1786.7 4459.9h33M-1754.4 4449.7h33M-1754.4 4459.1h33M-1722.1 4448.8h33M-1722.1 4458.2h33M-1689.7 4447.9h33M-1689.7 4457.3h33M-1657.4 4447.1h33M-1657.4 4456.4h33M-1625.1 4446.5h33M-1625.1 4455.8h33M-1592.7 4445.9h33M-1592.7 4455.2h33M-1560.4 4445.3h33M-1560.4 4454.7h33M-1528.1 4444.7h33M-1528.1 4454.1h33M-1495.7 4444.1h33M-1495.7 4453.5h33M-1463.4 4443.6h33M-1463.4 4452.9h33M-1431.1 4443.0h33M-1431.1 4452.4h33M-1398.7 4442.4h33M-1398.7 4451.8h33M-1366.4 4441.8h33M-1366.4 4451.2h33M-1334.1 4440.2h33M-1334.1 4449.5h33M-1301.7 4438.4h33M-1301.7 4447.7h33M-1269.4 4436.5h33M-1269.4 4445.9h33M-1237.1 4434.7h33M-1237.1 4444.1h33M-1204.8 4432.9h33M-1204.8 4442.3h33M-1172.4 4431.1h33M-1172.4 4440.4h33M-1140.1 4429.3h33M-1140.1 4438.6h33M-1107.8 4427.4h33M-1107.8 4436.8h33M-1075.4 4425.6h33M-1075.4 4435.0h33M-1043.1 4423.7h33M-1043.1 4433.1h33M-1010.8 4421.4h33M-1010.8 4430.8h33M-978.4 4419.2h33M-978.4 4428.5h33M-946.1 4416.9h33M-946.1 4426.3h33M-913.8 4414.6h33M-913.8 4424.0h33M-881.4 4410.4h33M-881.4 4419.8h33M-849.1 4404.7h33M-849.1 4414.1h33M-816.8 4399.0h33M-816.8 4408.4h33M-784.4 4393.4h33M-784.4 4402.7h33M-752.1 4387.7h33M-752.1 4397.0h33M-719.8 4378.8h33M-719.8 4388.2h33M-687.4 4370.0h33M-687.4 4379.3h33M-655.1 4361.1h33M-655.1 4370.5h33M-622.8 4352.2h33M-622.8 4361.6h33M-590.4 4341.4h33M-590.4 4350.8h33M-558.1 4329.6h33M-558.1 4338.9h33M-525.8 4317.7h33M-525.8 4327.1h33M-493.4 4305.9h33M-493.4 4315.2h33M-461.1 4294.0h33M-461.1 4303.4h33M-428.8 4281.8h33M-428.8 4291.1h33M-396.4 4269.5h33M-396.4 4278.9h33M-364.1 4257.3h33M-364.1 4266.7h33M-331.8 4245.1h33M-331.8 4254.4h33M-299.4 4236.6h33M-299.4 4246.0h33M-267.1 4229.6h33M-267.1 4239.0h33M-234.8 4222.5h33M-234.8 4231.9h33M-202.5 4215.5h33M-202.5 4224.8h33M-170.1 4208.6h33M-170.1 4217.9h33M-137.8 4202.4h33M-137.8 4211.8h33M-105.5 4196.3h33M-105.5 4205.7h33M-73.1 4190.1h33M-73.1 4199.5h33M-40.8 4184.0h33M-40.8 4193.4h33M-8.5 4178.1h33M-8.5 4187.5h33M23.9 4172.3h33M23.9 4181.7h33M56.2 4166.6h33M56.2 4176.0h33M88.5 4160.8h33M88.5 4170.2h33M120.9 4155.3h33M120.9 4164.7h33M153.2 4150.5h33M153.2 4159.9h33M185.5 4145.7h33M185.5 4155.1h33M217.9 4141.0h33M217.9 4150.3h33M250.2 4136.2h33M250.2 4145.5h33M282.5 4131.5h33M282.5 4140.9h33M314.9 4127.0h33M314.9 4136.4h33M347.2 4122.4h33M347.2 4131.8h33M379.5 4117.9h33M379.5 4127.3h33M411.9 4113.7h33M411.9 4123.0h33M444.2 4112.6h33M444.2 4122.0h33M476.5 4108.2h33M476.5 4117.6h33M508.9 4103.3h33M508.9 4112.7h33M541.2 4097.4h33M541.2 4106.7h33M573.5 4092.7h33M573.5 4102.0h33M605.9 4087.8h33M605.9 4097.1h33M638.2 4082.3h33M638.2 4091.6h33M670.5 4077.1h33M670.5 4086.5h33M702.9 4071.9h33M702.9 4081.3h33M735.2 4067.9h33M735.2 4077.3h33M767.5 4062.6h33M767.5 4071.9h33M799.9 4056.7h33M799.9 4066.1h33M832.2 4051.9h33M832.2 4061.2h33M864.5 4045.9h33M864.5 4055.3h33M896.8 4039.9h33M896.8 4049.3h33M929.2 4033.7h33M929.2 4043.0h33M961.5 4026.0h33M961.5 4035.4h33M993.8 4018.7h33M993.8 4028.0h33M1026.2 4011.3h33M1026.2 4020.7h33M1058.5 4001.4h33M1058.5 4010.8h33M1090.8 3991.5h33M1090.8 4000.8h33M1123.2 3981.5h33M1123.2 3990.8h33M1155.5 3969.7h33M1155.5 3979.1h33M1187.8 3957.0h33M1187.8 3966.3h33M1220.2 3936.0h33M1220.2 3945.4h33M1252.5 3913.9h33M1252.5 3923.2h33M1284.8 3890.4h33M1284.8 3899.8h33M1317.2 3852.5h33M1317.2 3861.9h33M1349.5 3812.7h33M1349.5 3822.0h33M1381.8 3751.8h33M1381.8 3761.2h33M1414.2 3653.7h33M1414.2 3663.1h33M1446.5 3544.7h33M1446.5 3554.0h33M1478.8 3386.0h33M1478.8 3395.3h33M1511.2 3229.1h33M1511.2 3238.4h33M1543.5 3066.8h33M1543.5 3076.1h33M1575.8 2900.6h33M1575.8 2910.0h33M1608.2 2710.2h33M1608.2 2719.6h33M1640.5 2527.9h33M1640.5 2537.2h33M1672.8 2327.4h33M1672.8 2336.8h33M1705.2 2129.6h33M1705.2 2139.0h33M1737.5 1926.0h33M1737.5 1935.4h33M1769.8 1717.4h33M1769.8 1726.8h33M1802.2 1517.1h33M1802.2 1526.4h33M1834.5 1303.8h33M1834.5 1313.2h33M1866.8 1111.2h33M1866.8 1120.6h33M1899.1 906.0h33M1899.1 915.3h33M1931.5 706.3h33M1931.5 715.7h33M1963.8 505.0h33M1963.8 514.3h33M1996.1 314.5h33M1996.1 323.9h33M2028.5 123.4h33M2028.5 132.8h33M2060.8 -67.8h33M2060.8 -58.4h33M2093.1 -259.0h33M2093.1 -249.6h33M2125.5 -450.2h33M2125.5 -440.9h33M-2401.0 4481.5h33M-2384.5 4465.0v33M-2368.7 4479.8h33M-2352.2 4463.3v33M-2336.4 4478.1h33M-2319.9 4461.6v33M-2304.1 4476.4h33M-2287.6 4459.9v33M-2271.7 4474.6h33M-2255.2 4458.1v33M-2239.4 4472.9h33M-2222.9 4456.4v33M-2207.1 4471.2h33M-2190.6 4454.7v33M-2174.7 4469.4h33M-2158.2 4452.9v33M-2142.4 4467.7h33M-2125.9 4451.2v33M-2110.1 4466.0h33M-2093.6 4449.5v33M-2077.7 4464.2h33M-2061.2 4447.7v33M-2045.4 4462.5h33M-2028.9 4446.0v33M-2013.1 4461.4h33M-1996.6 4444.9v33M-1980.7 4460.5h33M-1964.2 4444.0v33M-1948.4 4459.6h33M-1931.9 4443.1v33M-1916.1 4458.8h33M-1899.6 4442.3v33M-1883.7 4457.9h33M-1867.2 4441.4v33M-1851.4 4457.0h33M-1834.9 4440.5v33M-1819.1 4456.1h33M-1802.6 4439.6v33M-1786.7 4455.3h33M-1770.2 4438.8v33M-1754.4 4454.4h33M-1737.9 4437.9v33M-1722.1 4453.5h33M-1705.6 4437.0v33M-1689.7 4452.6h33M-1673.2 4436.1v33M-1657.4 4451.8h33M-1640.9 4435.3v33M-1625.1 4451.1h33M-1608.6 4434.6v33M-1592.7 4450.6h33M-1576.2 4434.1v33M-1560.4 4450.0h33M-1543.9 4433.5v33M-1528.1 4449.4h33M-1511.6 4432.9v33M-1495.7 4448.8h33M-1479.2 4432.3v33M-1463.4 4448.2h33M-1446.9 4431.7v33M-1431.1 4447.7h33M-1414.6 4431.2v33M-1398.7 4447.1h33M-1382.2 4430.6v33M-1366.4 4446.5h33M-1349.9 4430.0v33M-1334.1 4444.9h33M-1317.6 4428.4v33M-1301.7 4443.0h33M-1285.2 4426.5v33M-1269.4 4441.2h33M-1252.9 4424.7v33M-1237.1 4439.4h33M-1220.6 4422.9v33M-1204.8 4437.6h33M-1188.3 4421.1v33M-1172.4 4435.8h33M-1155.9 4419.3v33M-1140.1 4433.9h33M-1123.6 4417.4v33M-1107.8 4432.1h33M-1091.3 4415.6v33M-1075.4 4430.3h33M-1058.9 4413.8v33M-1043.1 4428.4h33M-1026.6 4411.9v33M-1010.8 4426.1h33M-994.3 4409.6v33M-978.4 4423.9h33M-961.9 4407.4v33M-946.1 4421.6h33M-929.6 4405.1v33M-913.8 4419.3h33M-897.3 4402.8v33M-881.4 4415.1h33M-864.9 4398.6v33M-849.1 4409.4h33M-832.6 4392.9v33M-816.8 4403.7h33M-800.3 4387.2v33M-784.4 4398.0h33M-767.9 4381.5v33M-752.1 4392.4h33M-735.6 4375.9v33M-719.8 4383.5h33M-703.3 4367.0v33M-687.4 4374.6h33M-670.9 4358.1v33M-655.1 4365.8h33M-638.6 4349.3v33M-622.8 4356.9h33M-606.3 4340.4v33M-590.4 4346.1h33M-573.9 4329.6v33M-558.1 4334.2h33M-541.6 4317.7v33M-525.8 4322.4h33M-509.3 4305.9v33M-493.4 4310.6h33M-476.9 4294.1v33M-461.1 4298.7h33M-444.6 4282.2v33M-428.8 4286.5h33M-412.3 4270.0v33M-396.4 4274.2h33M-379.9 4257.7v33M-364.1 4262.0h33M-347.6 4245.5v33M-331.8 4249.8h33M-315.3 4233.3v33M-299.4 4241.3h33M-282.9 4224.8v33M-267.1 4234.3h33M-250.6 4217.8v33M-234.8 4227.2h33M-218.3 4210.7v33M-202.5 4220.1h33M-186.0 4203.6v33M-170.1 4213.2h33M-153.6 4196.7v33M-137.8 4207.1h33M-121.3 4190.6v33M-105.5 4201.0h33M-89.0 4184.5v33M-73.1 4194.8h33M-56.6 4178.3v33M-40.8 4188.7h33M-24.3 4172.2v33M-8.5 4182.8h33M8.0 4166.3v33M23.9 4177.0h33M40.4 4160.5v33M56.2 4171.3h33M72.7 4154.8v33M88.5 4165.5h33M105.0 4149.0v33M120.9 4160.0h33M137.4 4143.5v33M153.2 4155.2h33M169.7 4138.7v33M185.5 4150.4h33M202.0 4133.9v33M217.9 4145.6h33M234.4 4129.1v33M250.2 4140.9h33M266.7 4124.4v33M282.5 4136.2h33M299.0 4119.7v33M314.9 4131.7h33M331.4 4115.2v33M347.2 4127.1h33M363.7 4110.6v33M379.5 4122.6h33M396.0 4106.1v33M411.9 4118.4h33M428.4 4101.9v33M444.2 4117.3h33M460.7 4100.8v33M476.5 4112.9h33M493.0 4096.4v33M508.9 4108.0h33M525.4 4091.5v33M541.2 4102.1h33M557.7 4085.6v33M573.5 4097.3h33M590.0 4080.8v33M605.9 4092.5h33M622.4 4076.0v33M638.2 4086.9h33M654.7 4070.4v33M670.5 4081.8h33M687.0 4065.3v33M702.9 4076.6h33M719.4 4060.1v33M735.2 4072.6h33M751.7 4056.1v33M767.5 4067.2h33M784.0 4050.7v33M799.9 4061.4h33M816.4 4044.9v33M832.2 4056.6h33M848.7 4040.1v33M864.5 4050.6h33M881.0 4034.1v33M896.8 4044.6h33M913.3 4028.1v33M929.2 4038.3h33M945.7 4021.8v33M961.5 4030.7h33M978.0 4014.2v33M993.8 4023.4h33M1010.3 4006.9v33M1026.2 4016.0h33M1042.7 3999.5v33M1058.5 4006.1h33M1075.0 3989.6v33M1090.8 3996.1h33M1107.3 3979.6v33M1123.2 3986.2h33M1139.7 3969.7v33M1155.5 3974.4h33M1172.0 3957.9v33M1187.8 3961.7h33M1204.3 3945.2v33M1220.2 3940.7h33M1236.7 3924.2v33M1252.5 3918.5h33M1269.0 3902.0v33M1284.8 3895.1h33M1301.3 3878.6v33M1317.2 3857.2h33M1333.7 3840.7v33M1349.5 3817.3h33M1366.0 3800.8v33M1381.8 3756.5h33M1398.3 3740.0v33M1414.2 3658.4h33M1430.7 3641.9v33M1446.5 3549.3h33M1463.0 3532.8v33M1478.8 3390.7h33M1495.3 3374.2v33M1511.2 3233.8h33M1527.7 3217.3v33M1543.5 3071.5h33M1560.0 3055.0v33M1575.8 2905.3h33M1592.3 2888.8v33M1608.2 2714.9h33M1624.7 2698.4v33M1640.5 2532.6h33M1657.0 2516.1v33M1672.8 2332.1h33M1689.3 2315.6v33M1705.2 2134.3h33M1721.7 2117.8v33M1737.5 1930.7h33M1754.0 1914.2v33M1769.8 1722.1h33M1786.3 1705.6v33M1802.2 1521.8h33M1818.7 1505.3v33M1834.5 1308.5h33M1851.0 1292.0v33M1866.8 1115.9h33M1883.3 1099.4v33M1899.1 910.6h33M1915.6 894.1v33M1931.5 711.0h33M1948.0 694.5v33M1963.8 509.7h33M1980.3 493.2v33M1996.1 319.2h33M2012.6 302.7v33M2028.5 128.1h33M2045.0 111.6v33M2060.8 -63.1h33M2077.3 -79.6v33M2093.1 -254.3h33M2109.6 -270.8v33M2125.5 -445.5h33M2142.0 -462.0v33" stroke="#1f77b4" stroke-width="6" fill="none"/>
<path d="M-2324.9 4470.4H-2206.9M-1979.5 4464.1H-1837.4M-1642.3 4457.9H-1535.7M-1317.2 4447.5H-1232.0M494.4 4101.8H553.4M595.4 4085.1H654.3M699.8 4069.5H758.8M793.6 4053.3H852.6M890.3 4037.5H949.2M969.1 4021.6H1022.4M1029.5 3998.3H1072.2M1099.9 3980.3H1138.3M1147.8 3961.2H1183.4M1183.4 3942.1H1218.9M1222.1 3923.0H1254.1M1243.8 3905.2H1275.8M1269.0 3886.1H1297.4M1285.3 3865.6H1313.8M1302.8 3846.4H1329.0M1319.1 3827.3H1345.4M1332.6 3805.5H1358.9M-1060.7 4436.0H-1001.7M-1009.0 4418.8H-950.0M-852.7 4401.7H-793.7M-757.5 4384.5H-698.5M-694.4 4367.3H-635.4M-631.3 4350.1H-572.3M-582.4 4332.9H-523.4M-535.2 4315.8H-476.2M-488.0 4298.6H-429.0M-442.2 4281.4H-383.2M-396.8 4264.2H-337.8M-351.4 4247.0H-292.4M-283.3 4229.9H-224.3M-203.8 4212.7H-144.9M-115.2 4195.5H-56.2M-23.8 4178.3H35.2M70.0 4161.1H128.9M181.6 4144.0H240.6M301.5 4126.8H360.5M1346.1 3783.2H1370.9M1355.6 3763.2H1380.5M1363.6 3743.0H1388.5M1371.5 3722.6H1396.3M1379.0 3701.9H1403.8M1386.0 3681.0H1410.9M1392.6 3659.8H1417.4M1399.6 3638.4H1424.4M1406.2 3616.7H1431.1M1412.3 3594.7H1437.2M1417.9 3572.5H1442.8M1423.7 3550.0H1448.6M1429.4 3527.3H1454.2M1439.0 3504.3H1463.9M1443.7 3493.7H1468.5M1454.0 3470.3H1478.8M1464.4 3446.6H1489.3M1472.4 3422.6H1497.3M1478.0 3398.3H1502.8M1483.5 3373.8H1508.4M1489.2 3348.9H1514.1M1494.7 3323.7H1519.5M1499.6 3298.3H1524.4M1504.6 3272.5H1529.4M1509.6 3246.4H1534.5M1514.7 3220.0H1539.6M1520.1 3193.3H1544.9M1525.5 3166.3H1550.4M1531.0 3138.9H1555.8M1536.5 3111.2H1561.3M1542.0 3083.2H1566.9M1547.7 3054.9H1572.5M1553.3 3026.2H1578.2M1559.1 2997.1H1583.9M1564.8 2967.7H1589.7M1570.7 2938.0H1595.5M1576.3 2907.9H1601.1M1581.4 2877.4H1606.3M1586.6 2846.6H1611.5M1591.9 2815.4H1616.7M1597.3 2783.9H1622.1M1602.7 2751.9H1627.6M1608.2 2719.6H1633.1M1614.0 2686.9H1638.8M1619.8 2653.8H1644.6M1625.7 2620.3H1650.5M1631.7 2586.3H1656.6M1637.9 2552.0H1662.7M1644.1 2517.3H1669.0M1650.0 2482.2H1674.9M1655.9 2446.6H1680.8M1661.9 2410.6H1686.7M1667.4 2374.2H1692.3M1672.9 2337.3H1697.8M1678.6 2300.0H1703.5M1685.4 2262.3H1710.2M1692.2 2224.1H1717.1M1698.6 2185.4H1723.5M1704.3 2146.3H1729.2M1710.0 2106.7H1734.9M1716.6 2066.6H1741.5M1723.5 2026.0H1748.4M1730.3 1985.0H1755.2M1736.5 1943.5H1761.3M1742.7 1901.4H1767.6M1749.2 1858.9H1774.1M1755.9 1815.9H1780.7M1762.6 1772.3H1787.5M1769.7 1728.2H1794.6M1776.9 1683.6H1801.7M1784.4 1638.5H1809.3M1792.2 1592.8H1817.0M1799.3 1546.5H1824.2M1806.3 1499.7H1831.2M1813.2 1452.4H1838.1M1820.2 1404.5H1845.1M1827.5 1356.0H1852.4M1835.6 1306.9H1860.5M1843.9 1257.2H1868.8M1852.9 1206.9H1877.7M1861.7 1156.1H1886.6M1869.4 1104.6H1894.2M1877.2 1052.5H1902.0M1885.7 999.8H1910.6M1894.3 946.4H1919.2M1902.9 892.4H1927.8M1911.6 837.8H1936.5M1920.6 782.5H1945.5M1929.8 726.5H1954.6M1939.2 669.9H1964.1M1948.4 612.6H1973.3M1957.4 554.6H1982.2M1967.0 495.9H1991.9M1977.2 436.5H2002.0M1987.3 376.4H2012.2M1997.6 315.5H2022.5M2008.0 254.0H2032.9M2018.6 191.7H2043.5M2029.3 128.6H2054.1M2040.1 64.8H2064.9M2051.0 0.2H2075.8M2062.0 -65.1H2086.9M2073.2 -131.3H2098.1M2084.5 -198.2H2109.4M2096.0 -265.9H2120.8M2107.6 -334.5H2132.4M2119.3 -403.8H2144.2M2131.2 -474.0H2156.0M2138.1 -545.1H2162.9M2138.1 -617.0H2162.9M2138.1 -689.7H2162.9M2138.1 -763.3H2162.9M2138.1 -837.9H2162.9M2138.1 -913.3H2162.9" stroke="#ff7f0e" stroke-width="11" fill="none"/>
<path d="M-2324.9 4453.9v33M-2206.9 4453.9v33M-1979.5 4447.6v33M-1837.4 4447.6v33M-1642.3 4441.4v33M-1535.7 4441.4v33M-1317.2 4431.0v33M-1232.0 4431.0v33M494.4 4085.3v33M553.4 4085.3v33M595.4 4068.6v33M654.3 4068.6v33M699.8 4053.0v33M758.8 4053.0v33M793.6 4036.8v33M852.6 4036.8v33M890.3 4021.0v33M949.2 4021.0v33M969.1 4005.1v33M1022.4 4005.1v33M1029.5 3981.8v33M1072.2 3981.8v33M1099.9 3963.8v33M1138.3 3963.8v33M1147.8 3944.7v33M1183.4 3944.7v33M1183.4 3925.6v33M1218.9 3925.6v33M1222.1 3906.5v33M1254.1 3906.5v33M1243.8 3888.7v33M1275.8 3888.7v33M1269.0 3869.6v33M1297.4 3869.6v33M1285.3 3849.1v33M1313.8 3849.1v33M1302.8 3829.9v33M1329.0 3829.9v33M1319.1 3810.8v33M1345.4 3810.8v33M1332.6 3789.0v33M1358.9 3789.0v33M-1060.7 4419.5v33M-1001.7 4419.5v33M-1009.0 4402.3v33M-950.0 4402.3v33M-852.7 4385.2v33M-793.7 4385.2v33M-757.5 4368.0v33M-698.5 4368.0v33M-694.4 4350.8v33M-635.4 4350.8v33M-631.3 4333.6v33M-572.3 4333.6v33M-582.4 4316.4v33M-523.4 4316.4v33M-535.2 4299.3v33M-476.2 4299.3v33M-488.0 4282.1v33M-429.0 4282.1v33M-442.2 4264.9v33M-383.2 4264.9v33M-396.8 4247.7v33M-337.8 4247.7v33M-351.4 4230.5v33M-292.4 4230.5v33M-283.3 4213.4v33M-224.3 4213.4v33M-203.8 4196.2v33M-144.9 4196.2v33M-115.2 4179.0v33M-56.2 4179.0v33M-23.8 4161.8v33M35.2 4161.8v33M70.0 4144.6v33M128.9 4144.6v33M181.6 4127.5v33M240.6 4127.5v33M301.5 4110.3v33M360.5 4110.3v33M1346.1 3766.7v33M1370.9 3766.7v33M1355.6 3746.7v33M1380.5 3746.7v33M1363.6 3726.5v33M1388.5 3726.5v33M1371.5 3706.1v33M1396.3 3706.1v33M1379.0 3685.4v33M1403.8 3685.4v33M1386.0 3664.5v33M1410.9 3664.5v33M1392.6 3643.3v33M1417.4 3643.3v33M1399.6 3621.9v33M1424.4 3621.9v33M1406.2 3600.2v33M1431.1 3600.2v33M1412.3 3578.2v33M1437.2 3578.2v33M1417.9 3556.0v33M1442.8 3556.0v33M1423.7 3533.5v33M1448.6 3533.5v33M1429.4 3510.8v33M1454.2 3510.8v33M1439.0 3487.8v33M1463.9 3487.8v33M1443.7 3477.2v33M1468.5 3477.2v33M1454.0 3453.8v33M1478.8 3453.8v33M1464.4 3430.1v33M1489.3 3430.1v33M1472.4 3406.1v33M1497.3 3406.1v33M1478.0 3381.8v33M1502.8 3381.8v33M1483.5 3357.3v33M1508.4 3357.3v33M1489.2 3332.4v33M1514.1 3332.4v33M1494.7 3307.2v33M1519.5 3307.2v33M1499.6 3281.8v33M1524.4 3281.8v33M1504.6 3256.0v33M1529.4 3256.0v33M1509.6 3229.9v33M1534.5 3229.9v33M1514.7 3203.5v33M1539.6 3203.5v33M1520.1 3176.8v33M1544.9 3176.8v33M1525.5 3149.8v33M1550.4 3149.8v33M1531.0 3122.4v33M1555.8 3122.4v33M1536.5 3094.7v33M1561.3 3094.7v33M1542.0 3066.7v33M1566.9 3066.7v33M1547.7 3038.4v33M1572.5 3038.4v33M1553.3 3009.7v33M1578.2 3009.7v33M1559.1 2980.6v33M1583.9 2980.6v33M1564.8 2951.2v33M1589.7 2951.2v33M1570.7 2921.5v33M1595.5 2921.5v33M1576.3 2891.4v33M1601.1 2891.4v33M1581.4 2860.9v33M1606.3 2860.9v33M1586.6 2830.1v33M1611.5 2830.1v33M1591.9 2798.9v33M1616.7 2798.9v33M1597.3 2767.4v33M1622.1 2767.4v33M1602.7 2735.4v33M1627.6 2735.4v33M1608.2 2703.1v33M1633.1 2703.1v33M1614.0 2670.4v33M1638.8 2670.4v33M1619.8 2637.3v33M1644.6 2637.3v33M1625.7 2603.8v33M1650.5 2603.8v33M1631.7 2569.8v33M1656.6 2569.8v33M1637.9 2535.5v33M1662.7 2535.5v33M1644.1 2500.8v33M1669.0 2500.8v33M1650.0 2465.7v33M1674.9 2465.7v33M1655.9 2430.1v33M1680.8 2430.1v33M1661.9 2394.1v33M1686.7 2394.1v33M1667.4 2357.7v33M1692.3 2357.7v33M1672.9 2320.8v33M1697.8 2320.8v33M1678.6 2283.5v33M1703.5 2283.5v33M1685.4 2245.8v33M1710.2 2245.8v33M1692.2 2207.6v33M1717.1 2207.6v33M1698.6 2168.9v33M1723.5 2168.9v33M1704.3 2129.8v33M1729.2 2129.8v33M1710.0 2090.2v33M1734.9 2090.2v33M1716.6 2050.1v33M1741.5 2050.1v33M1723.5 2009.5v33M1748.4 2009.5v33M1730.3 1968.5v33M1755.2 1968.5v33M1736.5 1927.0v33M1761.3 1927.0v33M1742.7 1884.9v33M1767.6 1884.9v33M1749.2 1842.4v33M1774.1 1842.4v33M1755.9 1799.4v33M1780.7 1799.4v33M1762.6 1755.8v33M1787.5 1755.8v33M1769.7 1711.7v33M1794.6 1711.7v33M1776.9 1667.1v33M1801.7 1667.1v33M1784.4 1622.0v33M1809.3 1622.0v33M1792.2 1576.3v33M1817.0 1576.3v33M1799.3 1530.0v33M1824.2 1530.0v33M1806.3 1483.2v33M1831.2 1483.2v33M1813.2 1435.9v33M1838.1 1435.9v33M1820.2 1388.0v33M1845.1 1388.0v33M1827.5 1339.5v33M1852.4 1339.5v33M1835.6 1290.4v33M1860.5 1290.4v33M1843.9 1240.7v33M1868.8 1240.7v33M1852.9 1190.4v33M1877.7 1190.4v33M1861.7 1139.6v33M1886.6 1139.6v33M1869.4 1088.1v33M1894.2 1088.1v33M1877.2 1036.0v33M1902.0 1036.0v33M1885.7 983.3v33M1910.6 983.3v33M1894.3 929.9v33M1919.2 929.9v33M1902.9 875.9v33M1927.8 875.9v33M1911.6 821.3v33M1936.5 821.3v33M1920.6 766.0v33M1945.5 766.0v33M1929.8 710.0v33M1954.6 710.0v33M1939.2 653.4v33M1964.1 653.4v33M1948.4 596.1v33M1973.3 596.1v33M1957.4 538.1v33M1982.2 538.1v33M1967.0 479.4v33M1991.9 479.4v33M1977.2 420.0v33M2002.0 420.0v33M1987.3 359.9v33M2012.2 359.9v33M1997.6 299.0v33M2022.5 299.0v33M2008.0 237.5v33M2032.9 237.5v33M2018.6 175.2v33M2043.5 175.2v33M2029.3 112.1v33M2054.1 112.1v33M2040.1 48.3v33M2064.9 48.3v33M2051.0 -16.3v33M2075.8 -16.3v33M2062.0 -81.6v33M2086.9 -81.6v33M2073.2 -147.8v33M2098.1 -147.8v33M2084.5 -214.7v33M2109.4 -214.7v33M2096.0 -282.4v33M2120.8 -282.4v33M2107.6 -351.0v33M2132.4 -351.0v33M2119.3 -420.3v33M2144.2 -420.3v33M2131.2 -490.5v33M2156.0 -490.5v33M2138.1 -561.6v33M2162.9 -561.6v33M2138.1 -633.5v33M2162.9 -633.5v33M2138.1 -706.2v33M2162.9 -706.2v33M2138.1 -779.8v33M2162.9 -779.8v33M2138.1 -854.4v33M2162.9 -854.4v33M2138.1 -929.8v33M2162.9 -929.8v33M-2282.4 4470.4h33M-2265.9 4453.9v33M-1924.9 4464.1h33M-1908.4 4447.6v33M-1605.5 4457.9h33M-1589.0 4441.4v33M-1291.1 4447.5h33M-1274.6 4431.0v33M507.4 4101.8h33M523.9 4085.3v33M608.3 4085.1h33M624.8 4068.6v33M712.8 4069.5h33M729.3 4053.0v33M806.6 4053.3h33M823.1 4036.8v33M903.2 4037.5h33M919.7 4021.0v33M979.3 4021.6h33M995.8 4005.1v33M1034.3 3998.3h33M1050.8 3981.8v33M1102.6 3980.3h33M1119.1 3963.8v33M1149.1 3961.2h33M1165.6 3944.7v33M1184.6 3942.1h33M1201.1 3925.6v33M1221.6 3923.0h33M1238.1 3906.5v33M1243.3 3905.2h33M1259.8 3888.7v33M1266.7 3886.1h33M1283.2 3869.6v33M1283.1 3865.6h33M1299.6 3849.1v33M1299.4 3846.4h33M1315.9 3829.9v33M1315.7 3827.3h33M1332.2 3810.8v33M1329.2 3805.5h33M1345.7 3789.0v33M-1047.7 4436.0h33M-1031.2 4419.5v33M-996.0 4418.8h33M-979.5 4402.3v33M-839.7 4401.7h33M-823.2 4385.2v33M-744.5 4384.5h33M-728.0 4368.0v33M-681.4 4367.3h33M-664.9 4350.8v33M-618.3 4350.1h33M-601.8 4333.6v33M-569.4 4332.9h33M-552.9 4316.4v33M-522.2 4315.8h33M-505.7 4299.3v33M-475.0 4298.6h33M-458.5 4282.1v33M-429.2 4281.4h33M-412.7 4264.9v33M-383.8 4264.2h33M-367.3 4247.7v33M-338.4 4247.0h33M-321.9 4230.5v33M-270.3 4229.9h33M-253.8 4213.4v33M-190.9 4212.7h33M-174.4 4196.2v33M-102.2 4195.5h33M-85.7 4179.0v33M-10.8 4178.3h33M5.7 4161.8v33M82.9 4161.1h33M99.4 4144.6v33M194.6 4144.0h33M211.1 4127.5v33M314.5 4126.8h33M331.0 4110.3v33M1342.0 3783.2h33M1358.5 3766.7v33M1351.5 3763.2h33M1368.0 3746.7v33M1359.5 3743.0h33M1376.0 3726.5v33M1367.4 3722.6h33M1383.9 3706.1v33M1374.9 3701.9h33M1391.4 3685.4v33M1381.9 3681.0h33M1398.4 3664.5v33M1388.5 3659.8h33M1405.0 3643.3v33M1395.5 3638.4h33M1412.0 3621.9v33M1402.2 3616.7h33M1418.7 3600.2v33M1408.2 3594.7h33M1424.7 3578.2v33M1413.9 3572.5h33M1430.4 3556.0v33M1419.7 3550.0h33M1436.2 3533.5v33M1425.3 3527.3h33M1441.8 3510.8v33M1435.0 3504.3h33M1451.5 3487.8v33M1439.6 3493.7h33M1456.1 3477.2v33M1449.9 3470.3h33M1466.4 3453.8v33M1460.3 3446.6h33M1476.8 3430.1v33M1468.4 3422.6h33M1484.9 3406.1v33M1473.9 3398.3h33M1490.4 3381.8v33M1479.5 3373.8h33M1496.0 3357.3v33M1485.1 3348.9h33M1501.6 3332.4v33M1490.6 3323.7h33M1507.1 3307.2v33M1495.5 3298.3h33M1512.0 3281.8v33M1500.5 3272.5h33M1517.0 3256.0v33M1505.5 3246.4h33M1522.0 3229.9v33M1510.7 3220.0h33M1527.2 3203.5v33M1516.0 3193.3h33M1532.5 3176.8v33M1521.4 3166.3h33M1537.9 3149.8v33M1526.9 3138.9h33M1543.4 3122.4v33M1532.4 3111.2h33M1548.9 3094.7v33M1538.0 3083.2h33M1554.5 3066.7v33M1543.6 3054.9h33M1560.1 3038.4v33M1549.3 3026.2h33M1565.8 3009.7v33M1555.0 2997.1h33M1571.5 2980.6v33M1560.8 2967.7h33M1577.3 2951.2v33M1566.6 2938.0h33M1583.1 2921.5v33M1572.2 2907.9h33M1588.7 2891.4v33M1577.3 2877.4h33M1593.8 2860.9v33M1582.5 2846.6h33M1599.0 2830.1v33M1587.8 2815.4h33M1604.3 2798.9v33M1593.2 2783.9h33M1609.7 2767.4v33M1598.6 2751.9h33M1615.1 2735.4v33M1604.2 2719.6h33M1620.7 2703.1v33M1609.9 2686.9h33M1626.4 2670.4v33M1615.7 2653.8h33M1632.2 2637.3v33M1621.6 2620.3h33M1638.1 2603.8v33M1627.7 2586.3h33M1644.2 2569.8v33M1633.8 2552.0h33M1650.3 2535.5v33M1640.0 2517.3h33M1656.5 2500.8v33M1646.0 2482.2h33M1662.5 2465.7v33M1651.8 2446.6h33M1668.3 2430.1v33M1657.8 2410.6h33M1674.3 2394.1v33M1663.3 2374.2h33M1679.8 2357.7v33M1668.8 2337.3h33M1685.3 2320.8v33M1674.5 2300.0h33M1691.0 2283.5v33M1681.3 2262.3h33M1697.8 2245.8v33M1688.2 2224.1h33M1704.7 2207.6v33M1694.6 2185.4h33M1711.1 2168.9v33M1700.2 2146.3h33M1716.7 2129.8v33M1706.0 2106.7h33M1722.5 2090.2v33M1712.6 2066.6h33M1729.1 2050.1v33M1719.5 2026.0h33M1736.0 2009.5v33M1726.2 1985.0h33M1742.7 1968.5v33M1732.4 1943.5h33M1748.9 1927.0v33M1738.6 1901.4h33M1755.1 1884.9v33M1745.1 1858.9h33M1761.6 1842.4v33M1751.8 1815.9h33M1768.3 1799.4v33M1758.6 1772.3h33M1775.1 1755.8v33M1765.6 1728.2h33M1782.1 1711.7v33M1772.8 1683.6h33M1789.3 1667.1v33M1780.4 1638.5h33M1796.9 1622.0v33M1788.1 1592.8h33M1804.6 1576.3v33M1795.3 1546.5h33M1811.8 1530.0v33M1802.2 1499.7h33M1818.7 1483.2v33M1809.2 1452.4h33M1825.7 1435.9v33M1816.1 1404.5h33M1832.6 1388.0v33M1823.4 1356.0h33M1839.9 1339.5v33M1831.6 1306.9h33M1848.1 1290.4v33M1839.9 1257.2h33M1856.4 1240.7v33M1848.8 1206.9h33M1865.3 1190.4v33M1857.7 1156.1h33M1874.2 1139.6v33M1865.3 1104.6h33M1881.8 1088.1v33M1873.1 1052.5h33M1889.6 1036.0v33M1881.6 999.8h33M1898.1 983.3v33M1890.3 946.4h33M1906.8 929.9v33M1898.8 892.4h33M1915.3 875.9v33M1907.5 837.8h33M1924.0 821.3v33M1916.5 782.5h33M1933.0 766.0v33M1925.7 726.5h33M1942.2 710.0v33M1935.2 669.9h33M1951.7 653.4v33M1944.4 612.6h33M1960.9 596.1v33M1953.3 554.6h33M1969.8 538.1v33M1963.0 495.9h33M1979.5 479.4v33M1973.1 436.5h33M1989.6 420.0v33M1983.3 376.4h33M1999.8 359.9v33M1993.6 315.5h33M2010.1 299.0v33M2004.0 254.0h33M2020.5 237.5v33M2014.5 191.7h33M2031.0 175.2v33M2025.2 128.6h33M2041.7 112.1v33M2036.0 64.8h33M2052.5 48.3v33M2046.9 0.2h33M2063.4 -16.3v33M2058.0 -65.1h33M2074.5 -81.6v33M2069.1 -131.3h33M2085.6 -147.8v33M2080.5 -198.2h33M2097.0 -214.7v33M2091.9 -265.9h33M2108.4 -282.4v33M2103.5 -334.5h33M2120.0 -351.0v33M2115.2 -403.8h33M2131.7 -420.3v33M2127.1 -474.0h33M2143.6 -490.5v33M2134.0 -545.1h33M2150.5 -561.6v33M2134.0 -617.0h33M2150.5 -633.5v33M2134.0 -689.7h33M2150.5 -706.2v33M2134.0 -763.3h33M2150.5 -779.8v33M2134.0 -837.9h33M2150.5 -854.4v33M2134.0 -913.3h33M2150.5 -929.8v33" stroke="#ff7f0e" stroke-width="6" fill="none"/>
<polyline points="-2589.2,4482.9 -2233.9,4476.6 -1878.6,4468.3 -1523.3,4457.9 -1239.1,4445.4 -1031.2,4422.5 -883.4,4412.1 -735.2,4386.5 -594.9,4348.3 -447.1,4294.4 -306.8,4241.3 -158.9,4209.4 -10.8,4181.3 129.6,4155.6 277.4,4134.5 425.2,4113.3 469.9,4110.8 496.9,4106.0 523.9,4102.0 552.4,4096.6 579.4,4092.6 606.7,4088.7 634.4,4084.3 662.5,4079.3 691.3,4074.9 718.3,4070.5 746.4,4067.1 773.7,4063.2 801.8,4057.2 829.9,4053.3 857.6,4048.9 885.3,4043.5 912.6,4038.5 941.1,4033.2 969.1,4027.3 996.1,4020.3 1022.8,4012.5 1050.8,4005.4 1077.1,3999.8 1104.1,3991.2 1130.4,3981.8 1157.4,3972.3 1182.7,3961.3 1207.2,3946.2 1231.0,3933.0 1255.5,3920.2 1277.5,3901.2 1298.1,3882.3 1316.3,3859.6 1333.0,3838.3 1348.6,3813.6 1361.0,3789.0 1373.1,3763.9 1383.4,3737.9 1393.4,3711.8 1402.2,3685.8 1411.1,3657.3 1419.6,3631.3 1427.5,3605.1 1434.6,3576.8 1441.7,3549.3 1447.7,3525.0 1468.0,3434.4 1491.4,3331.3 1511.3,3228.2 1531.9,3125.2 1552.2,3023.1 1572.4,2920.0 1589.8,2817.0 1607.2,2714.9 1625.4,2611.8 1643.8,2508.8 1660.9,2405.7 1676.2,2303.6 1694.7,2200.6 1709.6,2097.5 1727.0,1995.5 1742.3,1892.4 1759.3,1782.0 1775.7,1680.0 1793.1,1576.9 1808.3,1473.8 1823.6,1368.7 1840.7,1265.6 1859.2,1161.5 1874.4,1058.4 1891.5,953.2 1907.8,850.1 1925.2,742.9 1942.3,640.9 1958.6,534.6 1975.7,434.7 1982.8,391.0" fill="none" stroke="#000" stroke-width="11.5" stroke-dasharray="11.5 17"/>
</g>
<line x1="608.5" y1="4141.0" x2="608.5" y2="4160.0" class="tk"/>
<text x="608.0" y="4234.8" font-size="80" text-anchor="middle" textLength="102" lengthAdjust="spacingAndGlyphs" class="tl">0.9</text>
<line x1="963.8" y1="4141.0" x2="963.8" y2="4160.0" class="tk"/>
<text x="963.3" y="4234.8" font-size="80" text-anchor="middle" textLength="102" lengthAdjust="spacingAndGlyphs" class="tl">1.0</text>
<line x1="1319.1" y1="4141.0" x2="1319.1" y2="4160.0" class="tk"/>
<text x="1318.6" y="4234.8" font-size="80" text-anchor="middle" textLength="102" lengthAdjust="spacingAndGlyphs" class="tl">1.1</text>
<line x1="446.7" y1="4066.4" x2="465.7" y2="4066.4" class="tk"/>
<text x="429.5" y="4093.9" font-size="80" text-anchor="end" textLength="102" lengthAdjust="spacingAndGlyphs" class="tl">0.4</text>
<line x1="446.7" y1="3858.2" x2="465.7" y2="3858.2" class="tk"/>
<text x="429.5" y="3885.7" font-size="80" text-anchor="end" textLength="102" lengthAdjust="spacingAndGlyphs" class="tl">0.6</text>
<line x1="446.7" y1="3649.9" x2="465.7" y2="3649.9" class="tk"/>
<text x="429.5" y="3677.4" font-size="80" text-anchor="end" textLength="102" lengthAdjust="spacingAndGlyphs" class="tl">0.8</text>
<rect x="465.7" y="3530.5" width="1031.8" height="610.5" fill="none" stroke="#000" stroke-width="4.8"/>
<rect x="569.1" y="3330.6" width="708.9" height="383.4" rx="14" ry="14" fill="#fff" stroke="#c9c9c9" stroke-width="5.5"/>
<g stroke="#1f77b4"><line x1="680.5" y1="3350.0" x2="680.5" y2="3430.0" stroke-width="11"/><line x1="664.0" y1="3350.0" x2="697.0" y2="3350.0" stroke-width="6"/><line x1="664.0" y1="3430.0" x2="697.0" y2="3430.0" stroke-width="6"/><line x1="664.0" y1="3390.0" x2="697.0" y2="3390.0" stroke-width="6"/></g>
<g stroke="#ff7f0e"><line x1="640.3" y1="3508.0" x2="720.3" y2="3508.0" stroke-width="11"/><line x1="640.3" y1="3491.5" x2="640.3" y2="3524.5" stroke-width="6"/><line x1="720.3" y1="3491.5" x2="720.3" y2="3524.5" stroke-width="6"/><line x1="680.3" y1="3491.5" x2="680.3" y2="3524.5" stroke-width="6"/></g>
<line x1="600" y1="3631.5" x2="753.5" y2="3631.5" stroke="#000" stroke-width="11.5" stroke-dasharray="11.8 16.4"/>
<text x="823.5" y="3417.9" font-size="80" textLength="328.5" lengthAdjust="spacingAndGlyphs" class="lab">Isometric</text>
<text x="823.5" y="3535.9" font-size="80" textLength="417" lengthAdjust="spacingAndGlyphs" class="lab">Isotensional</text>
<text x="825" y="3650.8" font-size="80" textLength="62" lengthAdjust="spacingAndGlyphs" class="lab">−</text>
<text x="893" y="3644.8" font-size="80" font-style="italic" class="lab">x</text>
<text x="936" y="3659.0" font-size="57" textLength="66" lengthAdjust="spacingAndGlyphs" class="lab">LF</text>
<text x="1010" y="3646.8" font-size="86" class="lab">(</text>
<text x="1038" y="3644.8" font-size="80" font-style="italic" class="dvf" textLength="32" lengthAdjust="spacingAndGlyphs">f</text>
<text x="1086" y="3646.8" font-size="86" class="lab">)</text>
</svg>
</body></html>
